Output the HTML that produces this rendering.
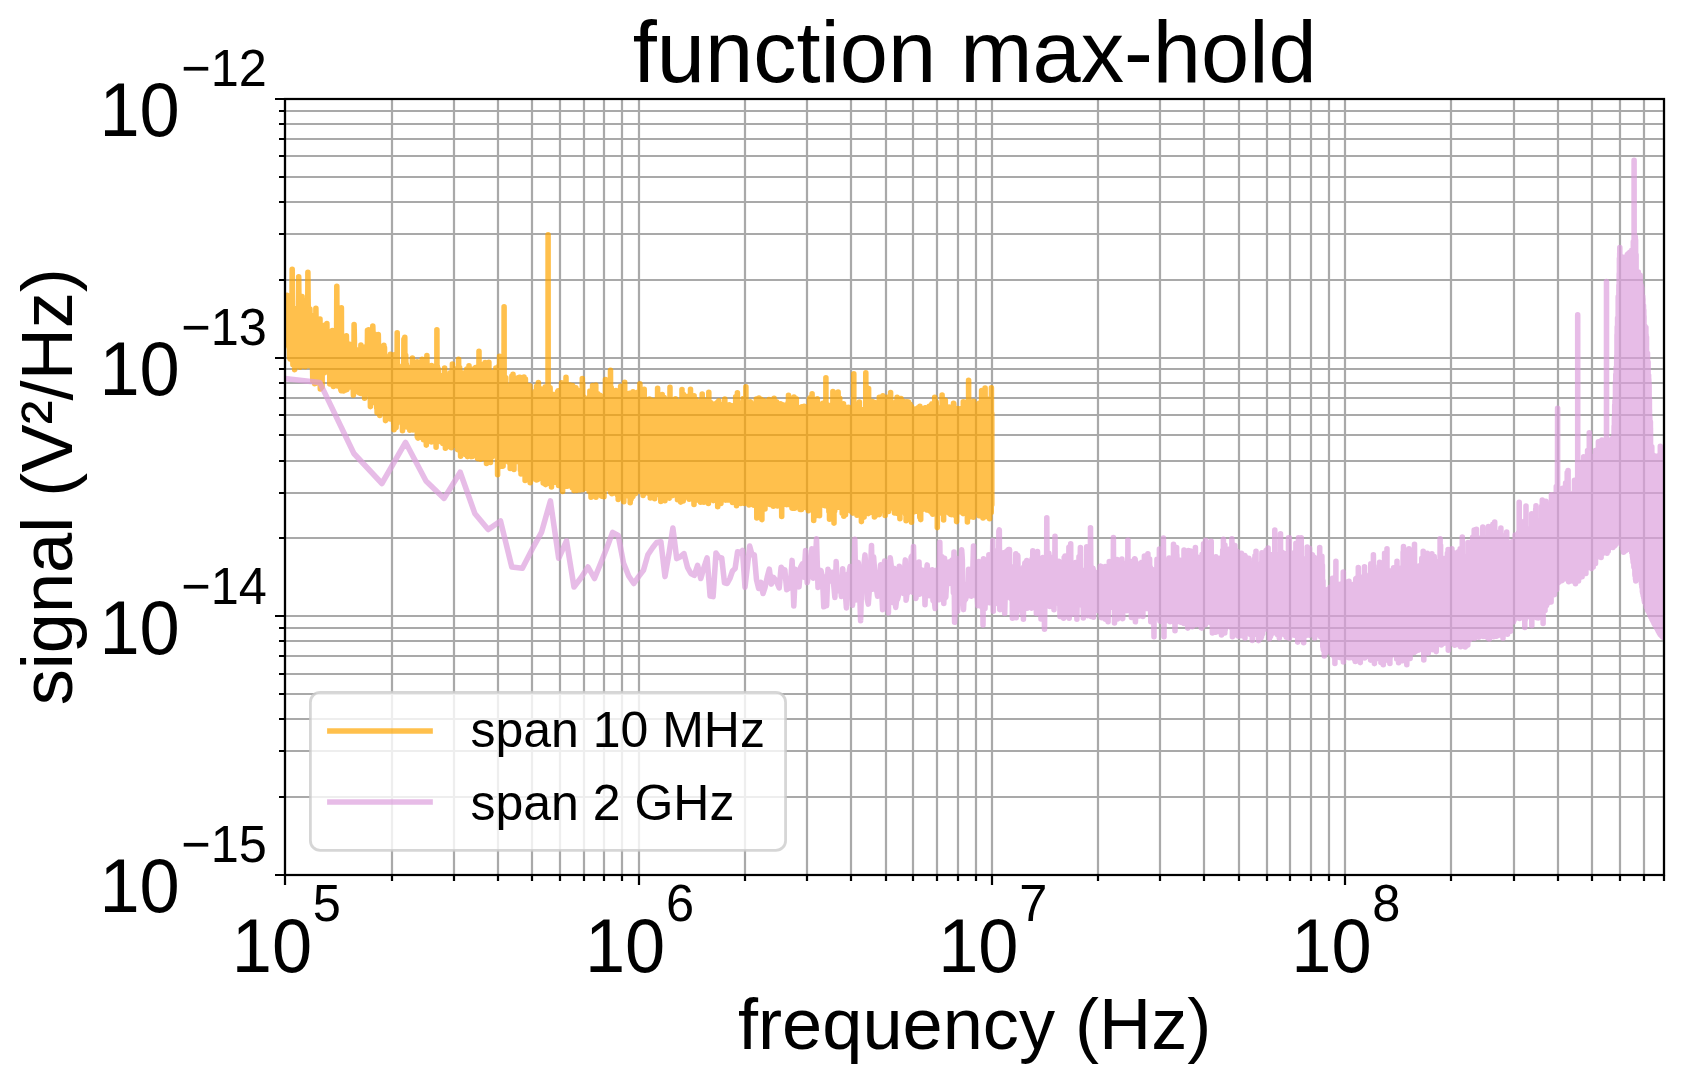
<!DOCTYPE html>
<html lang="en"><head><meta charset="utf-8"><title>function max-hold</title>
<style>html,body{margin:0;padding:0;background:#fff}body{width:1684px;height:1084px;overflow:hidden}svg{display:block}text{font-family:"Liberation Sans",sans-serif;fill:#000}</style></head><body>
<svg width="1684" height="1084" viewBox="0 0 1684 1084">
<rect width="1684" height="1084" fill="#fff"/>
<defs><clipPath id="ax"><rect x="285" y="99" width="1379" height="776"/></clipPath></defs>
<path d="M285 99V875M639 99V875M992 99V875M1345 99V875M392 99V875M454 99V875M498 99V875M532 99V875M560 99V875M584 99V875M604 99V875M622 99V875M745 99V875M807 99V875M851 99V875M886 99V875M913 99V875M937 99V875M958 99V875M976 99V875M1098 99V875M1160 99V875M1204 99V875M1239 99V875M1267 99V875M1290 99V875M1311 99V875M1329 99V875M1451 99V875M1514 99V875M1558 99V875M1592 99V875M1620 99V875M1644 99V875M1664 99V875M285 875H1664M285 616H1664M285 358H1664M285 99H1664M285 797H1664M285 751H1664M285 719H1664M285 694H1664M285 674H1664M285 656H1664M285 641H1664M285 628H1664M285 538H1664M285 493H1664M285 461H1664M285 435H1664M285 415H1664M285 398H1664M285 383H1664M285 369H1664M285 280H1664M285 234H1664M285 202H1664M285 177H1664M285 156H1664M285 139H1664M285 124H1664M285 111H1664" stroke="#a9a9a9" stroke-width="2.22" fill="none"/>
<g clip-path="url(#ax)" fill="none" stroke-width="5.56" stroke-linejoin="round" stroke-linecap="square">
<path stroke="#ffa500" stroke-opacity="0.7" d="M280.8 322.6L281.2 308.0L281.6 315.7L281.9 340.1L282.3 336.4L282.7 309.5L283.1 356.8L283.5 312.8L283.9 314.4L284.3 329.3L284.7 336.3L285.1 337.4L285.4 338.6L285.8 330.7L286.2 328.3L286.6 326.3L287.0 295.4L287.3 314.9L287.7 323.6L288.1 297.4L288.5 343.4L288.9 347.3L289.2 324.5L289.6 357.7L290.0 359.0L290.3 329.6L290.7 332.2L291.1 305.3L291.5 324.4L291.8 330.3L292.2 269.3L292.6 344.2L292.9 364.7L293.3 348.8L293.7 321.8L294.0 348.8L294.4 339.1L294.7 369.6L295.1 312.6L295.5 353.5L295.8 345.5L296.2 308.5L296.5 332.6L296.9 311.2L297.2 325.6L297.6 319.9L298.0 361.1L298.3 331.6L298.7 276.7L299.0 309.1L299.4 342.5L299.7 328.8L300.1 367.3L300.4 341.6L300.8 345.7L301.1 358.7L301.4 315.0L301.8 343.2L302.1 296.6L302.5 331.1L302.8 330.5L303.2 328.8L303.5 326.7L303.8 360.9L304.2 341.3L304.5 353.9L304.9 344.1L305.2 366.7L305.5 300.7L305.9 357.0L306.2 328.9L306.5 351.5L306.9 313.4L307.2 330.2L307.5 365.5L307.9 272.2L308.2 305.6L308.5 311.6L308.9 337.0L309.2 365.6L309.5 361.8L309.9 309.1L310.2 339.0L310.5 363.6L310.8 315.1L311.2 334.2L311.5 338.9L311.8 350.9L312.1 349.0L312.4 360.1L312.8 380.6L313.1 317.4L313.4 346.5L313.7 341.9L314.0 356.0L314.4 329.7L314.7 383.8L315.0 353.6L315.3 383.5L315.6 372.5L315.9 308.3L316.3 337.4L316.6 351.5L316.9 346.0L317.2 322.0L317.5 357.2L317.8 343.0L318.1 337.9L318.4 357.3L318.7 348.1L319.1 333.8L319.4 321.4L319.7 372.2L320.0 319.1L320.3 388.9L320.6 336.7L320.9 332.2L321.2 374.1L321.5 356.2L321.8 333.0L322.1 387.1L322.4 345.6L322.7 336.0L323.0 352.4L323.3 341.4L323.6 368.6L323.9 370.8L324.2 361.3L324.5 372.6L324.8 362.7L325.1 325.0L325.4 351.6L325.7 363.7L326.0 367.3L326.3 326.4L326.6 359.1L326.9 323.6L327.2 356.2L327.4 356.2L327.7 334.7L328.0 346.0L328.3 354.1L328.6 361.8L328.9 337.6L329.2 362.9L329.5 334.4L329.8 383.9L330.0 362.8L330.3 358.7L330.6 332.4L330.9 371.2L331.2 344.5L331.5 351.8L331.8 350.0L332.0 354.1L332.3 330.6L332.6 367.8L332.9 364.9L333.2 374.8L333.4 386.4L333.7 374.3L334.0 337.1L334.3 342.9L334.6 380.9L334.8 355.9L335.1 361.7L335.4 356.5L335.7 353.6L336.0 369.7L336.2 332.9L336.5 362.6L336.8 286.3L337.1 355.0L337.3 376.9L337.6 386.0L337.9 365.4L338.1 349.2L338.4 345.7L338.7 351.2L339.0 381.7L339.2 338.8L339.5 346.9L339.8 341.9L340.0 360.8L340.3 338.9L340.6 388.1L340.8 389.7L341.1 390.6L341.4 307.7L341.6 373.6L341.9 377.6L342.2 359.4L342.4 389.1L342.7 358.4L343.0 379.2L343.2 354.6L343.5 390.9L343.8 371.3L344.0 337.5L344.3 361.2L344.5 347.6L344.8 355.9L345.1 358.1L345.3 378.1L345.6 359.9L345.8 390.0L346.1 348.7L346.4 335.9L346.6 345.3L346.9 389.4L347.1 371.1L347.4 372.2L347.6 384.2L347.9 358.4L348.1 349.6L348.4 372.8L348.7 345.3L348.9 349.9L349.2 383.9L349.4 352.1L349.7 344.2L349.9 379.8L350.2 361.6L350.4 358.7L350.7 360.1L350.9 387.0L351.2 357.9L351.4 359.3L351.7 348.8L351.9 350.3L352.2 373.7L352.4 355.5L352.7 346.1L352.9 344.3L353.2 383.6L353.4 395.1L353.7 359.2L353.9 380.4L354.1 324.6L354.4 339.3L354.6 372.3L354.9 378.3L355.1 368.8L355.4 359.5L355.6 388.8L355.8 372.7L356.1 386.8L356.3 359.5L356.6 349.7L356.8 373.3L357.1 373.6L357.3 365.7L357.5 382.0L357.8 379.9L358.0 376.0L358.3 370.0L358.5 392.1L358.7 356.0L359.0 364.4L359.2 377.9L359.4 393.0L359.7 355.5L359.9 388.8L360.1 388.8L360.4 389.1L360.6 393.4L360.9 345.0L361.1 380.4L361.3 378.7L361.6 350.8L361.8 363.4L362.0 386.3L362.3 372.8L362.5 347.1L362.7 376.0L363.0 359.2L363.2 393.6L363.4 358.5L363.6 355.4L363.9 351.7L364.1 361.4L364.3 377.1L364.6 398.3L364.8 369.6L365.0 357.2L365.2 388.1L365.5 383.1L365.7 369.1L365.9 358.1L366.2 346.5L366.4 393.7L366.6 389.5L366.8 354.2L367.1 363.9L367.3 359.8L367.5 330.3L367.7 341.4L368.0 350.9L368.2 356.3L368.4 377.8L368.6 329.8L368.9 391.0L369.1 357.9L369.3 358.1L369.5 360.4L369.7 375.7L370.0 379.5L370.2 377.3L370.4 406.6L370.6 351.2L370.8 370.8L371.1 379.5L371.3 370.6L371.5 360.9L371.7 380.2L371.9 352.6L372.2 344.1L372.4 380.2L372.6 397.2L372.8 326.1L373.0 332.5L373.2 396.8L373.5 361.9L373.7 353.3L373.9 344.1L374.1 399.5L374.3 402.6L374.5 334.1L374.7 400.5L375.0 395.6L375.2 370.6L375.4 378.4L375.6 360.8L375.8 395.4L376.0 346.1L376.2 393.6L376.5 360.0L376.7 407.9L376.9 378.4L377.1 412.7L377.3 388.2L377.5 388.6L377.7 364.9L377.9 380.6L378.1 410.8L378.3 334.5L378.6 351.8L378.8 348.8L379.0 394.1L379.2 385.5L379.4 396.1L379.6 404.8L379.8 415.5L380.0 380.0L380.2 405.6L380.4 401.4L380.6 356.5L380.8 382.0L381.0 401.5L381.2 371.6L381.5 395.5L381.7 380.4L381.9 394.9L382.1 381.5L382.3 375.1L382.5 380.8L382.7 389.2L382.9 365.1L383.1 358.1L383.3 404.2L383.5 408.0L383.7 410.1L383.9 345.4L384.1 351.2L384.3 401.0L384.5 347.8L384.7 403.3L384.9 385.1L385.1 385.8L385.3 356.1L385.5 420.6L385.7 397.1L385.9 380.7L386.1 417.9L386.3 402.7L386.5 389.2L386.7 361.4L386.9 372.1L387.1 366.3L387.3 372.5L387.5 376.1L387.7 365.2L387.9 378.1L388.1 375.1L388.3 400.6L388.5 410.7L388.7 374.4L388.9 411.2L389.1 359.6L389.3 384.5L389.4 400.3L389.6 357.9L389.8 413.1L390.0 390.1L390.2 419.0L390.4 354.4L390.6 386.6L390.8 371.7L391.0 403.8L391.2 371.8L391.4 379.2L391.6 382.7L391.8 356.2L392.0 395.1L392.1 396.2L392.3 379.8L392.5 368.8L392.7 401.0L392.9 381.2L393.1 409.6L393.3 388.2L393.5 374.7L393.7 423.5L393.9 377.7L394.0 429.8L394.2 354.8L394.4 393.3L394.6 396.9L394.8 378.2L395.0 390.1L395.2 377.6L395.4 421.5L395.6 387.8L395.7 388.1L395.9 358.2L396.1 427.6L396.3 394.5L396.5 383.7L396.7 388.6L396.9 423.4L397.0 386.0L397.2 332.8L397.4 411.9L397.6 364.6L397.8 411.8L398.0 394.7L398.1 376.4L398.3 379.1L398.5 388.6L398.7 371.1L398.9 394.1L399.1 384.5L399.2 370.0L399.4 380.9L399.6 383.2L399.8 397.9L400.0 388.4L400.2 398.6L400.3 376.8L400.5 399.6L400.7 394.2L400.9 375.9L401.1 392.0L401.2 402.4L401.4 369.2L401.6 399.8L401.8 367.4L402.0 373.1L402.1 395.7L402.3 378.8L402.5 430.7L402.7 399.4L402.9 365.9L403.0 387.3L403.2 388.7L403.4 381.9L403.6 381.1L403.7 387.1L403.9 339.4L404.1 414.7L404.3 405.9L404.5 405.9L404.6 397.1L404.8 337.4L405.0 402.2L405.2 396.1L405.3 401.1L405.5 387.7L405.7 355.2L405.9 363.6L406.0 401.1L406.2 408.3L406.4 364.4L406.6 393.9L406.7 381.7L406.9 426.9L407.1 366.6L407.3 405.8L407.4 394.3L407.6 414.7L407.8 399.2L407.9 370.8L408.1 371.0L408.3 396.1L408.5 376.9L408.6 397.2L408.8 402.7L409.0 391.8L409.1 415.0L409.3 406.5L409.5 382.0L409.7 377.4L409.8 430.2L410.0 380.6L410.2 373.3L410.3 398.9L410.5 429.7L410.7 384.2L410.9 411.8L411.0 386.9L411.2 403.6L411.4 387.4L411.5 411.2L411.7 397.7L411.9 394.8L412.0 388.2L412.2 416.1L412.4 358.1L412.5 409.7L412.7 408.8L412.9 411.9L413.0 429.9L413.2 401.8L413.4 379.6L413.5 384.2L413.7 417.4L413.9 422.6L414.0 408.4L414.2 380.5L414.4 398.4L414.5 365.2L414.7 388.2L414.9 390.5L415.0 381.0L415.2 382.7L415.4 407.7L415.5 413.1L415.7 402.1L415.8 399.1L416.0 423.1L416.2 402.2L416.3 390.2L416.5 423.8L416.7 423.6L416.8 420.6L417.0 412.1L417.2 361.7L417.3 436.7L417.5 420.0L417.6 421.7L417.8 401.0L418.0 438.1L418.1 402.1L418.3 422.2L418.4 413.6L418.6 381.1L418.8 420.6L418.9 393.0L419.1 405.7L419.3 405.1L419.4 379.4L419.6 422.8L419.7 368.8L419.9 372.8L420.0 390.6L420.2 434.7L420.4 391.0L420.5 394.8L420.7 383.9L420.8 418.8L421.0 365.1L421.2 373.8L421.3 427.4L421.5 412.1L421.6 437.4L421.8 378.9L422.0 370.6L422.1 359.3L422.3 394.5L422.4 391.3L422.6 390.6L422.7 397.2L422.9 365.6L423.0 395.0L423.2 411.4L423.4 400.8L423.5 439.7L423.7 388.1L423.8 390.0L424.0 406.5L424.1 377.5L424.3 386.2L424.5 411.7L424.6 432.7L424.8 427.1L424.9 422.7L425.1 413.9L425.2 405.2L425.4 369.4L425.5 415.6L425.7 373.5L425.8 391.3L426.0 377.7L426.1 408.2L426.3 445.1L426.5 383.9L426.6 418.0L426.8 426.9L426.9 355.6L427.1 391.2L427.2 421.0L427.4 416.8L427.5 368.2L427.7 416.8L427.8 390.4L428.0 428.4L428.1 381.7L428.3 429.6L428.4 402.0L428.6 439.7L428.7 400.0L428.9 378.9L429.0 433.4L429.2 416.9L429.3 386.5L429.5 396.6L429.6 414.7L429.8 395.4L429.9 406.1L430.1 377.7L430.2 416.1L430.4 387.4L430.5 395.2L430.7 388.8L430.8 411.1L431.0 389.8L431.1 391.5L431.3 410.6L431.4 441.9L431.6 365.6L431.7 390.7L431.9 423.2L432.0 389.7L432.2 417.6L432.3 405.9L432.5 378.4L432.6 407.3L432.7 417.2L432.9 416.2L433.0 435.8L433.2 422.4L433.3 418.4L433.5 426.6L433.6 437.9L433.8 406.5L433.9 423.1L434.1 389.7L434.2 371.8L434.4 418.7L434.5 400.1L434.6 404.2L434.8 436.7L434.9 431.3L435.1 376.7L435.2 406.4L435.4 384.3L435.5 438.1L435.7 399.1L435.8 378.8L435.9 378.8L436.1 447.2L436.2 403.9L436.4 413.4L436.5 389.0L436.7 437.6L436.8 420.1L436.9 329.8L437.1 407.5L437.2 408.6L437.4 366.6L437.5 417.0L437.7 442.1L437.8 412.6L437.9 429.9L438.1 437.0L438.2 402.0L438.4 369.3L438.5 401.4L438.6 397.3L438.8 417.2L438.9 402.1L439.1 390.9L439.2 401.1L439.4 386.4L439.5 403.6L439.6 426.6L439.8 401.7L439.9 407.4L440.1 429.6L440.2 399.7L440.3 385.6L440.5 432.4L440.6 404.4L440.8 392.9L440.9 413.2L441.0 421.4L441.2 415.2L441.3 404.9L441.4 396.1L441.6 404.0L441.7 435.3L441.9 386.3L442.0 375.5L442.1 435.9L442.3 423.2L442.4 429.8L442.6 383.8L442.7 377.7L442.8 443.5L443.0 418.4L443.1 428.4L443.2 410.2L443.4 376.5L443.5 440.4L443.6 430.4L443.8 409.3L443.9 407.2L444.1 393.8L444.2 412.5L444.3 433.3L444.5 417.7L444.6 368.1L444.7 393.8L444.9 435.6L445.0 388.7L445.1 420.6L445.3 391.3L445.4 448.2L445.6 383.3L445.7 431.9L445.8 412.1L446.0 399.8L446.1 409.1L446.2 431.9L446.4 434.2L446.5 422.7L446.6 443.7L446.8 427.7L446.9 435.1L447.0 412.1L447.2 418.6L447.3 404.9L447.4 423.3L447.6 446.4L447.7 420.4L447.8 394.9L448.0 425.0L448.1 416.1L448.2 395.1L448.4 416.1L448.5 383.4L448.6 379.8L448.8 422.0L448.9 396.7L449.0 425.6L449.2 435.1L449.3 414.6L449.4 404.9L449.6 377.8L449.7 434.8L449.8 398.5L449.9 412.7L450.1 436.1L450.2 372.8L450.3 399.6L450.5 436.5L450.6 382.1L450.7 438.7L450.9 439.9L451.0 421.4L451.1 377.6L451.3 447.7L451.4 380.3L451.5 404.7L451.6 443.5L451.8 407.3L451.9 413.9L452.0 407.6L452.2 397.1L452.3 400.7L452.4 364.1L452.5 434.6L452.7 390.6L452.8 416.9L452.9 393.3L453.1 383.4L453.2 368.1L453.3 425.8L453.4 414.4L453.6 376.6L453.7 376.1L453.8 419.3L454.0 376.9L454.1 417.4L454.2 419.3L454.3 395.7L454.5 413.4L454.6 414.8L454.7 418.7L454.9 415.8L455.0 436.6L455.1 445.3L455.2 395.9L455.4 407.7L455.5 401.1L455.6 391.5L455.7 428.9L455.9 428.6L456.0 425.5L456.1 423.9L456.2 395.3L456.4 419.6L456.5 422.8L456.6 403.4L456.7 433.0L456.9 440.1L457.0 399.6L457.1 395.7L457.2 424.6L457.4 403.4L457.5 449.6L457.6 417.9L457.7 407.0L457.9 427.4L458.0 421.5L458.1 405.1L458.2 406.3L458.4 436.2L458.5 399.0L458.6 359.3L458.7 371.9L458.9 432.0L459.0 427.6L459.1 432.3L459.2 367.2L459.4 425.6L459.5 405.4L459.6 367.5L459.7 374.7L459.9 449.3L460.0 410.8L460.1 405.7L460.2 399.3L460.3 422.6L460.5 423.1L460.6 456.2L460.7 450.5L460.8 409.0L461.0 445.0L461.1 432.5L461.2 422.9L461.3 445.9L461.4 451.3L461.6 377.8L461.7 416.4L461.8 432.4L461.9 398.9L462.1 454.2L462.2 428.8L462.3 372.7L462.4 382.0L462.5 403.6L462.7 443.1L462.8 424.1L462.9 452.2L463.0 431.4L463.1 452.6L463.3 439.9L463.4 403.8L463.5 442.4L463.6 437.3L463.7 381.2L463.9 423.1L464.0 423.3L464.1 444.4L464.2 391.7L464.3 401.0L464.5 409.4L464.6 404.8L464.7 442.7L464.8 428.2L464.9 407.1L465.1 373.6L465.2 389.6L465.3 403.4L465.4 411.4L465.5 454.6L465.6 382.3L465.8 447.7L465.9 440.3L466.0 399.9L466.1 390.1L466.2 392.6L466.4 415.8L466.5 436.0L466.6 452.4L466.7 386.1L466.8 369.0L466.9 429.8L467.1 384.7L467.2 419.2L467.3 425.3L467.4 412.4L467.5 456.6L467.6 416.6L467.8 434.2L467.9 398.7L468.0 412.7L468.1 384.3L468.2 381.5L468.3 425.1L468.5 427.5L468.6 375.1L468.7 412.6L468.8 444.3L468.9 451.6L469.0 365.8L469.2 407.6L469.3 450.5L469.4 412.2L469.5 412.7L469.6 417.3L469.7 373.0L469.9 373.4L470.0 441.8L470.1 439.2L470.2 419.3L470.3 387.7L470.4 404.7L470.5 397.6L470.7 408.0L470.8 433.8L470.9 389.4L471.0 456.6L471.1 399.7L471.2 435.4L471.3 415.1L471.5 369.0L471.6 410.6L471.7 450.8L471.8 418.1L471.9 402.4L472.0 450.9L472.1 430.1L472.3 456.4L472.4 410.6L472.5 421.4L472.6 413.1L472.7 427.2L472.8 402.7L472.9 437.8L473.0 380.0L473.2 371.6L473.3 413.9L473.4 415.8L473.5 385.2L473.6 427.8L473.7 391.0L473.8 428.0L473.9 398.5L474.1 424.9L474.2 406.5L474.3 377.0L474.4 451.9L474.5 390.6L474.7 421.9L474.8 423.9L475.0 449.9L475.1 430.2L475.2 405.2L475.3 445.8L475.4 402.1L475.5 371.2L475.6 367.6L475.7 382.2L475.8 390.8L476.0 438.0L476.1 369.9L476.2 435.6L476.3 384.3L476.4 383.4L476.5 405.5L476.7 436.0L476.8 412.6L476.9 428.4L477.1 443.3L477.2 443.1L477.3 391.4L477.4 377.6L477.5 441.9L477.6 458.6L477.7 430.4L477.8 442.7L477.9 437.4L478.0 408.3L478.2 419.5L478.3 419.0L478.4 435.8L478.5 402.7L478.6 428.8L478.7 421.2L478.8 416.7L478.9 380.5L479.0 351.2L479.2 427.5L479.3 381.8L479.5 421.6L479.6 413.9L479.7 383.6L479.8 402.3L479.9 447.4L480.0 443.0L480.1 365.2L480.2 457.2L480.3 428.3L480.4 371.7L480.5 459.2L480.7 435.6L480.9 448.8L481.0 416.4L481.1 408.0L481.2 427.2L481.3 446.1L481.4 390.6L481.5 391.3L481.6 410.2L481.7 443.3L481.8 411.6L481.9 405.5L482.0 419.7L482.1 385.1L482.2 422.4L482.4 413.9L482.5 445.8L482.6 410.2L482.7 395.4L482.8 398.4L482.9 431.8L483.0 364.5L483.1 399.3L483.2 420.1L483.3 420.8L483.4 394.1L483.5 439.9L483.7 399.4L483.8 413.7L483.9 384.1L484.0 417.1L484.1 417.4L484.3 430.1L484.4 378.1L484.5 428.0L484.6 401.1L484.7 421.4L484.8 375.5L484.9 373.4L485.0 458.5L485.1 362.6L485.2 407.6L485.3 451.9L485.4 415.3L485.5 455.6L485.6 411.6L485.7 439.4L485.8 424.5L485.9 429.0L486.0 407.9L486.2 375.3L486.3 427.4L486.4 410.2L486.5 463.4L486.7 371.3L486.9 446.4L487.0 384.6L487.1 404.4L487.2 430.0L487.3 394.4L487.4 430.4L487.5 381.9L487.6 451.1L487.7 446.6L487.8 397.5L488.0 443.7L488.1 414.5L488.2 430.0L488.3 411.9L488.5 386.0L488.6 455.0L488.7 408.9L488.8 366.6L488.9 362.3L489.0 395.5L489.1 449.3L489.2 384.3L489.3 409.7L489.4 382.7L489.5 393.6L489.6 384.7L489.7 455.6L489.8 400.1L489.9 439.1L490.0 432.6L490.2 409.2L490.3 406.6L490.4 376.3L490.5 462.4L490.7 425.9L490.8 390.6L490.9 412.5L491.0 415.2L491.1 397.0L491.2 405.0L491.3 431.3L491.4 451.5L491.5 419.0L491.6 384.3L491.7 409.3L491.8 456.9L491.9 420.8L492.0 424.8L492.2 410.3L492.3 373.9L492.4 428.3L492.5 423.3L492.7 384.1L492.8 402.0L492.9 418.9L493.0 392.0L493.1 418.0L493.2 372.3L493.3 432.6L493.4 447.5L493.5 390.5L493.6 431.7L493.7 388.7L493.8 409.4L493.9 416.6L494.0 452.5L494.1 395.5L494.2 455.8L494.3 372.5L494.5 431.6L494.6 447.9L494.7 385.1L494.8 419.1L494.9 448.3L495.0 417.8L495.1 436.0L495.2 424.4L495.3 407.8L495.4 381.3L495.5 394.5L495.6 444.8L495.7 419.6L495.8 418.6L495.9 368.1L496.0 453.2L496.1 417.3L496.2 381.8L496.3 425.4L496.4 435.3L496.4 414.3L496.5 431.2L496.6 379.9L496.7 453.8L496.8 440.7L496.9 454.0L497.0 403.4L497.1 433.3L497.2 384.6L497.3 385.4L497.4 378.7L497.5 436.1L497.6 474.7L497.7 426.8L497.8 374.5L498.0 458.1L498.1 404.5L498.2 382.2L498.3 373.9L498.4 403.6L498.5 389.2L498.6 391.5L498.7 429.3L498.8 452.3L498.9 403.0L498.9 448.5L499.0 427.6L499.1 365.5L499.2 415.1L499.3 417.9L499.4 377.7L499.5 434.9L499.6 356.4L499.7 383.8L499.8 429.3L500.0 449.9L500.1 383.3L500.2 444.0L500.3 466.4L500.4 387.1L500.5 412.9L500.6 407.7L500.7 403.4L500.7 461.6L500.8 454.2L500.9 420.1L501.0 460.6L501.2 403.4L501.3 409.0L501.4 412.0L501.5 461.3L501.7 386.9L501.8 450.9L501.9 418.1L502.0 460.9L502.1 380.3L502.2 446.2L502.2 427.0L502.3 417.3L502.4 405.2L502.5 380.8L502.7 431.6L502.8 457.4L503.0 375.1L503.1 466.1L503.2 400.6L503.3 446.1L503.5 419.5L503.5 413.0L503.6 371.7L503.7 407.9L503.8 428.9L503.9 406.0L504.0 423.7L504.1 306.9L504.2 430.9L504.3 421.9L504.5 440.0L504.6 449.4L504.7 425.8L504.7 436.2L504.8 394.7L504.9 393.6L505.0 432.8L505.2 387.8L505.3 431.8L505.4 418.0L505.5 425.9L505.6 411.3L505.7 378.6L505.8 450.8L505.8 377.8L505.9 410.4L506.0 399.6L506.1 412.6L506.2 391.8L506.3 434.5L506.4 407.6L506.5 438.9L506.6 421.7L506.7 409.6L506.8 444.9L506.8 460.9L506.9 400.5L507.0 398.7L507.2 435.2L507.3 411.5L507.4 457.7L507.5 411.2L507.6 417.4L507.7 414.5L507.7 426.5L507.8 442.9L507.9 407.0L508.0 425.4L508.1 405.7L508.2 432.5L508.3 457.4L508.5 414.5L508.6 386.1L508.7 462.2L508.8 403.3L508.9 440.1L509.0 409.4L509.2 435.9L509.3 424.2L509.4 409.8L509.5 413.8L509.6 411.0L509.7 431.7L509.8 411.2L509.9 434.5L510.0 416.1L510.1 426.6L510.2 419.4L510.2 468.5L510.3 423.9L510.4 444.4L510.5 431.9L510.6 460.4L510.7 412.9L510.8 391.3L511.0 456.1L511.0 415.6L511.1 454.0L511.2 391.6L511.3 454.5L511.5 424.6L511.6 455.1L511.7 437.1L511.7 440.2L511.8 409.4L511.9 376.0L512.0 434.1L512.1 402.6L512.2 453.1L512.3 418.9L512.4 439.6L512.5 399.5L512.7 453.9L512.8 439.4L513.0 374.2L513.1 417.0L513.2 376.8L513.3 408.0L513.5 445.6L513.6 434.2L513.7 387.3L513.8 439.2L513.9 432.6L514.0 469.5L514.1 411.4L514.2 429.3L514.3 402.6L514.4 444.7L514.4 414.1L514.5 413.2L514.7 449.3L514.8 432.4L514.9 408.2L515.0 449.4L515.0 459.8L515.1 428.3L515.2 444.9L515.3 402.7L515.5 384.7L515.6 398.6L515.7 449.9L515.8 400.5L515.9 409.8L516.0 408.5L516.1 412.0L516.2 399.8L516.2 440.4L516.3 413.9L516.5 437.7L516.6 438.5L516.7 453.4L516.8 426.9L516.8 435.6L516.9 431.9L517.0 397.8L517.2 413.7L517.3 378.1L517.3 447.5L517.4 426.0L517.5 460.5L517.7 384.6L517.8 461.6L517.9 396.7L518.0 426.1L518.1 404.0L518.2 431.0L518.3 437.3L518.4 426.5L518.4 450.2L518.5 440.6L518.6 440.8L518.7 377.6L518.8 438.8L518.9 447.0L518.9 386.8L519.0 456.1L519.1 382.5L519.2 398.4L519.3 416.8L519.4 450.4L519.5 459.6L519.6 459.9L519.7 438.1L519.8 434.0L519.9 389.7L519.9 424.9L520.0 377.4L520.2 455.8L520.3 423.8L520.4 469.9L520.5 386.6L520.7 451.7L520.8 460.6L520.9 417.0L520.9 430.6L521.0 474.0L521.1 412.6L521.2 445.3L521.3 406.9L521.3 428.8L521.4 425.5L521.5 431.1L521.7 378.2L521.8 405.2L521.8 465.9L521.9 428.6L522.0 447.7L522.1 461.1L522.2 451.7L522.3 446.4L522.3 384.6L522.5 399.6L522.6 414.3L522.7 441.7L522.7 436.3L522.8 432.8L522.9 443.4L523.0 434.3L523.1 408.5L523.2 465.5L523.2 444.7L523.3 430.3L523.4 416.2L523.5 418.4L523.6 412.8L523.6 461.4L523.7 453.8L523.8 442.6L523.9 444.6L524.0 410.5L524.0 377.1L524.2 472.5L524.3 443.6L524.4 391.2L524.5 422.4L524.6 440.1L524.7 439.7L524.8 419.8L524.9 399.2L524.9 440.8L525.0 453.3L525.1 480.5L525.2 458.8L525.3 400.7L525.4 379.1L525.5 467.4L525.6 439.2L525.7 406.8L525.7 418.1L525.8 468.0L526.0 419.9L526.1 416.3L526.2 454.1L526.3 384.8L526.4 432.3L526.5 414.4L526.5 427.5L526.6 466.2L526.7 449.4L526.8 469.0L526.9 453.2L527.0 436.3L527.1 443.0L527.2 405.1L527.3 475.5L527.5 406.2L527.6 427.9L527.7 447.2L527.8 427.4L527.9 451.4L528.0 400.9L528.0 404.6L528.2 475.4L528.3 397.8L528.4 445.2L528.4 419.4L528.5 401.1L528.7 400.7L528.7 431.6L528.8 402.9L529.0 447.9L529.1 432.3L529.1 442.8L529.2 411.2L529.3 404.2L529.4 460.2L529.5 457.8L529.5 439.5L529.7 387.6L529.8 390.1L529.8 385.8L530.0 418.6L530.1 447.9L530.2 440.5L530.2 482.8L530.3 404.5L530.5 468.0L530.5 444.8L530.7 415.4L530.8 480.4L530.9 397.8L531.0 402.4L531.2 452.5L531.3 400.3L531.5 430.9L531.5 458.9L531.7 440.6L531.8 444.1L531.9 471.2L531.9 438.7L532.0 435.7L532.1 447.4L532.2 444.2L532.3 441.0L532.4 423.6L532.5 432.4L532.5 455.5L532.6 409.4L532.7 431.3L532.8 435.3L532.9 414.1L533.0 403.7L533.2 420.3L533.2 416.6L533.3 459.9L533.4 418.2L533.5 450.2L533.5 450.0L533.6 463.8L533.7 440.0L533.8 478.0L534.0 412.0L534.1 463.0L534.2 405.3L534.3 475.9L534.4 449.6L534.5 435.6L534.6 458.8L534.7 430.2L534.8 444.2L535.0 419.7L535.1 451.4L535.2 416.3L535.3 417.2L535.4 471.3L535.4 391.4L535.5 427.7L535.6 449.6L535.7 432.1L535.8 432.1L535.9 451.5L536.0 450.3L536.0 443.2L536.1 412.2L536.2 438.0L536.3 476.2L536.3 437.0L536.5 479.9L536.6 386.3L536.6 448.5L536.7 431.0L536.8 443.9L536.9 474.1L537.0 393.8L537.1 458.2L537.1 439.7L537.2 442.9L537.3 460.2L537.4 412.6L537.5 415.0L537.7 479.6L537.7 454.0L537.8 433.0L537.9 419.6L538.0 442.3L538.0 437.8L538.1 406.5L538.2 479.0L538.3 450.8L538.4 382.6L538.5 454.5L538.6 475.6L538.7 423.7L538.8 462.1L538.8 406.9L539.0 419.9L539.1 461.4L539.1 402.5L539.2 457.4L539.3 418.0L539.4 407.2L539.4 452.2L539.5 468.9L539.6 428.5L539.7 436.2L539.8 413.5L539.9 437.4L539.9 435.0L540.0 435.8L540.2 461.9L540.3 449.6L540.5 453.1L540.5 413.6L540.6 466.7L540.7 433.2L540.8 448.6L540.9 454.1L541.0 444.2L541.0 435.1L541.2 389.1L541.3 406.4L541.5 441.4L541.5 454.4L541.6 392.8L541.7 473.3L541.8 457.9L541.8 423.9L542.0 451.4L542.0 395.4L542.1 442.1L542.2 428.7L542.3 470.1L542.3 402.7L542.5 443.3L542.6 403.3L542.6 394.3L542.7 401.2L542.8 409.6L542.9 479.4L543.0 439.3L543.1 474.6L543.1 391.9L543.2 483.1L543.3 448.5L543.4 482.0L543.5 436.1L543.6 472.8L543.6 402.2L543.7 422.7L543.8 445.5L543.8 408.5L544.0 448.7L544.1 408.0L544.1 397.5L544.2 427.8L544.3 446.9L544.4 395.4L544.5 447.3L544.5 471.6L544.6 406.0L544.7 424.7L544.8 456.2L545.0 399.5L545.0 447.9L545.2 478.4L545.3 447.9L545.3 386.9L545.4 457.8L545.5 439.8L545.5 390.8L545.6 484.6L545.7 411.4L545.8 470.6L545.9 398.3L546.0 410.0L546.0 465.6L546.2 423.2L546.3 450.9L546.4 445.4L546.4 455.9L546.5 452.0L546.6 462.5L546.7 402.6L546.7 404.7L546.8 447.2L546.9 423.5L546.9 438.0L547.0 453.0L547.1 392.7L547.2 448.7L547.3 431.8L547.4 396.1L547.4 451.9L547.5 413.3L547.6 469.1L547.7 413.7L547.8 410.4L547.9 422.6L548.0 390.6L548.0 453.5L548.1 234.7L548.2 459.2L548.3 473.2L548.5 417.0L548.5 483.3L548.6 397.0L548.7 452.7L548.8 411.3L548.9 404.7L548.9 421.1L549.0 449.9L549.2 411.2L549.2 448.3L549.3 414.4L549.4 440.4L549.5 404.7L549.6 446.4L549.6 420.4L549.7 428.3L549.8 450.3L549.9 430.8L550.0 435.7L550.0 470.2L550.1 387.8L550.2 480.9L550.3 397.2L550.5 468.8L550.5 413.0L550.6 443.2L550.7 412.3L550.8 435.7L550.9 479.2L550.9 412.9L551.0 424.6L551.1 402.9L551.1 454.9L551.2 416.9L551.3 407.5L551.5 450.4L551.5 487.0L551.7 450.6L551.7 470.8L551.8 419.0L551.9 443.8L551.9 433.7L552.0 454.0L552.1 420.3L552.2 440.8L552.3 431.7L552.3 444.2L552.5 404.9L552.5 455.3L552.7 425.2L552.8 473.9L552.8 394.3L553.0 457.1L553.0 419.6L553.2 429.3L553.2 401.9L553.3 473.6L553.5 401.8L553.6 428.6L553.7 446.8L553.8 433.6L553.8 434.8L553.9 403.8L554.0 412.5L554.0 421.8L554.1 400.7L554.2 477.3L554.2 418.7L554.3 441.5L554.4 420.7L554.4 453.5L554.5 441.2L554.6 412.8L554.6 482.2L554.7 453.9L554.8 439.7L554.8 409.9L554.9 455.5L555.0 413.0L555.0 457.5L555.2 427.8L555.3 406.8L555.4 457.0L555.5 421.2L555.5 429.2L555.6 447.2L555.7 405.0L555.8 440.5L555.9 402.0L555.9 469.6L556.0 465.7L556.1 419.4L556.2 432.9L556.3 439.3L556.3 467.8L556.4 420.5L556.5 421.6L556.5 467.9L556.7 402.7L556.8 408.0L556.9 448.7L557.0 443.1L557.1 464.8L557.1 439.4L557.2 466.3L557.3 447.8L557.4 478.3L557.4 441.3L557.5 425.0L557.6 428.2L557.6 391.8L557.7 406.3L557.8 429.5L557.8 405.0L557.9 443.3L558.0 415.8L558.0 454.9L558.2 390.7L558.2 432.1L558.3 438.8L558.4 452.9L558.5 412.3L558.5 485.4L558.7 457.0L558.8 397.1L558.9 484.7L559.0 433.9L559.1 424.6L559.1 418.6L559.2 447.9L559.3 460.6L559.3 410.0L559.4 478.5L559.5 459.5L559.6 397.7L559.7 422.8L559.8 434.8L559.8 437.9L559.9 425.3L560.0 430.2L560.0 451.4L560.1 474.3L560.2 417.7L560.3 429.7L560.4 481.9L560.5 404.7L560.5 448.1L560.6 400.4L560.7 436.1L560.8 413.8L561.0 467.4L561.0 431.9L561.2 477.2L561.2 470.0L561.3 441.1L561.4 419.6L561.5 471.1L561.6 486.6L561.6 382.7L561.7 438.9L561.8 462.1L561.9 462.2L562.0 417.0L562.1 483.1L562.2 388.3L562.3 435.4L562.4 465.0L562.5 452.7L562.6 410.2L562.6 491.4L562.7 417.5L562.8 427.5L562.8 486.2L562.9 422.5L563.0 427.1L563.1 409.2L563.2 462.3L563.3 445.2L563.4 429.1L563.4 475.8L563.5 465.5L563.6 419.7L563.7 428.0L563.8 422.7L563.9 463.7L563.9 425.3L564.0 472.2L564.1 443.7L564.2 472.4L564.3 473.3L564.4 422.1L564.4 449.5L564.5 448.1L564.6 462.8L564.7 434.0L564.8 399.2L564.8 483.4L564.9 388.1L565.0 451.3L565.1 413.3L565.2 428.9L565.3 455.6L565.4 407.6L565.4 473.4L565.5 441.5L565.6 486.3L565.6 411.1L565.7 482.8L565.8 421.9L565.9 471.5L566.0 377.4L566.1 426.1L566.1 452.3L566.2 391.6L566.3 430.1L566.4 479.7L566.5 472.1L566.5 410.5L566.7 434.4L566.8 434.6L566.9 422.8L567.0 452.8L567.0 440.5L567.2 428.3L567.2 462.3L567.3 486.3L567.5 409.8L567.5 424.2L567.6 421.7L567.7 474.3L567.8 442.9L567.8 409.2L567.9 430.5L568.0 449.7L568.1 469.4L568.1 430.9L568.2 441.5L568.3 451.8L568.3 458.3L568.4 425.8L568.5 434.7L568.6 458.2L568.6 421.4L568.7 442.0L568.8 400.3L569.0 452.4L569.0 411.8L569.1 448.9L569.2 388.8L569.2 405.6L569.3 428.6L569.3 412.8L569.4 437.2L569.5 423.1L569.5 472.3L569.6 388.7L569.7 470.5L569.8 459.9L569.9 420.5L569.9 469.8L570.0 394.7L570.1 452.0L570.1 385.0L570.2 441.6L570.3 450.8L570.4 477.0L570.5 430.9L570.5 419.3L570.7 450.7L570.7 398.6L570.8 455.8L570.8 398.3L571.0 469.4L571.0 409.6L571.1 425.5L571.2 411.9L571.3 437.9L571.4 450.6L571.5 405.0L571.6 468.9L571.6 419.5L571.7 466.4L571.8 465.0L571.9 435.3L572.0 460.3L572.0 475.6L572.1 419.3L572.2 487.8L572.3 442.1L572.3 433.1L572.4 483.5L572.4 456.2L572.5 404.1L572.6 385.6L572.7 468.1L572.7 420.5L572.8 444.5L572.9 468.0L573.0 401.3L573.0 407.8L573.1 481.5L573.2 405.1L573.3 389.2L573.4 462.3L573.4 437.6L573.5 426.2L573.7 459.9L573.7 456.2L573.8 483.8L573.9 396.0L574.0 490.6L574.0 423.9L574.1 417.8L574.1 448.2L574.2 433.8L574.3 462.9L574.4 423.4L574.5 441.6L574.6 393.0L574.7 435.6L574.7 427.3L574.8 458.0L574.8 397.7L575.0 405.9L575.0 457.0L575.1 390.2L575.1 475.4L575.2 438.8L575.3 474.8L575.4 420.7L575.4 481.4L575.5 450.0L575.5 466.2L575.6 411.0L575.7 478.8L575.7 453.5L575.8 410.4L575.8 427.1L575.9 387.9L576.0 488.2L576.2 422.6L576.2 425.2L576.3 480.5L576.4 419.9L576.5 432.9L576.5 459.1L576.6 490.5L576.6 438.8L576.7 477.6L576.8 422.6L576.9 416.1L576.9 476.8L577.0 441.8L577.0 476.2L577.1 419.2L577.2 461.8L577.3 394.7L577.4 453.7L577.5 450.5L577.6 398.3L577.7 390.2L577.7 482.3L577.8 423.9L577.8 457.2L578.0 431.3L578.0 485.0L578.2 423.5L578.2 463.4L578.3 441.7L578.4 461.8L578.5 399.8L578.5 441.0L578.7 414.8L578.7 459.4L578.8 479.8L578.9 444.1L579.0 489.0L579.0 402.6L579.2 472.5L579.3 421.7L579.4 468.5L579.4 391.0L579.5 397.2L579.5 401.4L579.7 456.7L579.8 430.4L580.0 490.0L580.0 425.6L580.1 453.6L580.2 419.7L580.3 413.5L580.3 433.2L580.5 401.5L580.5 406.6L580.6 485.6L580.7 450.2L580.8 460.5L580.9 409.3L580.9 488.5L581.0 467.9L581.1 422.1L581.1 463.5L581.2 394.7L581.3 421.8L581.4 472.8L581.5 391.7L581.6 418.7L581.6 481.5L581.7 451.3L581.8 425.6L581.9 489.4L582.0 457.4L582.1 411.0L582.1 407.5L582.2 428.4L582.2 423.6L582.3 378.6L582.3 453.0L582.5 446.4L582.6 420.5L582.7 383.9L582.7 457.5L582.8 430.7L583.0 458.8L583.0 489.6L583.2 413.4L583.3 471.2L583.4 400.4L583.5 444.4L583.5 466.2L583.7 396.8L583.7 410.4L583.8 406.9L583.9 460.1L584.0 419.4L584.0 412.3L584.2 462.1L584.3 410.2L584.3 403.6L584.4 452.3L584.5 451.3L584.5 446.3L584.6 437.5L584.6 464.1L584.7 459.9L584.8 460.4L584.9 477.0L585.0 420.4L585.0 469.1L585.1 431.9L585.2 473.0L585.2 449.3L585.3 437.8L585.3 438.8L585.4 408.0L585.5 420.0L585.5 474.9L585.6 414.6L585.7 470.8L585.8 444.7L585.9 417.7L586.0 464.8L586.1 414.8L586.1 437.6L586.2 412.7L586.3 449.7L586.3 403.9L586.5 451.7L586.5 440.6L586.6 469.5L586.7 408.4L586.8 470.8L586.9 487.4L587.0 404.5L587.0 444.3L587.1 488.4L587.2 420.6L587.2 454.9L587.3 441.8L587.3 467.3L587.4 434.9L587.4 450.5L587.5 417.9L587.7 483.1L587.8 409.8L587.8 401.4L587.9 432.2L588.0 427.6L588.0 435.1L588.2 464.5L588.3 448.4L588.4 442.4L588.4 488.4L588.5 450.9L588.5 459.0L588.6 417.5L588.7 430.8L588.8 434.6L588.8 461.2L589.0 399.8L589.0 468.9L589.1 491.3L589.2 397.2L589.2 412.3L589.3 435.1L589.4 407.0L589.5 462.4L589.5 447.3L589.6 465.4L589.7 427.2L589.7 460.8L589.8 427.6L589.9 448.8L589.9 391.1L590.0 433.5L590.1 423.9L590.1 490.0L590.2 427.5L590.3 400.5L590.4 484.1L590.5 408.9L590.5 410.5L590.7 462.5L590.8 430.9L590.8 428.9L591.0 497.2L591.0 467.6L591.1 415.5L591.2 481.8L591.3 462.3L591.4 410.7L591.5 413.2L591.5 396.3L591.7 473.4L591.7 398.6L591.8 464.2L591.9 417.5L592.0 467.2L592.0 449.4L592.1 465.2L592.1 412.7L592.2 433.8L592.3 457.3L592.3 469.8L592.4 413.1L592.5 423.4L592.5 426.2L592.6 385.6L592.7 469.6L592.7 435.5L592.8 459.4L593.0 404.8L593.0 418.4L593.1 449.9L593.2 412.9L593.2 422.5L593.3 439.9L593.3 408.6L593.4 477.3L593.5 460.6L593.5 432.0L593.7 468.3L593.8 479.0L593.8 486.1L593.9 431.0L594.0 447.0L594.1 402.6L594.1 434.4L594.2 423.9L594.3 399.4L594.3 483.3L594.5 446.5L594.5 400.5L594.6 484.4L594.7 450.4L594.8 443.3L594.9 465.6L594.9 397.1L595.0 451.6L595.0 462.7L595.1 464.1L595.2 410.4L595.3 485.9L595.3 487.0L595.5 422.0L595.5 445.5L595.6 433.5L595.7 490.8L595.7 462.9L595.8 385.1L596.0 465.4L596.0 497.2L596.2 448.0L596.3 440.5L596.4 488.9L596.5 398.4L596.5 489.7L596.6 426.9L596.7 456.5L596.8 453.8L596.9 407.5L597.0 480.6L597.0 488.1L597.1 411.2L597.2 437.1L597.3 415.3L597.4 473.0L597.5 461.5L597.5 491.3L597.6 398.0L597.7 410.9L597.8 393.8L597.9 469.0L598.0 442.5L598.0 438.2L598.1 397.8L598.2 456.0L598.3 438.1L598.4 483.1L598.5 477.3L598.5 476.2L598.7 429.3L598.7 482.3L598.8 477.4L599.0 428.3L599.0 432.5L599.1 426.7L599.2 481.5L599.2 466.9L599.3 426.7L599.3 468.9L599.5 449.6L599.5 416.9L599.7 461.3L599.7 420.1L599.8 433.0L599.8 449.0L600.0 395.3L600.0 432.5L600.1 409.7L600.1 440.9L600.2 416.0L600.3 480.2L600.4 485.4L600.5 421.9L600.5 428.8L600.6 403.4L600.6 454.1L600.7 407.6L600.8 451.2L600.8 416.9L601.0 461.1L601.0 466.9L601.1 472.3L601.2 396.6L601.3 479.1L601.4 496.1L601.4 404.1L601.5 482.9L601.5 431.4L601.6 468.5L601.7 430.7L601.8 491.5L601.8 413.5L602.0 433.2L602.0 435.1L602.1 458.1L602.2 407.8L602.3 441.8L602.3 416.2L602.5 445.4L602.5 431.3L602.6 428.0L602.7 470.2L602.7 457.8L602.8 412.6L602.8 452.4L602.9 403.1L603.0 438.9L603.0 478.6L603.2 413.7L603.3 445.9L603.3 485.6L603.5 419.0L603.5 479.0L603.6 491.0L603.6 435.6L603.7 449.0L603.8 418.3L603.9 398.0L604.0 496.7L604.0 473.6L604.1 400.1L604.2 481.8L604.2 443.6L604.3 452.3L604.3 451.5L604.5 464.4L604.5 478.5L604.7 400.5L604.8 456.5L604.8 411.5L605.0 420.1L605.0 452.3L605.1 434.9L605.2 477.8L605.2 442.3L605.3 479.7L605.5 379.6L605.5 462.4L605.6 474.0L605.7 424.1L605.8 429.1L605.8 440.1L606.0 431.6L606.0 404.7L606.1 395.2L606.2 478.4L606.3 448.2L606.3 422.6L606.5 486.0L606.5 468.1L606.6 483.7L606.7 413.7L606.8 458.1L606.9 420.4L607.0 486.9L607.0 466.6L607.1 468.5L607.2 435.6L607.3 445.1L607.4 434.8L607.4 488.6L607.5 461.5L607.5 458.9L607.6 411.8L607.6 486.7L607.7 469.1L607.8 430.2L607.9 485.8L607.9 413.5L608.0 430.1L608.0 466.7L608.1 406.7L608.2 483.0L608.2 447.9L608.3 444.3L608.3 409.8L608.5 486.7L608.5 449.9L608.6 453.9L608.6 388.8L608.7 451.7L608.8 454.7L608.9 479.7L608.9 418.6L609.0 449.5L609.0 429.1L609.2 486.8L609.3 481.1L609.4 417.7L609.5 444.6L609.5 395.2L609.7 438.6L609.8 437.2L610.0 484.6L610.0 454.4L610.2 418.9L610.2 488.4L610.3 404.0L610.4 451.2L610.5 417.7L610.5 370.4L610.6 492.2L610.7 442.0L610.8 488.1L610.8 394.2L611.0 426.9L611.0 442.2L611.2 391.9L611.2 477.2L611.3 387.9L611.3 468.5L611.5 409.8L611.5 442.9L611.6 484.5L611.7 418.9L611.8 487.7L611.8 410.1L611.9 493.8L612.0 476.9L612.0 442.5L612.1 480.9L612.1 410.8L612.2 432.2L612.3 433.3L612.4 406.7L612.4 488.8L612.5 463.0L612.5 457.6L612.6 438.4L612.7 478.0L612.7 439.5L612.8 428.0L612.9 493.1L613.0 442.3L613.0 435.1L613.1 399.0L613.2 468.4L613.2 418.9L613.3 428.4L613.3 405.0L613.4 464.8L613.5 451.9L613.5 431.3L613.6 400.1L613.7 483.9L613.8 437.5L613.8 464.3L613.9 396.3L614.0 434.4L614.0 427.9L614.2 411.8L614.2 477.1L614.3 400.0L614.3 452.9L614.5 446.9L614.5 450.4L614.6 429.6L614.7 481.1L614.8 448.7L614.9 422.2L614.9 478.3L615.0 452.4L615.0 422.6L615.1 416.4L615.2 488.6L615.2 453.3L615.3 424.2L615.3 442.7L615.4 392.4L615.5 431.6L615.5 441.3L615.5 415.3L615.6 493.3L615.7 437.6L615.8 400.8L615.9 390.5L616.0 465.8L616.0 440.8L616.1 478.1L616.2 428.8L616.2 430.4L616.3 396.5L616.3 475.4L616.5 446.3L616.5 435.0L616.6 478.5L616.7 416.2L616.7 445.4L616.8 449.4L616.9 450.4L617.0 395.4L617.0 455.8L617.1 465.2L617.2 417.2L617.3 445.9L617.4 407.4L617.5 492.0L617.5 470.4L617.6 403.4L617.6 495.3L617.7 479.7L617.8 410.1L617.8 453.5L618.0 427.3L618.0 447.6L618.2 499.5L618.2 437.7L618.2 462.3L618.3 461.6L618.3 411.5L618.4 479.2L618.5 435.0L618.5 441.9L618.6 486.2L618.7 393.1L618.8 420.5L618.9 406.4L618.9 489.9L619.0 406.5L619.0 444.1L619.2 427.5L619.2 488.2L619.3 489.6L619.4 492.7L619.5 434.0L619.5 449.4L619.6 481.8L619.7 411.0L619.7 436.5L619.8 435.7L619.9 464.2L620.0 411.9L620.0 468.5L620.2 407.5L620.3 468.2L620.4 410.6L620.5 457.5L620.5 411.1L620.6 386.3L620.7 466.1L620.8 467.1L620.9 417.3L620.9 468.2L621.0 464.2L621.0 475.5L621.2 435.1L621.2 486.7L621.2 469.7L621.3 477.7L621.4 402.7L621.5 475.4L621.5 432.2L621.6 396.1L621.7 453.9L621.8 452.0L621.8 459.6L622.0 413.3L622.0 433.3L622.2 466.0L622.2 406.8L622.3 420.3L622.3 409.1L622.4 449.6L622.5 424.2L622.5 472.5L622.6 488.8L622.6 397.5L622.7 472.7L622.8 423.8L622.8 417.6L622.9 489.0L623.0 435.8L623.0 410.5L623.2 493.5L623.3 476.2L623.5 398.3L623.5 447.9L623.6 424.6L623.7 432.9L623.8 501.7L623.8 412.4L624.0 438.2L624.0 425.3L624.0 460.4L624.1 401.1L624.2 446.5L624.3 484.3L624.3 493.5L624.3 434.2L624.5 457.9L624.5 471.3L624.7 382.4L624.8 413.4L624.8 453.6L625.0 418.9L625.0 416.8L625.1 407.9L625.2 496.0L625.2 446.0L625.3 459.8L625.5 405.9L625.5 456.4L625.6 469.2L625.7 428.5L625.8 495.9L625.8 423.6L626.0 441.9L626.0 460.3L626.1 418.1L626.2 436.9L626.3 476.4L626.4 401.4L626.5 448.9L626.5 395.5L626.6 480.3L626.7 470.9L626.8 411.1L626.9 481.1L627.0 480.4L627.0 446.2L627.1 427.9L627.2 472.8L627.3 415.8L627.3 480.4L627.5 424.0L627.5 476.1L627.6 401.6L627.7 458.5L627.8 471.9L627.8 418.5L627.9 478.4L628.0 456.3L628.0 435.8L628.0 455.3L628.1 398.5L628.2 425.9L628.3 400.8L628.3 490.2L628.5 465.8L628.5 427.2L628.6 457.8L628.7 408.2L628.7 412.9L628.8 450.0L628.9 480.2L629.0 408.6L629.0 426.9L629.2 455.6L629.3 415.4L629.3 455.1L629.4 409.3L629.5 417.4L629.5 393.9L629.6 393.2L629.6 454.6L629.7 398.2L629.8 435.7L629.8 491.7L630.0 411.4L630.0 454.8L630.2 502.8L630.2 443.7L630.2 445.2L630.3 414.2L630.3 471.4L630.5 430.1L630.5 475.2L630.7 398.1L630.7 499.4L630.7 434.9L630.8 432.9L630.8 412.5L630.9 477.5L631.0 463.3L631.0 485.4L631.2 420.7L631.3 498.7L631.4 404.7L631.5 464.5L631.5 408.3L631.6 451.6L631.7 431.4L631.8 436.5L631.9 463.4L632.0 408.9L632.0 416.5L632.1 488.7L632.2 403.2L632.3 462.7L632.3 492.8L632.5 420.9L632.5 408.4L632.6 476.2L632.7 457.0L632.8 447.2L632.9 496.4L633.0 391.7L633.0 441.7L633.1 456.8L633.1 418.4L633.2 439.1L633.3 464.5L633.4 476.2L633.5 418.3L633.5 461.3L633.5 460.6L633.7 425.2L633.7 477.5L633.7 443.4L633.8 443.1L633.8 479.5L634.0 395.3L634.0 481.7L634.2 492.9L634.2 414.7L634.2 465.6L634.3 452.6L634.4 399.1L634.4 452.7L634.5 428.1L634.5 416.8L634.6 399.2L634.6 480.1L634.7 465.7L634.8 468.2L634.8 403.9L634.9 477.3L635.0 458.7L635.0 468.6L635.1 395.1L635.1 481.4L635.2 402.3L635.3 427.8L635.5 491.8L635.5 432.9L635.6 493.6L635.7 404.7L635.7 458.9L635.8 492.0L635.9 443.8L636.0 464.7L636.0 424.0L636.2 482.8L636.3 459.3L636.4 464.1L636.4 418.1L636.5 452.2L636.5 448.7L636.7 403.3L636.7 473.1L636.8 423.8L636.9 483.8L637.0 405.3L637.0 413.7L637.1 451.0L637.1 398.3L637.2 402.1L637.3 432.7L637.4 485.8L637.5 406.2L637.5 392.4L637.6 477.9L637.7 454.5L637.8 470.5L637.9 423.6L637.9 486.2L638.0 461.2L638.0 443.5L638.1 415.6L638.2 461.0L638.3 426.5L638.4 473.3L638.5 400.5L638.5 437.9L638.6 395.3L638.7 471.9L638.7 442.4L638.8 433.9L638.9 463.4L638.9 398.0L639.0 442.9L639.0 462.6L639.1 476.5L639.1 417.7L639.2 455.2L639.3 435.1L639.3 398.0L639.5 447.8L639.5 472.4L639.6 401.6L639.7 479.1L639.7 436.9L639.8 420.2L639.8 484.2L639.9 383.9L640.0 456.9L640.0 483.3L640.1 425.1L640.2 477.1L640.3 464.5L640.4 412.2L640.5 441.4L640.5 491.6L640.5 402.3L640.7 458.4L640.8 451.3L640.8 437.8L640.9 462.7L641.0 462.1L641.0 439.7L641.1 453.4L641.2 422.1L641.2 436.2L641.3 458.6L641.3 406.4L641.3 480.2L641.5 418.8L641.5 435.8L641.6 400.0L641.6 478.9L641.7 427.1L641.8 483.3L641.8 394.8L642.0 458.4L642.0 462.7L642.1 420.0L642.2 486.1L642.3 404.2L642.4 459.1L642.5 435.5L642.5 482.2L642.5 485.2L642.6 451.4L642.7 460.8L642.8 450.4L643.0 489.7L643.0 390.1L643.0 452.3L643.1 409.1L643.1 495.4L643.2 453.7L643.3 418.8L643.4 482.6L643.5 450.7L643.5 428.9L643.5 483.3L643.6 408.7L643.7 463.5L643.8 432.1L643.9 471.6L644.0 417.3L644.0 441.9L644.0 453.0L644.2 389.4L644.2 493.7L644.3 439.2L644.3 465.3L644.5 432.1L644.5 404.9L644.5 473.8L644.7 447.2L644.8 433.4L644.8 406.5L644.9 458.6L645.0 432.5L645.0 473.2L645.1 404.5L645.2 435.6L645.3 398.8L645.4 490.5L645.5 453.1L645.5 483.5L645.7 416.0L645.8 428.8L645.9 469.3L646.0 457.6L646.0 472.8L646.1 417.0L646.2 481.6L646.2 460.1L646.3 465.3L646.4 475.6L646.5 433.3L646.5 452.8L646.5 435.4L646.6 461.3L646.7 459.1L646.8 421.7L646.9 468.7L647.0 419.5L647.0 443.2L647.0 457.8L647.1 421.8L647.1 466.5L647.2 432.8L647.3 455.7L647.3 476.4L647.5 403.5L647.5 476.2L647.6 406.8L647.7 492.0L647.8 444.3L647.8 436.6L648.0 484.8L648.0 472.7L648.1 474.4L648.2 422.1L648.3 448.2L648.4 419.1L648.4 490.7L648.5 450.9L648.5 491.4L648.7 419.0L648.7 481.9L648.8 436.7L648.8 433.6L648.9 465.3L649.0 465.2L649.0 493.6L649.2 424.5L649.2 446.0L649.3 450.5L649.3 424.1L649.4 461.5L649.5 447.0L649.5 399.0L649.7 488.0L649.7 426.2L649.8 407.5L649.9 494.5L650.0 443.9L650.0 436.6L650.1 493.7L650.1 417.7L650.2 459.4L650.3 455.1L650.3 497.9L650.3 453.3L650.5 460.0L650.5 434.1L650.6 399.9L650.7 493.9L650.8 416.2L650.8 480.5L650.9 415.1L651.0 448.3L651.0 461.7L651.2 407.6L651.2 483.5L651.2 456.4L651.3 458.9L651.3 484.2L651.4 400.1L651.5 414.5L651.5 464.6L651.5 411.4L651.7 481.1L651.8 415.0L651.8 483.3L652.0 407.1L652.0 432.2L652.1 481.2L652.2 412.6L652.2 472.4L652.3 463.8L652.4 475.8L652.5 415.2L652.5 405.6L652.7 476.0L652.7 471.2L652.8 458.1L652.8 423.7L652.9 467.8L653.0 460.5L653.0 409.8L653.2 476.0L653.3 476.5L653.5 418.6L653.5 458.3L653.5 480.4L653.7 421.6L653.7 440.6L653.8 430.4L653.8 401.6L654.0 478.2L654.0 460.8L654.2 490.0L654.2 417.0L654.2 441.7L654.3 452.6L654.3 477.3L654.4 411.8L654.5 440.8L654.5 444.9L654.7 422.0L654.7 498.8L654.8 465.9L654.9 414.5L654.9 480.1L655.0 448.7L655.0 463.4L655.1 435.2L655.2 493.6L655.2 445.3L655.3 413.5L655.4 400.2L655.4 467.9L655.5 452.3L655.5 448.0L655.6 489.5L655.7 416.6L655.7 470.3L655.8 463.2L655.9 441.4L656.0 489.5L656.0 442.5L656.0 431.9L656.2 494.1L656.2 463.9L656.3 417.4L656.3 494.5L656.5 466.8L656.5 466.3L656.6 413.8L656.6 492.5L656.7 447.8L656.8 463.4L656.8 425.6L656.9 479.3L657.0 463.1L657.0 406.3L657.2 490.0L657.3 445.4L657.3 426.6L657.3 489.3L657.5 439.8L657.5 434.2L657.6 388.3L657.7 477.0L657.8 486.2L657.9 435.2L658.0 451.3L658.0 465.9L658.1 411.8L658.1 494.4L658.2 419.8L658.3 450.2L658.4 442.4L658.5 490.2L658.5 443.1L658.5 462.8L658.7 415.9L658.7 461.0L658.8 443.9L658.9 480.8L659.0 469.3L659.0 436.5L659.1 490.0L659.2 435.3L659.2 444.8L659.3 474.2L659.3 418.4L659.5 486.5L659.5 493.9L659.5 421.1L659.7 450.0L659.8 445.4L659.8 426.3L659.8 492.7L660.0 477.8L660.0 445.8L660.1 432.2L660.1 469.4L660.2 458.7L660.3 407.5L660.3 494.9L660.3 407.0L660.5 464.2L660.5 419.5L660.6 409.2L660.6 494.6L660.7 481.3L660.8 422.7L660.8 501.5L660.9 413.6L661.0 490.2L661.0 449.1L661.2 498.8L661.2 450.8L661.3 415.6L661.3 488.1L661.4 403.5L661.5 450.9L661.5 453.5L661.6 417.0L661.7 487.9L661.7 421.0L661.8 449.8L661.8 416.6L661.9 465.0L662.0 449.0L662.0 463.4L662.1 475.5L662.2 394.6L662.2 465.3L662.3 479.8L662.4 415.5L662.5 462.8L662.5 455.7L662.6 415.8L662.7 493.4L662.7 435.0L662.8 469.4L662.9 422.0L663.0 475.8L663.0 451.4L663.0 473.7L663.1 477.8L663.2 419.6L663.2 460.8L663.3 450.1L663.4 478.9L663.5 418.5L663.5 464.8L663.6 412.8L663.7 484.2L663.7 448.2L663.8 426.4L663.8 421.3L663.9 481.0L664.0 480.0L664.0 432.0L664.2 397.5L664.2 485.5L664.3 462.2L664.4 418.1L664.5 484.5L664.5 454.1L664.5 443.7L664.7 427.9L664.7 500.1L664.8 399.9L664.8 399.6L664.9 500.7L665.0 462.2L665.0 474.1L665.0 488.5L665.1 412.3L665.2 423.9L665.3 461.9L665.4 422.5L665.4 486.1L665.5 459.7L665.5 416.0L665.5 477.1L665.7 421.1L665.8 464.2L665.9 427.7L666.0 490.6L666.0 473.2L666.0 427.0L666.1 402.8L666.2 490.9L666.2 464.6L666.3 428.9L666.3 494.7L666.5 442.3L666.5 479.4L666.5 488.1L666.6 445.9L666.7 455.8L666.8 465.9L666.8 408.1L667.0 493.5L667.0 485.6L667.1 492.8L667.2 416.8L667.2 465.9L667.3 435.6L667.3 406.6L667.5 484.7L667.5 438.8L667.6 472.7L667.7 409.9L667.8 443.4L667.8 439.3L668.0 485.6L668.0 417.7L668.1 405.6L668.2 479.0L668.2 462.0L668.3 474.1L668.4 419.8L668.4 490.4L668.5 473.7L668.5 406.5L668.5 490.4L668.7 441.6L668.8 473.7L668.9 421.1L669.0 493.0L669.0 421.2L669.0 403.9L669.2 498.1L669.3 487.7L669.3 492.3L669.4 401.3L669.5 455.4L669.5 416.9L669.7 485.8L669.8 411.2L669.9 488.0L670.0 387.4L670.0 476.4L670.1 417.9L670.2 435.7L670.3 419.7L670.3 417.1L670.5 469.9L670.5 422.0L670.5 434.2L670.6 475.2L670.7 410.3L670.8 457.0L670.8 407.7L670.9 496.0L671.0 422.6L671.0 447.2L671.1 460.2L671.2 421.5L671.3 410.5L671.3 488.0L671.4 403.9L671.5 459.1L671.5 420.8L671.7 407.5L671.7 458.4L671.8 439.6L671.8 456.5L672.0 413.1L672.0 428.3L672.1 495.8L672.2 418.4L672.2 457.5L672.3 432.1L672.3 468.1L672.3 415.4L672.5 447.2L672.5 460.9L672.6 404.7L672.6 463.1L672.7 421.1L672.8 426.6L672.8 485.5L672.9 401.3L673.0 484.6L673.0 442.4L673.1 420.2L673.2 494.5L673.3 469.5L673.5 421.7L673.5 427.8L673.5 417.7L673.5 465.9L673.7 463.9L673.8 481.0L673.8 432.4L673.9 494.9L674.0 472.2L674.0 490.8L674.2 418.6L674.3 456.7L674.3 480.5L674.5 432.8L674.5 438.4L674.5 420.0L674.6 493.4L674.7 490.1L674.8 452.5L674.8 476.3L674.9 408.0L675.0 459.1L675.0 456.7L675.0 479.2L675.2 400.0L675.2 466.9L675.3 454.6L675.5 484.1L675.5 398.7L675.5 469.4L675.6 413.5L675.7 488.3L675.7 457.8L675.8 442.3L675.8 406.2L675.8 471.2L676.0 448.1L676.0 448.4L676.1 489.6L676.1 403.8L676.2 469.0L676.3 439.5L676.3 400.9L676.4 494.5L676.5 491.3L676.5 462.7L676.5 400.8L676.7 493.1L676.7 479.7L676.8 424.7L676.9 408.5L676.9 473.7L677.0 445.3L677.0 463.6L677.1 410.4L677.2 479.3L677.2 464.5L677.3 487.8L677.4 429.4L677.5 499.8L677.5 454.3L677.5 410.3L677.7 469.9L677.8 432.1L677.9 409.1L678.0 478.0L678.0 419.6L678.2 469.6L678.2 439.4L678.3 433.6L678.4 403.3L678.4 471.0L678.5 456.4L678.5 466.2L678.5 403.2L678.6 496.0L678.7 440.3L678.8 455.5L678.9 404.8L679.0 473.7L679.0 414.6L679.0 401.7L679.2 454.9L679.2 429.5L679.3 420.4L679.4 487.7L679.5 460.6L679.5 414.6L679.5 486.6L679.7 403.6L679.8 466.3L679.9 410.1L680.0 453.9L680.0 440.7L680.1 497.4L680.2 434.1L680.2 445.6L680.3 450.5L680.4 409.2L680.5 477.9L680.5 430.1L680.5 466.5L680.7 407.7L680.7 502.1L680.7 466.9L680.8 461.6L680.8 495.4L681.0 434.3L681.0 454.4L681.1 477.5L681.1 415.9L681.2 471.4L681.3 418.7L681.4 487.9L681.5 463.0L681.5 438.7L681.6 409.6L681.7 481.0L681.7 438.0L681.8 416.8L681.8 496.0L681.9 407.1L682.0 430.4L682.0 389.5L682.2 489.6L682.2 453.7L682.3 429.3L682.4 402.7L682.5 477.4L682.5 476.6L682.6 414.0L682.7 473.7L682.8 447.2L682.8 408.5L682.9 477.5L683.0 465.3L683.0 458.2L683.1 413.4L683.2 501.0L683.2 426.1L683.3 437.8L683.4 430.8L683.4 488.1L683.5 441.3L683.5 398.5L683.5 487.7L683.6 394.5L683.7 434.6L683.8 442.3L683.8 428.9L683.9 470.9L684.0 447.4L684.0 433.4L684.1 493.9L684.2 404.5L684.2 482.3L684.3 459.1L684.4 414.9L684.4 464.4L684.5 462.7L684.5 446.5L684.5 483.8L684.7 433.5L684.7 480.2L684.8 432.4L684.9 485.9L685.0 403.5L685.0 453.3L685.0 418.1L685.1 416.4L685.2 483.3L685.2 448.2L685.3 439.6L685.4 417.9L685.5 496.2L685.5 441.5L685.6 398.0L685.6 487.4L685.7 420.9L685.8 489.0L685.8 420.8L686.0 462.5L686.0 465.3L686.1 469.9L686.2 405.0L686.2 420.8L686.3 480.4L686.3 419.7L686.5 451.6L686.5 486.5L686.5 415.5L686.6 487.4L686.7 441.7L686.8 424.6L686.8 412.8L686.9 496.9L687.0 430.5L687.0 446.3L687.2 465.4L687.2 396.5L687.3 475.9L687.3 492.0L687.3 425.0L687.5 461.1L687.5 485.8L687.7 494.9L687.7 419.0L687.7 457.1L687.8 484.9L687.9 492.2L688.0 438.2L688.0 477.8L688.0 495.5L688.2 419.0L688.2 429.1L688.3 428.5L688.3 427.2L688.5 488.9L688.5 423.9L688.5 493.5L688.7 492.7L688.8 462.7L688.9 492.4L689.0 412.7L689.0 405.9L689.2 499.2L689.3 411.8L689.5 495.9L689.5 457.8L689.6 406.7L689.7 469.2L689.7 436.7L689.8 448.8L689.8 472.9L690.0 417.3L690.0 442.2L690.1 413.2L690.1 492.0L690.2 425.5L690.3 434.4L690.5 495.2L690.5 389.2L690.5 477.0L690.6 403.1L690.7 497.9L690.8 493.4L690.9 417.4L691.0 471.3L691.0 403.6L691.2 473.7L691.2 406.7L691.3 402.5L691.3 489.0L691.4 401.6L691.5 469.0L691.5 407.2L691.6 487.9L691.7 419.5L691.8 415.6L691.8 491.6L691.9 412.5L692.0 442.4L692.0 437.9L692.1 484.6L692.2 414.1L692.2 483.6L692.3 470.7L692.3 422.0L692.4 482.0L692.5 426.7L692.5 426.7L692.6 489.5L692.7 411.5L692.7 434.6L692.8 472.4L692.9 476.1L693.0 420.0L693.0 432.1L693.0 451.5L693.1 406.9L693.2 430.6L693.3 432.5L693.4 469.1L693.4 413.7L693.5 458.0L693.5 480.6L693.5 404.6L693.7 462.0L693.8 450.6L693.8 409.9L694.0 504.4L694.0 485.3L694.0 455.6L694.1 395.8L694.1 480.4L694.2 460.3L694.3 430.9L694.3 499.9L694.5 434.4L694.5 425.2L694.5 407.3L694.7 470.9L694.8 448.3L694.9 498.7L694.9 405.7L695.0 445.6L695.0 436.6L695.1 480.4L695.2 425.7L695.2 480.0L695.3 443.0L695.3 427.0L695.4 497.1L695.5 469.5L695.5 450.1L695.7 489.1L695.7 399.2L695.8 410.8L696.0 479.5L696.0 441.9L696.0 447.1L696.1 410.3L696.2 485.8L696.2 463.0L696.3 432.5L696.3 492.4L696.4 428.9L696.5 474.9L696.5 437.2L696.6 467.4L696.7 421.4L696.7 446.4L696.8 420.5L696.8 403.0L696.8 492.3L697.0 408.1L697.0 477.5L697.1 500.0L697.2 421.2L697.2 464.9L697.3 406.3L697.4 478.4L697.5 447.3L697.5 472.7L697.7 433.5L697.7 496.9L697.7 446.1L697.8 460.7L697.9 417.9L698.0 421.5L698.0 436.7L698.1 487.2L698.2 426.4L698.2 481.2L698.3 441.0L698.3 434.9L698.5 496.7L698.5 479.2L698.5 495.2L698.6 433.8L698.7 491.9L698.8 475.5L698.8 410.0L699.0 440.9L699.0 467.0L699.1 406.5L699.2 482.1L699.2 477.6L699.3 479.8L699.4 403.1L699.4 480.1L699.5 430.8L699.5 466.2L699.7 478.3L699.7 408.0L699.7 466.7L699.8 457.7L699.8 482.3L700.0 434.1L700.0 468.0L700.0 470.1L700.1 497.4L700.2 421.3L700.2 472.4L700.3 429.7L700.3 406.9L700.4 486.5L700.5 441.3L700.5 478.6L700.6 502.3L700.7 401.4L700.8 454.5L700.8 473.7L700.9 416.8L701.0 458.4L701.0 465.1L701.0 426.5L701.2 497.9L701.2 482.7L701.3 422.9L701.4 416.8L701.5 483.0L701.5 466.5L701.5 415.3L701.5 411.6L701.6 496.7L701.7 457.8L701.8 456.2L701.8 496.4L702.0 404.9L702.0 455.5L702.0 479.5L702.2 394.0L702.2 451.3L702.3 455.0L702.3 408.6L702.4 497.9L702.5 452.5L702.5 422.8L702.7 488.7L702.8 405.1L702.9 472.2L703.0 420.2L703.0 451.7L703.1 466.4L703.1 406.0L703.2 453.7L703.3 490.5L703.4 409.1L703.5 493.7L703.5 435.1L703.6 479.5L703.6 415.1L703.7 439.5L703.8 412.9L703.9 502.3L704.0 422.4L704.0 458.3L704.1 405.2L704.1 495.9L704.2 475.7L704.3 415.0L704.3 494.0L704.5 466.5L704.5 481.8L704.6 419.3L704.7 499.8L704.7 421.2L704.8 478.1L704.8 495.7L704.9 423.5L705.0 465.4L705.0 419.2L705.1 416.2L705.2 486.7L705.3 432.8L705.5 499.3L705.5 476.1L705.5 461.5L705.6 477.3L705.7 425.0L705.8 446.0L705.9 432.6L706.0 489.6L706.0 471.5L706.0 405.1L706.1 481.5L706.2 455.2L706.3 465.3L706.4 408.1L706.5 497.5L706.5 471.4L706.5 449.2L706.5 491.2L706.7 424.6L706.7 465.1L706.8 436.7L706.8 400.2L706.9 496.6L707.0 483.9L707.0 438.6L707.1 470.4L707.2 411.2L707.2 449.5L707.3 444.4L707.3 493.7L707.4 419.7L707.5 476.3L707.5 486.2L707.7 431.6L707.7 454.4L707.8 465.6L707.8 409.7L707.9 489.9L708.0 424.1L708.0 438.2L708.0 482.9L708.2 413.9L708.3 412.5L708.4 503.5L708.5 460.3L708.5 429.5L708.5 492.1L708.7 422.9L708.7 460.2L708.8 482.9L708.8 392.3L708.9 489.8L709.0 449.9L709.0 436.8L709.1 498.7L709.2 459.5L709.3 463.7L709.3 498.2L709.3 409.6L709.5 438.5L709.5 438.3L709.5 405.1L709.7 492.5L709.7 478.7L709.8 432.6L709.9 430.9L709.9 478.1L710.0 439.7L710.0 433.7L710.1 467.9L710.1 425.0L710.2 451.6L710.3 444.9L710.3 481.1L710.4 437.9L710.5 441.7L710.5 458.1L710.6 402.6L710.7 473.6L710.7 417.1L710.8 478.8L710.9 411.5L711.0 470.7L711.0 453.7L711.0 434.7L711.1 484.3L711.2 447.5L711.3 435.0L711.3 413.4L711.4 471.0L711.5 426.2L711.5 448.0L711.7 414.3L711.7 466.8L711.8 453.6L711.8 406.9L712.0 497.5L712.0 433.9L712.2 472.9L712.2 443.6L712.3 447.8L712.4 484.0L712.5 419.0L712.5 472.8L712.5 479.6L712.6 432.6L712.7 466.6L712.8 480.7L712.8 404.1L712.9 490.7L713.0 466.8L713.0 419.8L713.0 494.7L713.2 415.2L713.2 485.5L713.3 466.5L713.3 500.6L713.4 410.1L713.5 451.8L713.5 470.9L713.5 497.7L713.7 416.5L713.7 459.7L713.8 462.8L713.9 415.2L713.9 485.0L714.0 455.2L714.0 498.2L714.0 409.3L714.2 462.3L714.3 438.8L714.5 493.6L714.5 421.6L714.5 445.4L714.6 492.1L714.7 412.9L714.8 404.8L714.9 474.9L715.0 473.5L715.0 461.6L715.1 403.8L715.2 488.2L715.2 482.6L715.3 445.2L715.3 488.6L715.4 410.7L715.5 446.3L715.5 465.3L715.5 499.0L715.7 424.0L715.7 471.3L715.8 409.3L716.0 491.1L716.0 461.4L716.0 416.2L716.2 496.8L716.2 411.3L716.3 463.0L716.3 406.8L716.4 479.7L716.5 439.0L716.5 471.1L716.6 482.7L716.6 437.9L716.7 466.9L716.8 463.5L716.9 419.6L716.9 494.5L717.0 423.6L717.0 488.9L717.1 412.3L717.2 452.7L717.3 457.6L717.3 402.5L717.4 480.3L717.5 452.6L717.5 443.3L717.7 424.3L717.7 506.7L717.7 433.1L717.8 443.5L717.8 496.9L717.9 412.4L718.0 478.2L718.0 420.6L718.0 479.8L718.2 442.8L718.3 482.3L718.3 417.3L718.5 476.4L718.5 438.6L718.6 485.7L718.6 408.2L718.7 420.2L718.8 462.8L718.8 400.9L718.9 475.2L719.0 468.4L719.0 426.6L719.1 472.1L719.1 411.4L719.2 437.6L719.3 446.9L719.3 498.5L719.4 417.8L719.5 487.5L719.5 442.9L719.5 424.8L719.6 496.4L719.7 478.0L719.8 440.2L719.8 405.4L720.0 496.8L720.0 483.6L720.1 439.7L720.1 498.1L720.2 474.3L720.3 466.9L720.4 411.8L720.4 494.6L720.5 441.2L720.5 411.7L720.6 495.4L720.7 404.5L720.7 462.3L720.8 456.8L720.8 405.4L720.9 503.4L721.0 452.0L721.0 430.9L721.2 418.2L721.2 484.9L721.2 424.0L721.3 436.4L721.3 499.2L721.5 490.6L721.5 441.8L721.5 404.7L721.6 489.6L721.7 469.4L721.8 465.4L721.8 407.6L722.0 488.8L722.0 457.7L722.0 455.7L722.1 476.7L722.2 416.7L722.3 425.3L722.3 407.5L722.4 496.3L722.5 440.2L722.5 437.4L722.6 490.1L722.7 429.2L722.8 409.0L722.9 474.9L723.0 427.4L723.0 496.2L723.0 408.9L723.2 489.4L723.3 434.3L723.3 420.9L723.4 495.1L723.5 447.4L723.5 488.4L723.6 499.7L723.6 408.8L723.7 468.9L723.8 487.3L724.0 409.2L724.0 470.3L724.0 439.7L724.2 414.4L724.2 465.3L724.2 440.9L724.3 417.3L724.5 496.1L724.5 422.8L724.6 413.1L724.7 489.5L724.7 429.8L724.8 480.5L724.8 399.1L724.8 494.2L725.0 414.0L725.0 492.0L725.2 409.9L725.2 475.6L725.3 466.0L725.3 406.1L725.4 500.1L725.5 460.7L725.5 458.4L725.5 411.2L725.7 469.1L725.7 454.6L725.8 417.5L725.9 477.6L726.0 417.1L726.0 476.5L726.1 497.2L726.2 416.1L726.2 421.1L726.3 428.2L726.3 488.0L726.4 409.0L726.5 433.2L726.5 459.0L726.6 493.5L726.6 429.1L726.7 478.9L726.8 415.7L726.8 413.6L727.0 494.6L727.0 413.6L727.2 499.9L727.2 471.3L727.3 458.2L727.3 422.7L727.5 485.1L727.5 447.6L727.5 444.8L727.5 485.9L727.6 425.2L727.7 444.5L727.8 439.4L727.9 422.4L728.0 482.2L728.0 441.7L728.0 472.0L728.2 494.1L728.2 415.5L728.3 478.3L728.4 428.7L728.5 462.5L728.5 409.5L728.5 472.8L728.7 427.9L728.8 440.1L728.8 408.4L729.0 480.2L729.0 433.4L729.0 476.2L729.0 500.0L729.1 409.0L729.2 476.4L729.3 440.7L729.3 404.9L729.4 499.5L729.5 485.7L729.5 481.0L729.6 495.2L729.7 411.8L729.7 482.2L729.8 490.0L730.0 426.5L730.0 454.3L730.1 408.8L730.2 497.2L730.3 477.5L730.4 499.2L730.5 422.7L730.5 405.7L730.6 494.9L730.7 456.0L730.8 475.4L730.8 409.2L730.9 492.1L731.0 411.6L731.0 466.6L731.2 499.5L731.2 424.9L731.2 494.5L731.3 460.8L731.3 405.5L731.3 495.5L731.5 446.4L731.5 427.4L731.6 487.4L731.6 420.5L731.7 452.9L731.8 429.5L731.9 477.7L732.0 414.0L732.0 435.1L732.0 414.1L732.2 413.5L732.2 494.3L732.2 450.6L732.3 478.3L732.4 423.2L732.4 496.2L732.5 425.5L732.5 476.4L732.5 502.5L732.7 427.0L732.7 493.2L732.8 489.1L733.0 408.4L733.0 479.3L733.2 498.6L733.2 412.3L733.3 441.5L733.4 408.7L733.5 484.5L733.5 430.9L733.6 497.6L733.7 452.6L733.8 492.5L733.9 408.4L734.0 482.0L734.0 498.0L734.2 414.4L734.2 499.7L734.3 430.1L734.4 486.2L734.5 417.0L734.5 435.8L734.5 470.0L734.7 412.4L734.7 488.9L734.8 451.7L734.8 497.8L734.8 406.8L735.0 437.3L735.0 462.2L735.1 487.5L735.2 429.8L735.2 481.4L735.3 446.4L735.4 418.3L735.5 481.4L735.5 434.6L735.5 449.5L735.6 497.3L735.7 396.7L735.8 439.3L735.8 468.9L736.0 412.0L736.0 450.5L736.0 458.9L736.1 487.7L736.2 404.7L736.3 486.9L736.3 410.3L736.5 505.8L736.5 488.1L736.5 487.0L736.6 413.0L736.7 492.5L736.7 472.3L736.8 497.8L736.9 408.5L737.0 490.4L737.0 428.4L737.1 497.5L737.2 417.0L737.2 417.5L737.3 474.5L737.4 392.7L737.5 475.2L737.5 472.4L737.5 477.3L737.6 413.7L737.7 490.0L737.8 464.9L737.8 416.9L738.0 494.8L738.0 445.1L738.2 410.9L738.2 491.0L738.2 418.4L738.3 483.3L738.4 415.8L738.4 498.1L738.5 495.2L738.5 408.2L738.7 483.7L738.7 471.7L738.8 470.6L738.8 493.5L738.9 417.5L739.0 417.9L739.0 440.7L739.0 423.4L739.1 500.7L739.2 470.3L739.3 493.0L739.3 411.2L739.4 499.0L739.5 490.5L739.5 438.3L739.6 487.1L739.7 432.9L739.7 476.4L739.8 407.9L739.9 491.0L740.0 456.7L740.0 451.3L740.1 414.7L740.2 495.8L740.2 460.2L740.3 462.0L740.3 423.0L740.3 489.5L740.5 451.7L740.5 492.3L740.6 406.9L740.7 503.2L740.8 495.7L740.8 503.5L741.0 406.0L741.0 468.0L741.0 468.8L741.1 429.8L741.2 475.0L741.2 440.8L741.3 480.6L741.4 409.1L741.4 494.8L741.5 456.1L741.5 497.3L741.6 419.7L741.7 421.3L741.8 409.2L741.9 478.3L742.0 438.0L742.0 500.8L742.2 407.4L742.2 452.9L742.3 500.3L742.3 408.3L742.5 463.5L742.5 462.3L742.6 492.4L742.7 402.0L742.7 421.8L742.8 438.6L742.9 489.2L743.0 409.3L743.0 444.8L743.0 426.6L743.0 417.5L743.1 493.6L743.2 436.5L743.3 472.0L743.3 398.6L743.5 493.4L743.5 464.7L743.7 407.0L743.7 486.7L743.7 441.2L743.8 414.1L743.8 476.2L744.0 454.2L744.0 501.6L744.2 418.4L744.2 476.3L744.3 441.1L744.3 418.0L744.3 503.4L744.5 486.2L744.5 462.8L744.6 500.7L744.7 432.9L744.7 494.4L744.8 465.0L744.8 412.9L744.8 486.2L745.0 484.4L745.0 445.5L745.0 486.8L745.1 408.7L745.2 468.3L745.3 419.2L745.3 413.5L745.4 491.1L745.5 470.0L745.5 472.2L745.6 498.9L745.6 420.2L745.7 442.6L745.8 441.2L745.9 496.7L745.9 386.7L746.0 424.6L746.0 448.7L746.0 412.2L746.1 498.1L746.2 423.0L746.3 428.4L746.3 408.4L746.5 494.5L746.5 424.7L746.5 498.0L746.7 415.9L746.7 494.6L746.8 426.9L746.9 501.0L747.0 480.8L747.0 440.9L747.1 410.4L747.2 498.2L747.2 412.4L747.3 491.0L747.3 426.6L747.4 502.0L747.5 445.3L747.5 442.0L747.6 497.7L747.7 415.0L747.7 448.5L747.8 469.4L747.8 501.3L747.9 412.2L748.0 490.1L748.0 462.9L748.2 501.0L748.2 410.9L748.2 445.8L748.3 469.2L748.3 419.5L748.5 494.0L748.5 430.4L748.5 458.7L748.5 408.7L748.6 499.0L748.7 412.5L748.8 434.9L748.8 417.6L749.0 505.0L749.0 480.6L749.0 450.3L749.1 497.2L749.2 408.8L749.2 423.4L749.3 407.7L749.3 500.6L749.5 453.8L749.5 454.4L749.6 411.9L749.7 480.5L749.7 468.2L749.8 432.5L749.8 413.8L750.0 494.1L750.0 418.5L750.0 408.4L750.2 504.4L750.2 414.3L750.3 458.2L750.3 401.8L750.4 502.5L750.5 431.9L750.5 449.2L750.5 432.2L750.6 472.8L750.7 433.3L750.8 428.4L751.0 500.4L751.0 413.8L751.0 422.8L751.0 455.8L751.1 490.3L751.2 412.4L751.2 431.8L751.3 480.8L751.3 432.7L751.4 489.0L751.5 480.5L751.5 420.8L751.7 487.8L751.7 471.2L751.8 498.6L751.9 408.6L752.0 447.9L752.0 413.3L752.1 409.8L752.1 502.2L752.2 439.3L752.3 421.6L752.5 479.9L752.5 450.4L752.6 430.9L752.7 493.7L752.8 409.5L752.8 485.7L753.0 462.1L753.0 440.4L753.2 409.8L753.2 492.5L753.2 444.9L753.3 467.3L753.3 409.6L753.4 501.2L753.5 442.9L753.5 454.4L753.5 503.7L753.7 422.1L753.8 448.9L753.8 412.0L753.8 505.2L754.0 485.1L754.0 447.5L754.0 500.0L754.2 403.7L754.3 441.3L754.3 412.4L754.4 492.3L754.5 487.0L754.5 431.8L754.6 477.2L754.7 410.9L754.7 416.9L754.8 471.0L754.9 500.9L754.9 414.4L755.0 454.3L755.0 481.6L755.0 413.6L755.2 496.4L755.3 457.6L755.3 416.9L755.4 496.1L755.5 448.2L755.5 407.9L755.6 406.3L755.7 502.1L755.7 454.9L755.8 429.8L755.8 487.5L756.0 410.6L756.0 420.0L756.0 503.2L756.2 429.2L756.2 473.3L756.3 447.6L756.3 399.0L756.4 465.9L756.5 438.9L756.5 482.6L756.7 496.1L756.7 414.8L756.7 461.9L756.8 444.4L756.8 518.0L756.9 409.1L757.0 455.8L757.0 424.1L757.0 501.5L757.2 407.9L757.2 471.7L757.3 421.3L757.3 496.9L757.5 460.3L757.5 421.1L757.6 411.9L757.7 503.1L757.7 464.6L757.8 410.2L757.8 482.9L757.9 407.6L758.0 453.2L758.0 443.8L758.0 428.2L758.1 502.3L758.2 455.6L758.3 421.9L758.3 409.4L758.4 505.1L758.5 446.0L758.5 490.2L758.6 497.5L758.7 434.3L758.7 465.2L758.8 465.0L758.8 502.2L759.0 398.0L759.0 419.1L759.0 424.4L759.1 500.6L759.2 417.8L759.2 490.9L759.3 500.7L759.4 415.9L759.5 480.0L759.5 475.2L759.5 501.8L759.5 417.8L759.7 429.9L759.8 412.4L759.8 502.2L759.9 408.1L760.0 449.1L760.0 460.6L760.0 494.0L760.1 412.3L760.2 488.4L760.3 406.3L760.4 501.8L760.5 464.6L760.5 462.1L760.6 421.6L760.7 488.3L760.8 460.3L760.8 502.4L760.9 399.4L761.0 477.6L761.0 465.0L761.0 411.7L761.1 499.9L761.2 436.5L761.3 451.9L761.4 423.8L761.4 475.1L761.5 464.4L761.5 427.7L761.5 489.8L761.7 420.0L761.7 482.2L761.8 423.2L761.9 412.3L761.9 519.6L762.0 453.0L762.0 451.0L762.1 505.0L762.2 407.4L762.2 464.3L762.3 466.1L762.4 424.5L762.4 502.9L762.5 485.7L762.5 446.9L762.6 481.1L762.7 411.5L762.7 458.0L762.8 413.2L762.9 498.7L763.0 410.4L763.0 471.0L763.0 485.7L763.1 496.2L763.2 426.1L763.2 470.2L763.3 431.1L763.3 500.0L763.4 418.2L763.5 423.3L763.5 460.0L763.6 400.5L763.7 502.5L763.7 450.3L763.8 463.7L763.8 425.1L763.9 502.9L764.0 481.3L764.0 408.4L764.0 501.9L764.2 444.7L764.3 422.7L764.3 501.2L764.5 464.1L764.5 473.2L764.6 486.2L764.6 415.6L764.7 434.5L764.8 472.4L764.8 402.4L765.0 509.0L765.0 440.5L765.1 420.2L765.2 492.4L765.2 440.7L765.3 445.6L765.4 498.7L765.4 436.3L765.5 475.7L765.5 479.1L765.6 418.4L765.7 500.7L765.7 451.6L765.8 494.6L765.9 500.1L766.0 416.2L766.0 466.2L766.0 446.8L766.0 497.3L766.2 417.1L766.3 441.8L766.3 421.3L766.4 482.0L766.5 429.6L766.5 495.4L766.5 498.5L766.6 410.4L766.7 425.2L766.8 449.4L766.9 498.9L767.0 413.5L767.0 441.1L767.0 433.5L767.0 490.0L767.2 416.3L767.3 453.2L767.3 502.2L767.5 441.6L767.5 417.1L767.7 500.1L767.7 414.5L767.7 445.2L767.8 432.8L767.8 500.5L767.9 424.1L768.0 497.0L768.0 443.7L768.1 493.1L768.2 406.5L768.2 474.4L768.3 482.5L768.4 417.6L768.5 494.6L768.5 475.6L768.5 497.3L768.7 416.6L768.7 436.9L768.8 447.2L768.9 492.2L769.0 399.5L769.0 449.3L769.1 503.4L769.2 428.1L769.2 441.4L769.3 460.1L769.3 503.2L769.4 400.4L769.5 456.7L769.5 474.2L769.7 417.7L769.7 496.3L769.7 430.5L769.8 416.1L769.9 504.5L769.9 406.0L770.0 454.5L770.0 465.2L770.1 492.3L770.2 411.2L770.3 451.8L770.3 488.1L770.4 411.7L770.5 472.9L770.5 497.7L770.7 408.5L770.7 455.5L770.8 470.7L770.9 486.5L770.9 413.6L771.0 462.5L771.0 423.9L771.1 496.5L771.2 475.1L771.3 457.2L771.3 414.3L771.3 503.7L771.5 450.6L771.5 493.0L771.6 410.9L771.7 452.2L771.8 452.4L771.8 425.3L772.0 489.8L772.0 457.6L772.0 481.9L772.1 404.2L772.2 496.6L772.2 439.1L772.3 432.7L772.3 503.7L772.4 415.2L772.5 486.2L772.5 465.8L772.6 496.5L772.7 420.8L772.7 437.7L772.8 470.7L773.0 410.7L773.0 488.0L773.0 454.5L773.2 484.8L773.2 416.9L773.2 449.8L773.3 506.2L773.3 416.4L773.4 506.3L773.5 453.8L773.5 447.5L773.6 428.7L773.6 496.6L773.7 472.0L773.8 445.3L773.8 500.0L774.0 415.4L774.0 457.1L774.0 440.3L774.1 398.4L774.2 495.6L774.2 466.8L774.3 479.7L774.4 421.3L774.4 488.8L774.5 433.0L774.5 464.4L774.5 418.3L774.7 492.1L774.7 452.9L774.8 464.4L774.8 503.4L775.0 416.5L775.0 468.7L775.1 481.3L775.2 408.9L775.2 443.3L775.3 441.7L775.3 418.2L775.4 505.4L775.5 450.0L775.5 456.3L775.6 414.0L775.6 498.1L775.7 446.0L775.8 434.8L775.8 501.9L775.9 418.4L776.0 498.7L776.0 458.1L776.1 415.3L776.2 494.1L776.2 476.2L776.3 499.8L776.3 442.7L776.5 456.2L776.5 460.9L776.5 401.8L776.6 500.7L776.7 460.2L776.8 465.5L776.9 420.3L777.0 497.9L777.0 490.3L777.0 429.8L777.0 412.3L777.2 502.0L777.3 438.8L777.4 506.0L777.5 429.6L777.5 445.7L777.5 497.7L777.7 411.5L777.7 503.9L777.7 491.9L777.8 436.2L777.9 502.2L778.0 417.0L778.0 430.8L778.0 464.2L778.1 503.5L778.2 409.7L778.2 470.6L778.3 467.5L778.3 492.9L778.3 430.8L778.5 453.7L778.5 440.1L778.5 411.2L778.6 503.1L778.7 449.9L778.8 437.6L778.9 421.1L778.9 503.9L779.0 478.4L779.0 495.4L779.2 425.0L779.2 502.1L779.2 466.2L779.3 471.5L779.5 504.5L779.5 414.6L779.5 439.3L779.5 438.3L779.6 423.4L779.7 500.9L779.7 465.0L779.8 405.2L780.0 486.7L780.0 441.2L780.1 503.8L780.2 416.1L780.2 440.7L780.3 475.6L780.3 486.9L780.5 403.9L780.5 478.9L780.5 457.2L780.6 412.9L780.7 490.1L780.7 489.7L780.8 455.5L780.9 434.2L781.0 504.5L781.0 459.3L781.0 492.3L781.1 498.1L781.2 409.5L781.2 427.2L781.3 463.2L781.3 412.4L781.4 490.0L781.5 453.7L781.5 428.5L781.7 516.5L781.7 417.3L781.8 427.1L781.9 424.5L782.0 501.2L782.0 490.4L782.2 410.7L782.3 476.7L782.3 490.1L782.4 411.0L782.5 453.4L782.5 459.7L782.6 414.6L782.7 497.7L782.7 459.4L782.8 453.7L782.8 502.3L782.8 404.8L783.0 463.8L783.0 414.9L783.0 503.5L783.2 463.1L783.3 462.0L783.3 470.3L783.4 406.5L783.5 416.6L783.5 486.1L783.6 429.5L783.7 503.3L783.7 463.1L783.8 425.7L783.9 417.8L784.0 489.9L784.0 489.5L784.0 492.6L784.1 502.6L784.1 416.5L784.2 430.2L784.3 428.3L784.4 499.4L784.5 446.7L784.5 475.4L784.6 409.5L784.6 500.0L784.7 451.4L784.8 466.6L784.9 408.6L785.0 504.3L785.0 426.5L785.0 459.7L785.0 412.6L785.2 484.3L785.2 441.3L785.3 436.4L785.3 423.3L785.3 496.3L785.5 460.2L785.5 466.1L785.6 490.2L785.6 419.2L785.7 445.6L785.8 415.5L786.0 504.3L786.0 410.0L786.0 461.5L786.0 473.1L786.0 499.8L786.2 431.5L786.2 441.6L786.3 436.8L786.4 408.2L786.4 504.6L786.5 491.6L786.5 462.0L786.5 498.9L786.7 422.4L786.8 502.3L786.9 504.5L787.0 404.6L787.0 410.9L787.1 494.6L787.2 472.1L787.3 480.8L787.4 503.9L787.4 416.2L787.5 449.6L787.5 447.5L787.5 499.5L787.6 428.7L787.7 453.8L787.8 470.8L787.8 435.1L787.9 493.8L788.0 441.0L788.0 465.8L788.2 402.3L788.2 504.4L788.2 483.8L788.3 446.5L788.3 497.7L788.4 430.0L788.5 494.4L788.5 486.3L788.5 502.8L788.5 395.2L788.7 447.0L788.8 448.9L788.9 408.6L789.0 496.0L789.0 416.5L789.1 504.1L789.1 405.1L789.2 483.6L789.3 469.6L789.4 409.7L789.5 476.9L789.5 491.8L789.6 500.0L789.6 413.9L789.7 460.4L789.8 472.7L789.8 417.9L789.9 497.1L790.0 441.4L790.0 475.7L790.2 417.0L790.2 500.2L790.2 440.9L790.3 478.9L790.4 415.3L790.4 499.8L790.5 451.4L790.5 468.0L790.6 501.4L790.7 410.2L790.7 499.8L790.8 501.5L790.8 421.0L791.0 469.4L791.0 465.4L791.1 504.9L791.2 409.1L791.2 449.0L791.3 408.2L791.4 403.2L791.4 494.8L791.5 488.1L791.5 501.2L791.6 410.9L791.7 452.2L791.8 455.5L791.9 494.5L792.0 410.7L792.0 465.2L792.0 508.1L792.1 403.1L792.2 495.7L792.3 452.1L792.3 420.8L792.3 508.3L792.5 434.3L792.5 464.7L792.7 496.9L792.7 407.5L792.7 445.8L792.8 486.2L793.0 491.1L793.0 415.9L793.0 459.7L793.1 408.5L793.2 503.9L793.2 453.9L793.3 425.2L793.3 494.9L793.5 411.9L793.5 457.3L793.5 424.5L793.7 503.1L793.7 475.7L793.8 485.7L793.9 413.7L794.0 438.6L794.0 447.9L794.0 397.0L794.1 495.8L794.2 492.3L794.3 449.2L794.4 402.7L794.4 500.6L794.5 422.3L794.5 471.6L794.6 420.6L794.7 508.2L794.7 480.9L794.8 473.2L794.8 415.3L795.0 503.7L795.0 438.0L795.0 437.0L795.1 498.0L795.2 408.7L795.2 410.8L795.3 445.8L795.4 501.0L795.5 401.4L795.5 444.5L795.5 451.3L795.5 504.7L795.6 410.7L795.7 471.9L795.8 429.6L796.0 501.3L796.0 494.8L796.0 491.8L796.2 410.5L796.2 460.0L796.3 432.7L796.3 493.6L796.3 398.8L796.5 475.7L796.5 462.7L796.6 415.9L796.7 489.1L796.7 484.6L796.8 487.4L796.8 415.9L796.9 501.1L797.0 495.4L797.0 469.0L797.0 415.0L797.2 494.2L797.2 481.8L797.3 476.7L797.4 495.8L797.4 425.2L797.5 488.9L797.5 492.2L797.6 498.8L797.7 407.6L797.7 487.6L797.8 481.3L797.8 412.5L797.9 490.6L798.0 468.8L798.0 461.7L798.0 500.2L798.1 408.7L798.2 464.3L798.3 482.4L798.5 419.6L798.5 458.3L798.5 482.6L798.6 497.3L798.7 410.0L798.7 482.0L798.8 505.1L798.9 414.5L799.0 447.3L799.0 465.7L799.0 424.7L799.2 505.5L799.2 444.7L799.3 455.8L799.4 498.1L799.5 417.3L799.5 488.1L799.5 458.1L799.5 502.9L799.6 428.8L799.7 477.9L799.8 457.3L799.9 413.9L800.0 487.8L800.0 475.5L800.0 481.0L800.1 414.9L800.1 509.4L800.2 437.8L800.3 486.4L800.3 507.9L800.4 410.0L800.5 444.0L800.5 484.1L800.6 505.1L800.7 421.0L800.7 429.9L800.8 456.1L801.0 492.0L801.0 416.4L801.0 461.9L801.1 494.5L801.1 414.1L801.2 480.8L801.3 476.4L801.3 498.3L801.4 411.1L801.5 489.7L801.5 448.1L801.5 509.4L801.7 410.5L801.8 451.4L801.8 503.5L801.8 406.8L802.0 466.1L802.0 480.9L802.1 506.8L802.1 414.0L802.2 452.3L802.3 482.6L802.3 504.6L802.5 423.2L802.5 472.8L802.6 506.6L802.7 429.6L802.7 491.4L802.8 471.7L802.9 414.1L802.9 496.9L803.0 446.2L803.0 454.0L803.2 490.6L803.2 420.4L803.2 442.3L803.3 472.8L803.3 418.2L803.4 498.9L803.5 466.4L803.5 484.4L803.6 411.8L803.6 500.4L803.7 432.4L803.8 442.1L803.9 502.2L804.0 420.4L804.0 437.4L804.0 480.0L804.1 496.9L804.2 406.4L804.2 429.8L804.3 448.3L804.3 495.0L804.5 430.4L804.5 492.3L804.5 414.0L804.7 497.9L804.7 414.4L804.8 466.3L804.8 505.8L804.8 416.1L805.0 427.1L805.0 491.4L805.0 412.7L805.2 505.7L805.2 493.2L805.3 465.3L805.4 507.5L805.4 411.9L805.5 429.6L805.5 429.8L805.7 415.1L805.7 499.6L805.8 478.7L805.8 411.4L805.9 488.4L806.0 462.0L806.0 455.0L806.1 414.6L806.1 500.6L806.2 451.3L806.3 494.4L806.3 425.4L806.5 454.0L806.5 465.6L806.6 409.5L806.7 504.4L806.7 467.4L806.8 430.0L806.8 504.5L807.0 446.4L807.0 465.2L807.0 430.6L807.2 502.6L807.2 462.6L807.3 457.4L807.3 501.9L807.5 420.2L807.5 479.3L807.5 491.6L807.6 505.1L807.7 423.4L807.7 440.9L807.8 480.9L807.8 416.5L808.0 494.6L808.0 473.7L808.0 491.1L808.1 504.8L808.2 413.3L808.2 458.4L808.3 438.4L808.3 422.2L808.4 510.7L808.5 438.3L808.5 477.7L808.5 497.7L808.6 415.1L808.7 464.3L808.8 486.9L808.9 500.1L809.0 420.7L809.0 482.2L809.0 505.1L809.2 419.0L809.2 436.7L809.3 446.6L809.3 504.8L809.5 398.7L809.5 474.4L809.5 464.2L809.6 497.0L809.7 412.5L809.7 443.7L809.8 469.7L809.9 415.6L809.9 502.4L810.0 434.2L810.0 459.8L810.2 504.5L810.2 397.9L810.2 467.5L810.3 422.6L810.3 493.6L810.4 409.7L810.5 454.3L810.5 474.4L810.5 507.8L810.7 436.3L810.7 451.7L810.8 429.0L810.8 401.3L810.9 501.5L811.0 421.5L811.0 479.5L811.1 408.8L811.1 498.7L811.2 492.7L811.3 466.7L811.4 504.5L811.4 425.2L811.5 472.9L811.5 424.5L811.5 504.5L811.7 420.8L811.7 440.2L811.8 467.4L811.8 495.8L812.0 406.9L812.0 433.9L812.0 486.9L812.1 393.7L812.1 503.3L812.2 442.4L812.3 442.1L812.3 414.3L812.3 505.7L812.5 465.2L812.5 451.0L812.6 415.0L812.7 503.6L812.7 467.8L812.8 441.9L812.8 406.4L813.0 503.3L813.0 449.4L813.0 421.7L813.2 487.6L813.2 466.7L813.3 406.9L813.3 496.1L813.5 476.5L813.5 505.4L813.6 409.0L813.7 520.4L813.7 432.1L813.8 432.5L813.9 418.5L813.9 502.9L814.0 460.2L814.0 415.4L814.2 503.9L814.2 448.4L814.3 472.6L814.4 504.6L814.4 409.1L814.5 470.5L814.5 455.1L814.5 440.4L814.6 503.9L814.7 466.2L814.8 458.5L814.9 417.8L814.9 490.2L815.0 449.9L815.0 426.3L815.2 415.2L815.2 505.7L815.2 416.2L815.3 470.0L815.3 411.2L815.4 502.8L815.5 466.8L815.5 497.1L815.5 504.9L815.6 417.0L815.7 473.5L815.8 439.5L815.8 416.6L815.9 507.7L816.0 468.0L816.0 505.1L816.0 415.7L816.1 515.8L816.2 423.6L816.3 488.7L816.3 410.7L816.4 496.2L816.5 468.8L816.5 468.8L816.6 510.7L816.7 399.3L816.7 436.8L816.8 474.8L816.8 428.9L816.9 504.4L817.0 479.9L817.0 431.4L817.2 491.0L817.2 425.6L817.2 437.5L817.3 506.3L817.3 398.9L817.5 452.0L817.5 455.4L817.5 504.2L817.5 410.0L817.7 468.6L817.8 495.2L817.9 500.9L817.9 412.0L818.0 414.7L818.0 441.9L818.0 416.5L818.1 493.1L818.2 423.8L818.3 419.6L818.4 502.5L818.4 409.7L818.5 450.9L818.5 462.4L818.6 504.4L818.7 412.1L818.7 427.4L818.8 475.1L818.8 430.1L818.8 504.3L819.0 502.1L819.0 420.0L819.0 412.8L819.2 505.0L819.2 460.6L819.3 504.2L819.4 412.6L819.5 415.4L819.5 456.7L819.5 515.7L819.7 412.1L819.7 495.7L819.8 429.9L819.8 411.2L819.9 494.0L820.0 492.8L820.0 446.4L820.1 499.5L820.2 417.3L820.2 447.4L820.3 472.9L820.3 409.9L820.3 505.1L820.5 451.2L820.5 418.2L820.5 405.6L820.7 504.3L820.7 437.2L820.8 462.4L821.0 492.0L821.0 417.2L821.0 469.3L821.0 421.6L821.2 485.7L821.2 438.7L821.3 503.8L821.5 428.2L821.5 505.0L821.5 468.5L821.5 460.2L821.5 504.3L821.7 411.7L821.7 442.6L821.8 467.8L821.9 416.4L821.9 479.5L822.0 465.3L822.0 485.2L822.2 417.6L822.2 491.5L822.2 459.4L822.3 437.5L822.3 499.3L822.3 430.5L822.5 465.8L822.5 441.0L822.6 500.3L822.7 403.2L822.7 444.6L822.8 451.0L822.8 411.6L822.9 500.9L823.0 429.5L823.0 436.6L823.0 411.8L823.1 500.2L823.2 469.3L823.3 482.9L823.5 491.5L823.5 416.5L823.5 482.2L823.7 422.4L823.8 496.4L823.8 498.8L823.9 409.8L824.0 457.1L824.0 480.6L824.2 431.2L824.2 505.5L824.2 500.4L824.3 465.3L824.3 414.4L824.4 501.2L824.5 430.2L824.5 504.8L824.6 415.8L824.7 423.8L824.8 484.0L825.0 502.2L825.0 437.3L825.0 485.5L825.0 407.0L825.1 505.8L825.2 425.3L825.3 441.6L825.3 404.2L825.4 492.9L825.5 458.2L825.5 464.3L825.6 503.0L825.7 405.7L825.7 487.4L825.8 486.1L825.9 377.7L826.0 500.5L826.0 424.9L826.0 464.7L826.1 402.7L826.2 505.1L826.2 472.0L826.3 475.4L826.3 503.2L826.3 422.2L826.5 442.1L826.5 452.8L826.6 505.0L826.7 428.5L826.7 501.1L826.8 488.8L826.8 502.5L826.9 421.0L827.0 430.4L827.0 487.7L827.1 502.2L827.2 408.4L827.3 466.6L827.4 423.2L827.4 506.3L827.5 434.3L827.5 461.5L827.6 506.3L827.6 414.1L827.7 479.8L827.8 426.6L827.9 502.5L828.0 437.5L828.0 457.9L828.1 422.8L828.2 491.7L828.2 438.9L828.3 437.8L828.3 415.9L828.3 504.2L828.5 463.0L828.5 453.2L828.5 412.7L828.7 504.9L828.7 436.3L828.8 442.5L828.8 412.3L828.9 511.4L829.0 471.3L829.0 470.5L829.1 487.7L829.1 423.9L829.2 435.0L829.3 445.2L829.4 505.3L829.5 413.4L829.5 444.4L829.5 519.3L829.6 424.3L829.7 435.6L829.8 443.7L829.8 503.4L829.8 409.9L830.0 450.9L830.0 455.2L830.1 482.8L830.2 405.4L830.2 470.4L830.3 493.0L830.3 506.9L830.4 425.6L830.5 489.7L830.5 476.4L830.5 408.8L830.6 503.2L830.7 482.2L830.8 467.2L830.8 423.9L830.8 492.1L831.0 442.0L831.0 450.7L831.1 508.3L831.2 407.6L831.2 468.2L831.3 455.2L831.3 506.7L831.4 411.5L831.5 501.1L831.5 455.0L831.5 412.2L831.6 491.2L831.7 462.7L831.8 466.0L831.8 504.6L831.8 418.7L832.0 424.2L832.0 504.7L832.1 413.8L832.2 465.3L832.3 492.5L832.4 405.6L832.5 494.8L832.5 483.0L832.5 471.5L832.5 416.1L832.6 498.2L832.7 481.7L832.8 457.6L832.8 505.7L832.9 391.5L833.0 476.0L833.0 453.6L833.1 503.7L833.1 411.8L833.2 459.5L833.3 454.3L833.3 506.3L833.5 413.4L833.5 440.8L833.5 431.0L833.5 415.9L833.7 496.6L833.7 446.1L833.8 424.5L833.9 409.4L834.0 523.1L834.0 478.0L834.0 461.0L834.1 409.0L834.2 506.9L834.2 427.3L834.3 444.8L834.3 418.8L834.5 505.9L834.5 490.8L834.5 482.5L834.7 511.0L834.7 423.0L834.7 460.9L834.8 423.9L834.8 509.2L835.0 453.2L835.0 452.4L835.1 497.8L835.2 418.1L835.3 413.0L835.3 505.4L835.3 402.9L835.5 494.0L835.5 448.6L835.6 497.6L835.7 413.0L835.7 454.0L835.8 459.3L835.8 408.0L835.9 508.0L836.0 498.7L836.0 482.8L836.1 413.2L836.2 507.0L836.2 503.8L836.3 455.0L836.3 414.4L836.5 505.0L836.5 424.0L836.5 426.8L836.5 497.3L836.7 408.8L836.7 467.9L836.8 458.5L836.8 505.5L836.9 416.1L837.0 444.7L837.0 434.8L837.1 505.4L837.2 413.0L837.2 472.2L837.3 442.1L837.3 507.0L837.4 413.6L837.5 414.1L837.5 430.6L837.7 491.5L837.7 419.5L837.7 436.2L837.8 434.5L837.8 501.9L837.9 411.2L838.0 491.1L838.0 413.0L838.1 392.0L838.2 494.1L838.2 448.1L838.3 446.1L838.3 506.9L838.4 411.5L838.5 457.3L838.5 444.1L838.6 420.3L838.7 507.1L838.8 499.4L838.9 411.4L839.0 485.4L839.0 419.0L839.0 406.7L839.1 506.0L839.2 410.0L839.3 478.0L839.4 427.4L839.5 505.5L839.5 459.0L839.5 457.6L839.7 398.3L839.7 506.1L839.7 409.8L839.8 484.6L839.8 504.0L839.8 407.2L840.0 444.4L840.0 410.8L840.2 489.9L840.2 412.6L840.3 433.9L840.3 489.1L840.5 407.7L840.5 457.5L840.6 421.1L840.7 500.6L840.7 487.9L840.8 485.5L840.8 410.4L840.9 501.6L841.0 487.1L841.0 439.3L841.1 411.6L841.2 490.9L841.2 446.3L841.3 443.6L841.3 412.5L841.3 503.4L841.5 441.7L841.5 504.2L841.7 412.2L841.7 506.0L841.7 437.6L841.8 460.5L841.8 413.4L841.8 504.4L842.0 460.6L842.0 497.8L842.2 420.8L842.2 513.2L842.2 475.2L842.3 476.6L842.4 420.1L842.5 501.0L842.5 464.6L842.5 453.1L842.6 505.3L842.7 410.7L842.7 471.1L842.8 435.8L842.8 412.4L842.9 507.2L843.0 506.3L843.0 477.0L843.1 502.7L843.2 416.6L843.2 493.7L843.3 442.7L843.4 491.3L843.5 403.9L843.5 445.9L843.5 426.4L843.7 419.1L843.7 487.1L843.7 474.6L843.8 472.0L843.8 516.2L843.9 413.3L844.0 418.7L844.0 482.4L844.1 502.6L844.2 438.5L844.2 493.7L844.3 468.9L844.3 507.3L844.4 409.8L844.5 449.9L844.5 436.9L844.6 411.4L844.7 499.9L844.7 466.8L844.8 497.7L844.8 421.2L845.0 504.5L845.0 419.9L845.1 414.5L845.1 510.7L845.2 466.7L845.3 468.7L845.3 506.9L845.5 417.0L845.5 467.0L845.5 452.6L845.5 514.7L845.7 413.1L845.7 465.5L845.8 441.7L845.8 499.0L845.8 407.4L846.0 428.0L846.0 417.6L846.0 505.1L846.2 417.0L846.2 433.0L846.3 443.2L846.3 506.0L846.5 417.3L846.5 422.1L846.5 460.7L846.6 415.5L846.7 495.5L846.7 458.5L846.8 501.5L846.9 424.1L846.9 504.1L847.0 455.8L847.0 442.7L847.1 509.5L847.2 430.5L847.3 464.3L847.4 507.7L847.5 419.9L847.5 443.7L847.5 475.1L847.6 509.6L847.6 418.3L847.7 421.5L847.8 497.2L847.8 416.2L847.9 500.6L848.0 487.8L848.0 467.6L848.0 417.3L848.2 506.5L848.2 433.4L848.3 487.0L848.4 505.3L848.5 407.4L848.5 421.1L848.5 435.1L848.6 415.3L848.7 509.8L848.7 471.2L848.8 424.3L848.8 504.6L848.9 410.4L849.0 457.0L849.0 411.3L849.1 504.9L849.2 447.6L849.3 458.2L849.3 422.7L849.3 502.7L849.5 468.0L849.5 486.2L849.5 421.6L849.5 505.8L849.7 473.6L849.8 445.0L849.9 425.5L850.0 506.7L850.0 476.2L850.0 484.2L850.1 414.2L850.2 509.4L850.2 414.8L850.3 480.4L850.4 505.7L850.5 411.9L850.5 435.7L850.5 479.4L850.7 412.3L850.7 511.1L850.7 497.2L850.8 485.4L850.9 409.0L850.9 498.8L851.0 435.9L851.0 438.9L851.2 415.7L851.2 502.3L851.2 473.4L851.3 469.5L851.3 506.4L851.4 416.7L851.5 453.2L851.5 425.2L851.6 509.0L851.7 410.2L851.8 461.5L851.8 414.9L851.9 507.4L852.0 470.9L852.0 470.9L852.1 497.9L852.2 410.7L852.2 484.9L852.3 476.1L852.4 417.8L852.5 506.0L852.5 445.2L852.5 454.0L852.5 414.4L852.7 512.3L852.8 455.7L852.9 424.5L852.9 513.1L853.0 451.6L853.0 477.5L853.2 506.8L853.2 428.0L853.2 437.6L853.3 465.1L853.4 429.2L853.4 507.6L853.5 450.5L853.5 412.5L853.6 405.4L853.7 506.4L853.7 442.1L853.8 441.0L853.8 373.8L853.8 506.9L854.0 501.5L854.0 437.4L854.1 405.1L854.2 497.9L854.2 475.9L854.3 478.4L854.4 507.4L854.5 409.1L854.5 444.4L854.5 503.2L854.5 414.1L854.7 507.5L854.7 487.2L854.8 486.1L854.9 510.3L854.9 405.5L855.0 505.6L855.0 415.3L855.1 414.0L855.2 501.3L855.2 436.3L855.3 426.5L855.3 410.8L855.4 499.6L855.5 466.6L855.5 433.7L855.5 504.8L855.5 408.6L855.7 437.5L855.8 420.2L855.9 417.0L856.0 490.4L856.0 442.6L856.0 413.4L856.2 499.4L856.2 458.3L856.3 489.6L856.3 507.9L856.4 417.6L856.5 429.1L856.5 426.3L856.6 423.8L856.7 495.4L856.7 453.6L856.8 412.4L856.9 408.9L857.0 515.2L857.0 411.0L857.0 443.6L857.2 414.9L857.2 505.9L857.2 491.9L857.3 464.7L857.4 417.6L857.4 505.6L857.5 445.8L857.5 489.5L857.5 418.5L857.6 502.6L857.7 443.1L857.8 426.9L857.8 506.3L857.9 417.4L858.0 434.0L858.0 468.9L858.0 413.2L858.1 505.1L858.2 458.8L858.3 436.2L858.4 500.3L858.5 409.2L858.5 467.3L858.5 437.0L858.7 404.4L858.7 502.4L858.7 501.7L858.8 410.9L858.9 407.7L858.9 503.6L859.0 488.0L859.0 467.2L859.2 502.0L859.2 416.0L859.2 438.2L859.3 477.3L859.4 508.1L859.4 402.1L859.5 459.1L859.5 432.5L859.5 500.9L859.6 415.3L859.7 446.1L859.8 465.3L859.9 415.4L860.0 513.3L860.0 458.3L860.0 419.6L860.1 496.6L860.2 478.6L860.3 466.6L860.3 410.6L860.4 496.8L860.5 438.8L860.5 442.8L860.6 418.6L860.7 504.5L860.7 444.1L860.8 413.5L860.8 503.9L861.0 472.3L861.0 438.5L861.2 505.8L861.2 410.3L861.2 467.7L861.3 448.1L861.3 429.1L861.4 521.6L861.5 464.9L861.5 435.0L861.7 412.4L861.7 506.6L861.8 434.7L861.9 409.5L861.9 502.8L862.0 449.7L862.0 464.1L862.2 419.7L862.2 496.8L862.2 464.6L862.3 473.5L862.3 419.8L862.4 499.6L862.5 440.7L862.5 441.4L862.6 508.0L862.6 417.9L862.7 470.7L862.8 478.5L862.8 428.7L862.9 507.2L863.0 491.1L863.0 443.8L863.1 419.2L863.1 504.8L863.2 486.8L863.3 433.5L863.3 498.5L863.4 414.3L863.5 473.8L863.5 476.2L863.5 424.7L863.7 505.2L863.7 471.3L863.8 492.3L863.9 498.1L864.0 417.3L864.0 433.1L864.0 437.2L864.1 517.1L864.2 410.3L864.2 414.4L864.3 429.4L864.3 415.6L864.4 513.3L864.5 447.7L864.5 474.7L864.6 503.5L864.6 421.9L864.7 476.6L864.8 477.3L864.8 493.3L864.9 411.5L865.0 432.0L865.0 500.8L865.1 416.1L865.1 505.8L865.2 447.9L865.3 440.6L865.3 411.7L865.4 510.6L865.5 458.9L865.5 450.7L865.6 410.8L865.7 509.4L865.7 432.7L865.8 462.3L865.8 372.8L866.0 504.7L866.0 438.8L866.0 472.6L866.1 505.7L866.1 412.4L866.2 485.3L866.3 466.5L866.3 507.4L866.3 411.7L866.5 505.1L866.5 429.2L866.7 411.3L866.7 507.0L866.7 464.8L866.8 491.8L866.9 505.5L867.0 407.2L867.0 475.6L867.1 420.9L867.2 505.9L867.3 450.6L867.4 400.0L867.5 508.6L867.5 485.0L867.5 461.6L867.5 419.0L867.7 505.2L867.7 493.7L867.8 440.5L867.8 487.6L867.8 400.7L868.0 430.7L868.0 476.7L868.1 410.3L868.2 513.6L868.2 450.8L868.3 477.9L868.3 508.5L868.4 412.3L868.5 502.7L868.5 485.4L868.6 506.0L868.6 388.5L868.7 467.5L868.8 469.7L868.8 411.6L868.9 506.3L869.0 417.9L869.0 484.1L869.0 503.6L869.1 410.7L869.2 427.9L869.3 471.0L869.4 498.3L869.5 404.7L869.5 415.0L869.7 500.9L869.7 467.9L869.8 416.0L869.9 413.1L869.9 507.4L870.0 468.2L870.0 480.8L870.2 408.5L870.2 512.5L870.3 478.2L870.3 505.6L870.4 409.6L870.5 439.5L870.5 485.3L870.5 499.4L870.7 427.0L870.7 452.3L870.8 454.7L870.9 402.1L870.9 505.8L871.0 457.3L871.0 471.4L871.0 497.6L871.2 411.4L871.2 489.6L871.3 486.0L871.3 500.3L871.4 413.3L871.5 481.1L871.5 464.4L871.5 500.9L871.7 416.0L871.7 460.3L871.8 485.9L872.0 498.4L872.0 411.1L872.0 438.5L872.0 431.7L872.0 496.7L872.0 402.7L872.2 428.9L872.3 460.1L872.3 507.2L872.3 401.5L872.5 441.4L872.5 470.4L872.6 418.8L872.7 507.3L872.7 444.3L872.8 466.5L872.8 510.3L872.9 417.5L873.0 468.8L873.0 465.2L873.1 506.6L873.2 416.2L873.2 490.1L873.3 443.8L873.3 408.3L873.4 502.0L873.5 473.4L873.5 416.9L873.6 413.5L873.6 505.7L873.7 455.7L873.8 463.2L873.8 416.0L873.9 503.1L874.0 438.2L874.0 433.7L874.0 510.3L874.1 412.0L874.2 476.7L874.3 469.3L874.3 406.6L874.4 517.0L874.5 491.5L874.5 429.2L874.6 413.5L874.6 514.9L874.7 480.3L874.8 468.7L874.8 493.3L874.9 402.5L875.0 446.4L875.0 451.5L875.1 493.7L875.2 417.9L875.2 447.6L875.3 505.0L875.4 424.2L875.5 428.9L875.5 504.9L875.5 413.5L875.7 506.2L875.7 448.6L875.8 452.2L875.8 510.9L875.8 421.3L876.0 421.5L876.0 462.1L876.1 419.7L876.1 499.8L876.2 457.8L876.3 429.1L876.4 407.3L876.5 508.1L876.5 430.6L876.5 428.4L876.6 413.2L876.6 515.1L876.7 422.8L876.8 446.1L876.9 491.2L877.0 413.9L877.0 432.0L877.0 442.4L877.1 422.4L877.2 507.0L877.2 429.2L877.3 426.4L877.3 507.4L877.5 412.9L877.5 499.5L877.5 471.8L877.6 502.0L877.6 414.7L877.7 423.0L877.8 449.4L877.8 507.4L878.0 423.6L878.0 507.7L878.2 416.1L878.3 449.4L878.3 418.7L878.5 506.0L878.5 435.9L878.5 473.7L878.6 508.2L878.7 423.6L878.7 504.0L878.8 435.4L878.9 498.7L879.0 413.6L879.0 452.6L879.0 402.3L879.0 505.5L879.2 479.4L879.3 477.9L879.3 514.6L879.3 397.3L879.5 437.4L879.5 476.2L879.6 508.0L879.7 416.3L879.7 488.5L879.8 455.3L879.9 507.0L879.9 408.3L880.0 488.7L880.0 421.2L880.1 412.3L880.2 503.4L880.3 434.1L880.3 505.3L880.4 423.5L880.5 502.6L880.5 459.5L880.6 505.8L880.7 411.6L880.7 478.1L880.8 448.4L880.9 495.5L881.0 412.7L881.0 459.8L881.0 439.9L881.1 410.7L881.2 506.9L881.2 475.4L881.3 487.0L881.4 493.1L881.5 411.2L881.5 446.6L881.7 407.2L881.7 506.8L881.7 453.5L881.8 476.2L881.8 507.1L881.8 418.8L882.0 430.5L882.0 485.2L882.0 502.6L882.1 424.4L882.2 459.2L882.3 460.5L882.4 410.8L882.5 507.1L882.5 416.5L882.5 447.3L882.6 498.5L882.7 416.5L882.7 465.7L882.8 463.3L882.9 506.0L882.9 395.7L883.0 472.9L883.0 477.4L883.0 400.6L883.2 504.6L883.2 417.7L883.3 504.9L883.4 508.6L883.4 404.7L883.5 481.7L883.5 416.6L883.6 510.3L883.6 413.8L883.7 465.0L883.8 455.8L883.8 498.4L883.8 422.5L884.0 489.5L884.0 496.2L884.0 505.6L884.1 420.2L884.2 441.7L884.3 433.5L884.4 416.3L884.5 501.6L884.5 446.6L884.5 492.8L884.6 500.3L884.6 405.5L884.7 493.8L884.8 448.1L884.8 512.3L884.9 409.1L885.0 451.1L885.0 465.4L885.0 414.9L885.1 515.5L885.2 484.4L885.3 491.8L885.3 506.6L885.5 412.6L885.5 438.0L885.5 440.5L885.5 507.5L885.6 413.2L885.7 457.4L885.8 459.1L885.8 504.1L885.8 409.3L886.0 459.4L886.0 496.1L886.1 403.3L886.2 503.2L886.2 465.9L886.3 471.4L886.4 507.2L886.4 405.7L886.5 450.7L886.5 411.4L886.6 502.8L886.7 422.8L886.8 455.8L886.8 419.9L886.9 492.8L887.0 469.0L887.0 489.6L887.2 408.7L887.2 509.5L887.2 466.3L887.3 470.3L887.3 397.3L887.4 504.7L887.5 413.1L887.5 447.1L887.6 509.4L887.6 416.2L887.7 416.9L887.8 430.9L887.8 422.5L887.8 505.9L888.0 444.4L888.0 418.9L888.0 414.9L888.2 501.3L888.2 428.8L888.3 454.3L888.4 505.8L888.5 421.6L888.5 499.1L888.5 436.1L888.5 511.4L888.6 415.6L888.7 456.1L888.8 430.5L888.8 491.9L888.9 404.9L889.0 446.9L889.0 505.9L889.2 414.0L889.2 508.2L889.2 450.8L889.3 478.7L889.3 409.9L889.5 500.7L889.5 450.6L889.5 505.7L889.6 406.4L889.7 500.3L889.8 440.9L889.8 506.0L889.8 416.4L890.0 489.6L890.0 504.3L890.1 417.8L890.2 507.4L890.3 494.1L890.5 411.1L890.5 458.3L890.5 499.4L890.6 392.6L890.7 451.3L890.8 455.6L890.8 411.2L890.9 507.4L891.0 467.1L891.0 461.7L891.0 502.8L891.1 404.3L891.2 492.8L891.3 451.6L891.3 410.0L891.5 500.9L891.5 460.1L891.5 414.5L891.5 506.3L891.6 410.4L891.7 445.2L891.8 470.5L891.9 502.2L892.0 406.6L892.0 447.9L892.0 502.0L892.2 409.9L892.2 503.2L892.2 428.4L892.3 450.6L892.3 497.3L892.5 415.1L892.5 489.6L892.5 463.0L892.5 507.4L892.5 409.6L892.7 423.6L892.8 421.0L892.9 508.2L892.9 418.2L893.0 434.2L893.0 434.2L893.1 404.4L893.2 508.6L893.2 488.1L893.3 437.8L893.4 409.3L893.5 506.9L893.5 464.9L893.5 480.6L893.5 408.4L893.7 505.9L893.7 443.6L893.8 455.3L893.8 416.1L893.8 507.1L894.0 450.1L894.0 465.0L894.0 506.9L894.1 417.9L894.2 500.5L894.3 428.2L894.5 512.9L894.5 489.7L894.5 487.1L894.7 508.1L894.7 422.5L894.7 472.7L894.8 436.9L894.8 405.2L894.8 503.9L895.0 448.4L895.0 453.2L895.1 503.4L895.1 415.7L895.2 419.1L895.3 461.6L895.3 507.1L895.4 413.6L895.5 463.7L895.5 475.5L895.6 506.6L895.7 415.6L895.7 450.4L895.8 498.7L895.8 501.4L896.0 401.7L896.0 465.2L896.0 429.4L896.2 503.2L896.2 411.7L896.2 479.7L896.3 434.2L896.4 507.6L896.4 407.2L896.5 460.0L896.5 498.4L896.5 414.1L896.7 508.5L896.7 505.2L896.8 464.8L896.8 411.2L896.9 506.8L897.0 496.5L897.0 422.7L897.1 397.3L897.2 502.1L897.2 454.5L897.3 469.2L897.3 416.7L897.3 513.4L897.5 492.6L897.5 470.1L897.6 406.0L897.7 507.0L897.7 457.6L897.8 450.5L897.8 505.7L897.9 408.6L898.0 445.7L898.0 412.4L898.0 508.1L898.2 418.9L898.3 487.4L898.4 432.4L898.4 506.0L898.5 457.2L898.5 468.4L898.5 506.4L898.7 411.4L898.7 421.8L898.8 465.0L898.8 404.6L899.0 512.6L899.0 470.0L899.0 471.9L899.0 504.6L899.1 415.9L899.2 435.6L899.3 455.9L899.3 505.0L899.4 415.9L899.5 458.2L899.5 459.3L899.7 414.8L899.7 505.3L899.7 448.6L899.8 439.8L899.9 518.7L899.9 417.1L900.0 473.5L900.0 439.0L900.2 411.2L900.2 508.2L900.2 490.2L900.3 461.3L900.4 507.4L900.4 400.7L900.5 506.6L900.5 442.4L900.7 417.7L900.7 507.0L900.7 461.8L900.8 495.6L900.9 506.1L901.0 398.5L901.0 490.9L901.0 477.7L901.0 411.5L901.1 505.6L901.2 445.8L901.3 462.4L901.3 500.2L901.4 421.5L901.5 466.7L901.5 496.2L901.5 413.8L901.7 510.3L901.7 473.4L901.8 474.6L901.8 505.6L901.9 412.9L902.0 470.3L902.0 475.7L902.1 499.1L902.1 408.2L902.2 442.0L902.3 465.9L902.3 415.5L902.4 504.0L902.5 457.8L902.5 487.8L902.5 415.3L902.5 507.3L902.7 435.5L902.8 442.0L902.8 414.8L902.9 510.3L903.0 472.5L903.0 448.7L903.1 417.2L903.2 504.6L903.2 469.7L903.3 451.8L903.3 506.4L903.4 421.0L903.5 440.5L903.5 449.3L903.5 404.0L903.6 508.6L903.7 457.7L903.8 444.0L903.9 413.3L904.0 504.6L904.0 458.7L904.0 505.1L904.0 401.5L904.1 506.4L904.2 446.6L904.3 475.1L904.3 505.3L904.3 413.6L904.5 478.6L904.5 447.6L904.7 505.2L904.7 412.9L904.7 457.9L904.8 459.8L904.8 419.1L904.8 507.2L905.0 458.0L905.0 445.4L905.0 508.2L905.0 415.9L905.2 449.2L905.3 497.4L905.4 414.5L905.4 513.5L905.5 488.6L905.5 491.0L905.7 514.5L905.7 415.7L905.7 416.6L905.8 474.9L905.8 507.1L905.9 415.9L906.0 470.0L906.0 444.9L906.1 406.0L906.1 520.7L906.2 467.9L906.3 462.7L906.4 503.0L906.4 420.2L906.5 463.4L906.5 479.3L906.6 506.8L906.7 430.6L906.7 491.8L906.8 467.7L906.8 401.9L906.8 500.3L907.0 435.5L907.0 486.4L907.1 510.4L907.1 414.5L907.2 456.8L907.3 438.8L907.3 413.5L907.4 498.1L907.5 443.1L907.5 439.0L907.6 507.4L907.6 427.0L907.7 461.5L907.8 465.7L907.9 510.9L908.0 416.4L908.0 439.9L908.0 473.7L908.0 409.4L908.2 506.7L908.2 447.3L908.3 462.8L908.3 505.2L908.4 402.0L908.5 413.4L908.5 476.4L908.5 404.8L908.6 497.7L908.7 441.4L908.8 489.2L908.9 505.7L908.9 421.6L909.0 448.1L909.0 507.9L909.1 412.8L909.2 414.6L909.3 465.0L909.3 503.5L909.5 418.0L909.5 502.5L909.5 474.9L909.5 422.4L909.6 510.8L909.7 466.4L909.8 447.1L909.9 509.7L909.9 418.0L910.0 469.8L910.0 429.6L910.1 404.4L910.2 499.5L910.2 425.9L910.3 489.6L910.3 507.6L910.4 409.0L910.5 489.1L910.5 461.8L910.6 504.2L910.7 415.5L910.7 418.0L910.8 481.8L910.8 413.4L910.8 503.9L911.0 450.5L911.0 477.0L911.0 420.6L911.2 499.9L911.2 483.9L911.3 483.1L911.3 500.7L911.4 406.6L911.5 426.3L911.5 494.1L911.5 522.2L911.6 415.1L911.7 450.3L911.8 450.0L911.8 411.1L912.0 510.1L912.0 473.7L912.0 473.7L912.1 418.5L912.2 506.9L912.2 491.2L912.3 499.3L912.3 413.4L912.5 507.5L912.5 460.2L912.5 447.8L912.5 503.0L912.7 411.5L912.7 483.0L912.8 467.6L913.0 412.2L913.0 502.2L913.0 422.5L913.0 464.0L913.2 504.2L913.2 411.7L913.2 453.7L913.3 440.5L913.4 410.8L913.5 507.3L913.5 468.8L913.5 505.7L913.6 418.2L913.7 441.8L913.8 423.4L913.8 421.3L913.9 498.1L914.0 437.3L914.0 495.6L914.0 506.4L914.1 411.6L914.2 483.3L914.3 501.0L914.3 417.7L914.4 504.3L914.5 448.4L914.5 463.5L914.7 414.5L914.7 511.6L914.7 480.3L914.8 424.0L914.9 507.0L915.0 411.8L915.0 452.9L915.0 491.0L915.1 412.4L915.2 466.7L915.3 489.9L915.4 502.2L915.4 416.8L915.5 483.9L915.5 452.9L915.7 412.8L915.7 510.4L915.7 452.6L915.8 483.1L915.8 507.2L915.9 409.7L916.0 465.5L916.0 438.4L916.1 408.9L916.2 499.1L916.2 494.3L916.3 504.7L916.3 507.1L916.4 412.8L916.5 479.2L916.5 483.7L916.5 511.1L916.7 412.4L916.8 417.8L916.9 412.5L917.0 505.0L917.0 464.3L917.0 505.0L917.2 505.8L917.2 412.9L917.2 450.6L917.3 437.4L917.3 417.6L917.4 497.6L917.5 418.3L917.5 451.6L917.6 505.8L917.6 418.4L917.7 469.1L917.8 447.1L917.8 423.4L917.9 505.2L918.0 469.1L918.0 483.5L918.0 506.8L918.1 407.8L918.2 494.1L918.3 480.9L918.3 408.5L918.5 506.1L918.5 445.6L918.5 472.0L918.5 412.1L918.6 509.9L918.7 474.4L918.8 482.4L918.9 508.5L918.9 409.0L919.0 487.4L919.0 486.7L919.0 505.1L919.1 415.6L919.2 456.6L919.3 416.4L919.5 502.4L919.5 447.5L919.5 446.6L919.5 507.6L919.7 415.6L919.7 471.2L919.8 450.5L919.8 517.2L919.9 406.2L920.0 490.7L920.0 433.4L920.0 413.2L920.2 506.4L920.2 468.3L920.3 487.2L920.3 500.8L920.4 407.9L920.5 460.7L920.5 486.8L920.5 418.7L920.7 519.6L920.7 485.8L920.8 491.6L920.9 504.0L921.0 419.2L921.0 501.7L921.0 498.7L921.1 418.7L921.2 504.3L921.2 425.1L921.3 490.9L921.3 506.6L921.4 411.3L921.5 476.4L921.5 440.9L921.5 418.7L921.6 510.1L921.7 455.3L921.8 491.9L921.9 503.7L922.0 414.4L922.0 458.4L922.1 410.6L922.1 506.5L922.2 442.5L922.3 458.4L922.3 509.3L922.5 412.0L922.5 496.2L922.5 448.3L922.7 503.3L922.7 416.4L922.7 488.7L922.8 448.8L922.9 412.1L923.0 507.4L923.0 473.0L923.0 493.8L923.1 413.1L923.2 494.3L923.3 434.6L923.3 411.9L923.4 507.4L923.5 459.0L923.5 454.9L923.6 416.3L923.7 505.4L923.7 473.2L923.8 451.7L923.8 499.9L924.0 419.2L924.0 468.5L924.0 459.4L924.1 507.4L924.1 410.7L924.2 468.6L924.3 468.9L924.4 413.4L924.4 507.8L924.5 444.5L924.5 476.5L924.5 414.6L924.7 505.1L924.7 492.7L924.8 508.1L924.8 413.3L925.0 457.5L925.0 488.1L925.2 407.9L925.2 503.4L925.2 422.4L925.3 473.2L925.5 507.5L925.5 407.8L925.5 484.0L925.5 413.2L925.7 507.4L925.7 492.0L925.8 485.8L925.9 504.3L925.9 417.1L926.0 427.9L926.0 470.9L926.0 505.2L926.1 417.0L926.2 491.2L926.3 477.1L926.4 496.9L926.4 412.2L926.5 459.5L926.5 440.5L926.5 504.7L926.7 410.2L926.7 436.4L926.8 482.9L926.8 415.6L926.8 510.0L927.0 445.4L927.0 448.1L927.1 412.8L927.2 503.5L927.2 469.8L927.3 432.9L927.3 494.1L927.4 412.4L927.5 446.2L927.5 468.1L927.5 412.4L927.5 498.9L927.7 416.7L927.8 450.2L927.8 506.4L927.9 412.6L928.0 455.7L928.0 485.4L928.2 415.2L928.2 504.5L928.3 475.1L928.3 412.9L928.4 499.8L928.5 434.5L928.5 469.6L928.6 412.0L928.7 506.9L928.7 436.6L928.8 463.2L928.8 507.0L928.9 413.1L929.0 444.2L929.0 473.5L929.1 507.2L929.2 406.2L929.2 430.0L929.3 477.1L929.3 506.7L929.3 421.5L929.5 449.1L929.5 458.1L929.7 416.0L929.7 510.3L929.7 425.1L929.8 472.6L929.9 510.9L929.9 416.7L930.0 477.4L930.0 462.7L930.2 407.0L930.2 506.2L930.2 504.6L930.3 468.0L930.4 510.8L930.4 428.8L930.5 490.0L930.5 493.9L930.6 412.4L930.7 508.7L930.7 431.0L930.8 412.1L930.9 504.7L931.0 430.1L931.0 488.2L931.0 508.1L931.1 416.4L931.2 456.7L931.3 421.9L931.3 506.1L931.5 474.1L931.5 435.6L931.5 409.5L931.6 512.5L931.7 502.1L931.8 444.0L931.9 503.3L932.0 406.8L932.0 444.9L932.0 403.7L932.2 509.3L932.2 485.0L932.3 441.9L932.4 414.2L932.5 510.4L932.5 460.7L932.5 464.0L932.7 508.9L932.7 412.7L932.7 445.2L932.8 457.5L932.8 406.4L932.8 514.2L933.0 467.5L933.0 419.3L933.1 412.6L933.2 509.6L933.2 465.8L933.3 451.5L933.4 505.0L933.4 412.4L933.5 450.7L933.5 468.8L933.5 503.8L933.6 412.4L933.7 487.7L933.8 451.8L933.9 412.4L934.0 510.0L934.0 424.9L934.0 451.1L934.1 420.5L934.1 509.3L934.2 453.5L934.3 449.4L934.3 505.3L934.3 424.2L934.5 437.5L934.5 493.8L934.7 507.8L934.7 397.3L934.8 454.4L934.9 504.2L934.9 410.6L935.0 419.3L935.0 489.8L935.1 507.3L935.1 414.2L935.2 497.6L935.3 442.8L935.4 417.3L935.4 505.1L935.5 461.4L935.5 472.3L935.7 507.8L935.7 415.2L935.7 434.8L935.8 432.2L935.8 413.8L935.9 505.7L936.0 456.8L936.0 501.1L936.0 507.1L936.2 402.0L936.2 472.7L936.3 451.2L936.3 422.3L936.4 507.1L936.5 500.5L936.5 474.3L936.6 508.1L936.7 421.6L936.7 474.7L936.8 489.3L936.9 507.0L936.9 412.7L937.0 482.1L937.0 465.2L937.0 412.2L937.0 509.2L937.2 465.0L937.3 452.9L937.3 527.6L937.3 418.4L937.5 478.6L937.5 463.5L937.7 413.7L937.7 498.5L937.7 473.6L937.8 409.8L937.9 500.8L938.0 475.6L938.0 437.4L938.2 413.9L938.2 505.5L938.3 418.4L938.5 509.4L938.5 488.1L938.5 506.5L938.7 508.3L938.7 407.8L938.8 439.4L938.8 507.6L938.9 415.4L939.0 433.8L939.0 472.4L939.0 494.6L939.2 414.2L939.2 472.2L939.3 488.0L939.3 513.3L939.4 411.9L939.5 502.0L939.5 428.9L939.5 414.3L939.7 502.4L939.7 415.1L939.8 421.6L940.0 505.2L940.0 419.2L940.0 454.6L940.0 421.5L940.1 417.3L940.2 507.9L940.2 499.0L940.3 465.6L940.4 499.2L940.5 412.9L940.5 418.1L940.5 485.8L940.7 505.4L940.7 413.8L940.8 461.6L941.0 423.9L941.0 504.1L941.0 472.0L941.0 504.7L941.1 421.4L941.1 510.1L941.2 452.9L941.3 472.3L941.3 407.7L941.5 506.7L941.5 419.0L941.5 475.5L941.6 506.6L941.6 417.6L941.7 469.3L941.8 461.0L941.8 504.3L941.9 420.5L942.0 446.9L942.0 431.2L942.1 395.0L942.2 507.3L942.2 478.1L942.3 494.1L942.4 413.3L942.5 512.1L942.5 482.8L942.5 470.5L942.7 428.9L942.7 508.6L942.7 451.7L942.8 483.9L942.8 406.9L943.0 505.1L943.0 446.6L943.0 422.9L943.0 504.2L943.2 410.2L943.2 435.4L943.3 431.9L943.3 511.4L943.4 410.4L943.5 467.4L943.5 478.7L943.6 520.0L943.7 411.0L943.7 479.0L943.8 460.8L943.9 416.0L944.0 506.5L944.0 476.7L944.0 506.1L944.0 506.4L944.1 412.4L944.2 464.1L944.3 419.1L944.3 505.7L944.5 475.6L944.5 443.9L944.7 414.7L944.7 506.6L944.7 468.3L944.8 475.3L944.8 410.5L944.9 506.3L945.0 475.0L945.0 461.7L945.1 425.9L945.1 507.8L945.2 459.8L945.3 420.2L945.3 505.1L945.3 400.4L945.5 460.0L945.5 473.7L945.6 504.8L945.6 418.3L945.7 487.8L945.8 445.7L945.8 412.5L945.9 505.5L946.0 470.1L946.0 470.1L946.0 411.4L946.2 503.6L946.2 488.0L946.3 441.5L946.3 507.4L946.3 413.1L946.5 439.1L946.5 449.5L946.6 413.1L946.7 493.4L946.7 472.2L946.8 474.9L947.0 505.3L947.0 415.5L947.0 432.0L947.0 458.1L947.2 410.3L947.2 507.7L947.2 455.3L947.3 473.2L947.3 407.4L947.3 508.4L947.5 496.2L947.5 469.8L947.5 509.8L947.7 410.2L947.7 446.7L947.8 442.2L947.8 506.9L948.0 412.5L948.0 442.8L948.1 506.3L948.1 416.1L948.2 432.6L948.3 465.4L948.3 410.8L948.3 508.4L948.5 479.2L948.5 485.2L948.6 414.8L948.6 504.6L948.7 476.4L948.8 507.1L948.8 415.5L948.9 513.1L949.0 447.1L949.0 459.1L949.1 407.1L949.2 501.2L949.2 464.2L949.3 454.4L949.3 510.9L949.4 413.1L949.5 461.6L949.5 493.1L949.5 505.5L949.7 413.1L949.7 473.8L949.8 475.9L949.8 505.2L949.8 413.8L950.0 486.2L950.0 495.8L950.0 507.1L950.1 411.3L950.2 459.7L950.3 478.7L950.3 505.8L950.4 413.7L950.5 478.2L950.5 426.8L950.7 514.4L950.7 410.7L950.7 437.0L950.8 471.4L950.8 512.7L950.9 411.4L951.0 455.1L951.0 456.8L951.0 418.1L951.2 509.2L951.2 456.7L951.3 424.3L951.4 419.9L951.4 514.6L951.5 464.3L951.5 494.1L951.5 416.1L951.6 514.3L951.7 437.4L951.8 477.9L951.8 511.0L951.9 416.7L952.0 468.2L952.0 476.5L952.2 507.3L952.2 415.3L952.2 476.9L952.3 477.7L952.4 412.6L952.5 506.2L952.5 422.1L952.5 459.8L952.5 415.3L952.6 505.3L952.7 467.7L952.8 443.8L952.8 413.2L952.8 503.7L953.0 487.5L953.0 438.8L953.2 503.9L953.2 414.6L953.2 454.3L953.3 420.4L953.3 513.2L953.5 403.4L953.5 429.9L953.5 409.0L953.5 505.5L953.7 492.1L953.8 441.3L953.8 403.9L953.9 506.3L954.0 472.0L954.0 483.4L954.0 413.0L954.2 515.1L954.2 467.8L954.3 430.0L954.3 507.5L954.5 412.6L954.5 507.0L954.5 482.0L954.6 416.1L954.7 504.1L954.7 492.4L954.8 499.7L954.8 413.5L954.9 504.3L955.0 422.6L955.0 473.5L955.0 409.8L955.1 501.1L955.2 487.1L955.3 479.2L955.3 411.3L955.4 509.9L955.5 481.5L955.5 431.0L955.5 416.3L955.7 503.3L955.7 439.5L955.8 467.5L955.8 507.8L955.9 410.9L956.0 448.0L956.0 466.7L956.1 425.6L956.2 509.0L956.2 471.5L956.3 462.2L956.3 415.0L956.4 504.9L956.5 431.7L956.5 492.0L956.5 424.3L956.6 521.6L956.7 493.0L956.8 442.0L956.9 410.1L957.0 504.6L957.0 460.2L957.0 471.7L957.2 412.7L957.2 505.8L957.2 449.6L957.3 465.2L957.3 412.7L957.5 506.2L957.5 461.5L957.5 492.8L957.6 512.4L957.7 413.1L957.7 466.2L957.8 510.0L958.0 408.8L958.0 454.3L958.0 498.4L958.1 507.0L958.1 408.6L958.2 479.1L958.3 433.7L958.4 415.0L958.4 500.2L958.5 447.7L958.5 453.0L958.5 409.4L958.5 499.9L958.7 486.9L958.8 443.2L958.9 510.0L958.9 416.4L959.0 431.3L959.0 455.9L959.1 414.4L959.1 507.9L959.2 458.0L959.3 424.6L959.3 413.1L959.4 509.3L959.5 458.0L959.5 487.4L959.5 509.6L959.7 421.5L959.7 448.1L959.8 475.5L959.8 419.1L959.9 507.5L960.0 446.2L960.0 465.1L960.0 413.8L960.1 504.4L960.2 476.5L960.3 461.0L960.3 414.9L960.3 505.1L960.5 445.6L960.5 428.8L960.6 505.7L960.7 418.2L960.7 461.1L960.8 446.7L960.8 409.7L961.0 511.9L961.0 455.2L961.0 483.4L961.1 417.9L961.2 506.8L961.2 459.8L961.3 415.8L961.4 503.0L961.4 415.3L961.5 456.2L961.5 450.2L961.6 418.0L961.7 507.2L961.7 483.2L961.8 468.2L961.9 507.1L961.9 413.6L962.0 430.0L962.0 468.0L962.0 506.9L962.0 408.4L962.2 443.5L962.3 408.6L962.3 493.7L962.5 437.1L962.5 442.0L962.5 497.5L962.5 410.5L962.7 465.1L962.8 498.9L962.9 412.8L962.9 508.4L963.0 500.1L963.0 458.7L963.1 513.6L963.1 416.5L963.2 464.0L963.3 482.5L963.3 401.8L963.4 510.5L963.5 434.3L963.5 484.3L963.6 502.2L963.7 408.0L963.7 490.6L963.8 468.8L963.8 505.2L963.9 413.7L964.0 452.7L964.0 465.8L964.2 507.4L964.2 402.0L964.2 501.8L964.3 502.2L964.4 504.2L964.4 412.3L964.5 434.4L964.5 471.4L964.6 416.3L964.7 506.3L964.7 477.4L964.8 479.0L964.8 412.9L964.9 503.6L965.0 481.1L965.0 460.0L965.2 511.2L965.2 413.8L965.2 424.4L965.3 421.7L965.4 508.5L965.4 410.6L965.5 451.3L965.5 474.8L965.6 414.4L965.6 507.2L965.7 493.3L965.8 439.5L965.8 499.8L965.9 414.4L966.0 496.1L966.0 494.2L966.1 413.6L966.2 507.3L966.3 497.5L966.4 413.5L966.4 506.8L966.5 437.6L966.5 465.1L966.6 498.9L966.6 413.4L966.7 453.0L966.8 454.8L966.8 508.4L967.0 407.6L967.0 474.9L967.0 455.1L967.1 507.4L967.1 414.9L967.2 440.9L967.3 495.8L967.4 521.9L967.5 414.2L967.5 419.2L967.5 474.0L967.7 412.3L967.7 511.4L967.7 429.0L967.8 479.7L967.8 507.0L967.9 413.5L968.0 476.4L968.0 442.1L968.0 506.8L968.1 411.0L968.2 414.2L968.3 449.7L968.3 511.2L968.4 403.6L968.5 445.4L968.5 474.8L968.6 505.9L968.6 380.2L968.7 493.6L968.8 470.1L968.9 515.5L969.0 418.0L969.0 419.0L969.0 483.4L969.0 505.9L969.1 408.4L969.2 446.7L969.3 452.5L969.3 414.4L969.4 504.1L969.5 425.1L969.5 424.0L969.6 507.5L969.7 412.9L969.7 506.5L969.8 457.2L969.9 413.6L969.9 503.3L970.0 453.3L970.0 506.6L970.0 515.2L970.1 416.5L970.2 480.6L970.3 418.7L970.4 405.3L970.5 507.7L970.5 416.0L970.5 503.3L970.5 503.4L970.6 410.4L970.7 473.0L970.8 463.9L970.8 516.8L970.9 411.4L971.0 489.4L971.0 460.2L971.2 510.2L971.2 414.4L971.2 477.1L971.3 511.9L971.5 404.6L971.5 444.1L971.5 496.6L971.6 421.5L971.7 502.4L971.7 487.4L971.8 506.2L971.8 418.0L972.0 459.9L972.0 450.0L972.0 406.9L972.2 513.7L972.2 486.0L972.3 434.2L972.3 506.2L972.3 413.9L972.5 438.9L972.5 475.2L972.6 412.8L972.7 507.9L972.7 450.8L972.8 485.9L972.9 414.2L973.0 504.1L973.0 426.6L973.0 433.5L973.1 410.9L973.2 506.6L973.2 470.7L973.3 443.7L973.4 410.4L973.4 517.2L973.5 450.0L973.5 442.5L973.6 401.3L973.7 505.4L973.7 468.0L973.8 497.0L973.8 507.2L973.8 407.9L974.0 462.0L974.0 433.1L974.1 409.6L974.2 505.3L974.2 422.5L974.3 453.7L974.5 414.9L974.5 506.1L974.5 445.6L974.5 466.2L974.5 409.6L974.5 505.4L974.7 457.7L974.8 447.0L974.8 405.1L974.9 506.6L975.0 476.6L975.0 436.7L975.0 407.5L975.2 506.7L975.2 466.0L975.3 455.7L975.3 505.7L975.5 417.3L975.5 500.8L975.5 413.5L975.6 507.9L975.7 451.3L975.8 480.3L975.9 508.7L975.9 417.5L976.0 448.5L976.0 463.3L976.1 506.5L976.2 409.1L976.2 468.6L976.3 448.7L976.3 414.6L976.4 499.2L976.5 437.3L976.5 449.6L976.6 414.0L976.7 509.6L976.7 447.3L976.8 467.5L976.8 416.2L976.9 505.5L977.0 419.2L977.0 456.4L977.1 508.4L977.2 418.0L977.2 438.6L977.3 506.2L977.4 412.4L977.5 431.6L977.5 486.2L977.5 503.4L977.6 413.6L977.7 475.2L977.8 443.8L977.9 413.4L978.0 505.8L978.0 499.5L978.0 447.0L978.1 414.8L978.1 503.1L978.2 465.8L978.3 510.1L978.4 410.5L978.5 464.4L978.5 462.6L978.5 411.5L978.7 509.3L978.7 433.6L978.8 469.3L978.9 414.2L979.0 505.7L979.0 498.0L979.0 469.6L979.1 515.8L979.2 403.4L979.2 424.6L979.3 478.1L979.3 506.3L979.3 410.4L979.5 496.2L979.5 460.2L979.6 509.9L979.6 412.3L979.7 478.1L979.8 456.1L979.9 501.9L979.9 412.6L980.0 469.4L980.0 449.5L980.1 505.8L980.1 416.3L980.2 478.4L980.3 445.8L980.4 414.0L980.4 511.6L980.5 442.8L980.5 450.4L980.6 503.8L980.6 402.5L980.7 479.4L980.8 459.8L980.9 508.5L981.0 410.5L981.0 466.7L981.0 471.8L981.1 500.1L981.1 413.8L981.2 452.9L981.3 425.1L981.3 505.4L981.4 413.3L981.5 474.9L981.5 477.5L981.6 504.4L981.6 390.6L981.7 462.3L981.8 481.3L981.8 511.1L981.9 417.0L982.0 457.6L982.0 464.9L982.1 505.1L982.2 408.6L982.2 487.0L982.3 498.3L982.3 406.4L982.4 507.5L982.5 468.8L982.5 480.8L982.5 404.3L982.6 504.3L982.7 469.8L982.8 450.1L982.8 409.6L982.8 506.0L983.0 425.0L983.0 482.4L983.0 517.9L983.2 409.6L983.2 437.0L983.3 420.1L983.3 409.3L983.3 506.8L983.5 493.6L983.5 485.8L983.7 504.8L983.7 415.3L983.7 487.3L983.8 452.9L983.8 407.9L983.9 503.5L984.0 459.6L984.0 466.2L984.2 413.9L984.2 517.1L984.2 436.8L984.3 483.8L984.4 420.3L984.4 506.4L984.5 466.7L984.5 512.0L984.6 417.0L984.7 462.1L984.8 462.6L984.9 512.9L984.9 415.0L985.0 503.3L985.0 456.0L985.1 388.1L985.2 507.2L985.3 489.9L985.4 416.3L985.5 511.7L985.5 476.8L985.5 434.1L985.7 407.2L985.7 511.5L985.7 489.3L985.8 471.5L985.8 507.0L985.9 418.7L986.0 482.6L986.0 482.5L986.0 516.4L986.2 417.1L986.2 511.3L986.3 494.8L986.3 413.9L986.5 506.0L986.5 504.0L986.5 508.0L986.7 411.8L986.7 467.3L986.8 473.1L987.0 507.0L987.0 417.7L987.0 466.3L987.0 436.6L987.0 508.1L987.0 409.8L987.2 432.3L987.3 477.6L987.3 406.7L987.3 504.5L987.5 456.2L987.5 481.6L987.7 509.3L987.7 414.0L987.7 428.1L987.8 458.7L987.9 511.3L987.9 407.5L988.0 498.2L988.0 461.5L988.1 502.9L988.2 410.4L988.2 443.9L988.3 491.2L988.3 506.7L988.5 414.1L988.5 477.7L988.5 471.2L988.5 504.4L988.6 412.7L988.7 460.3L988.8 481.7L988.8 420.1L988.9 497.2L989.0 453.7L989.0 483.0L989.1 504.9L989.2 416.3L989.2 424.7L989.3 447.8L989.3 413.7L989.3 505.8L989.5 442.0L989.5 423.0L989.6 399.0L989.6 518.8L989.7 465.1L989.8 445.4L989.8 514.4L989.8 404.6L990.0 470.6L990.0 462.3L990.2 414.9L990.2 506.2L990.2 441.1L990.3 461.1L990.4 416.7L990.5 508.1L990.5 473.4L990.5 450.7L990.6 418.4L990.7 508.2L990.7 443.8L990.8 464.7L990.8 508.0L990.8 411.2L991.0 463.3L991.0 491.1L991.1 419.8L991.2 512.4L991.2 492.3L991.3 457.0L991.4 505.4L991.4 387.8L991.5 474.0L991.5 427.9L991.5 505.3L991.6 414.8L991.7 476.2L991.8 467.9L991.8 504.8L991.8 413.6L991.8 446.0"/>
<path stroke="#dda0dd" stroke-opacity="0.7" d="M275.5 377.6L319.7 382.4L353.9 453.5L381.9 483.5L405.5 442.3L426.0 481.0L444.1 498.4L460.2 472.2L474.8 513.4L488.2 529.6L500.5 520.9L511.8 567.0L522.4 568.3L532.3 549.0L541.6 532.1L550.4 500.9L558.7 558.3L566.5 540.8L574.0 587.0L581.2 577.5L588.0 567.0L594.5 578.5L600.8 563.0L606.8 548.0L612.6 532.4L618.2 535.5L623.5 563.0L628.7 576.0L633.8 583.5L638.6 576.6L643.4 570.4L647.9 554.8L652.4 548.0L656.7 542.4L660.9 541.7L665.0 576.6L669.0 553.6L672.9 528.0L676.7 558.6L680.4 556.7L684.0 553.6L687.5 567.3L690.9 573.5L694.3 575.4L697.6 565.4L700.8 578.5L704.0 567.3L707.1 557.9L710.1 596.0L713.1 596.6L716.0 553.0L718.9 557.3L721.7 557.9L724.5 582.9L727.2 583.5L729.9 578.5L732.5 571.0L735.1 568.5L737.6 551.7L740.1 553.0L742.5 550.5L745.0 587.2L747.3 567.3L749.7 546.1L752.0 554.8L754.3 554.8L756.5 579.8L758.7 588.5L760.9 582.3L763.0 593.5L765.1 587.2L767.2 577.3L769.3 569.2L771.3 584.1L773.3 577.3L775.3 579.8L777.3 583.5L779.2 587.9L781.1 567.3L783.0 569.8L784.8 569.8L786.7 589.7L788.5 588.5L790.3 587.2L792.1 560.4L793.8 606.0L795.5 569.3L797.3 579.9L799.0 586.9L800.6 567.2L802.3 563.9L803.9 577.2L805.6 550.5L807.2 582.5L808.7 574.2L810.3 573.2L811.9 548.8L813.4 578.1L814.9 571.9L816.5 538.8L818.0 587.5L819.4 584.8L820.9 570.4L822.4 577.2L823.8 606.8L825.2 576.8L826.6 605.7L828.0 569.3L829.4 575.0L830.8 580.8L832.2 572.3L833.5 582.8L834.9 597.4L836.2 561.5L837.5 590.8L838.8 589.8L840.1 581.0L841.4 596.4L842.7 568.7L843.9 590.1L845.2 590.5L846.4 607.9L847.6 574.2L848.9 573.9L850.1 566.5L851.3 569.8L852.5 605.2L853.7 586.2L854.8 539.4L856.0 600.0L857.2 592.5L858.3 562.6L859.5 587.5L860.6 620.7L861.7 582.3L862.8 588.7L863.9 565.9L865.0 554.9L866.1 573.7L867.2 598.9L868.3 604.1L869.4 588.9L870.4 571.1L871.5 545.5L872.5 589.1L873.6 556.9L874.6 570.8L875.6 576.4L876.6 590.0L877.6 596.3L878.7 576.0L879.7 576.6L880.6 564.8L881.6 588.7L882.6 609.6L883.6 568.9L884.6 561.0L885.5 599.5L886.5 590.3L887.4 597.5L888.4 612.9L889.3 565.2L890.2 557.7L891.2 565.6L892.1 588.8L893.0 602.6L893.9 568.2L894.8 595.9L895.7 607.4L896.6 600.0L897.5 599.3L898.4 595.6L899.3 566.2L900.1 589.8L901.0 571.4L901.9 581.8L902.7 582.0L903.6 593.5L904.4 572.2L905.3 559.9L906.1 600.2L907.0 593.0L907.8 592.8L908.6 569.5L909.4 573.8L910.3 581.8L911.1 557.4L911.9 556.0L912.7 592.1L913.5 546.6L914.3 588.8L915.1 564.2L915.9 598.5L916.6 592.0L917.4 564.2L918.2 593.0L919.0 562.1L919.7 594.1L920.5 579.8L921.3 569.8L922.0 582.9L922.8 570.3L923.5 583.6L924.3 570.9L925.0 604.6L925.8 579.1L926.5 571.7L927.2 564.9L928.0 585.5L928.7 576.2L929.4 595.7L930.1 577.6L930.8 575.2L931.6 575.8L932.3 569.8L933.0 600.6L933.7 600.9L934.4 601.1L935.1 608.5L935.8 571.6L936.4 570.4L937.1 593.4L937.8 571.4L938.5 599.8L939.2 576.2L939.8 542.2L940.5 598.6L941.2 582.6L941.8 556.6L942.5 559.0L943.2 575.0L943.8 603.5L944.5 558.2L945.1 598.2L945.8 597.0L946.4 586.1L947.1 570.6L947.7 576.3L948.3 583.8L949.0 562.1L949.6 582.2L950.2 573.3L950.9 578.5L951.5 569.8L952.1 560.1L952.7 563.8L953.4 592.7L954.0 552.1L954.6 622.3L955.2 611.7L955.8 558.5L956.4 558.4L957.0 565.9L957.6 611.3L958.2 561.4L958.8 577.2L959.4 581.7L960.0 572.7L960.6 577.4L961.2 561.2L961.7 549.9L962.3 559.1L962.9 600.4L963.5 609.6L964.1 597.3L964.6 600.8L965.2 588.9L965.8 598.9L966.3 586.8L966.9 584.5L967.5 596.0L968.0 595.1L968.6 569.4L969.2 581.6L969.7 586.9L970.3 569.2L970.8 590.3L971.4 596.3L971.9 571.8L972.4 590.8L973.0 562.8L973.5 546.0L974.1 570.7L974.6 572.7L975.1 581.2L975.7 595.4L976.2 581.0L976.7 596.9L977.3 597.7L977.8 605.7L978.3 596.8L978.8 561.5L979.4 601.6L979.9 591.3L980.4 585.0L980.9 597.5L981.4 576.8L981.9 607.1L982.5 566.4L983.0 625.1L983.5 558.8L984.0 593.9L984.5 565.1L985.0 608.5L985.5 588.0L986.0 564.1L986.5 598.4L987.0 584.2L987.5 570.3L988.0 582.6L988.4 596.8L988.9 554.9L989.4 602.6L989.9 583.2L990.4 561.9L990.9 577.1L991.4 583.7L991.8 586.8L992.3 572.0L992.8 540.5L993.3 611.3L993.7 553.7L994.2 590.5L994.7 576.4L995.2 550.7L995.6 603.6L996.1 599.7L996.6 574.1L997.0 592.4L997.5 596.9L997.9 603.0L998.4 602.9L998.9 531.1L999.3 529.8L999.8 609.6L1000.2 597.4L1000.7 573.9L1001.1 595.1L1001.6 589.8L1002.0 597.0L1002.5 604.3L1002.9 605.2L1003.4 552.7L1003.8 605.9L1004.3 604.5L1004.7 613.5L1005.1 597.8L1005.6 565.5L1006.0 553.4L1006.5 597.6L1006.9 551.0L1007.3 570.8L1007.8 553.7L1008.2 566.8L1008.6 549.6L1009.1 554.0L1009.5 549.5L1009.9 597.5L1010.3 585.8L1010.8 598.3L1011.2 596.6L1011.6 598.2L1012.0 568.4L1012.4 618.3L1012.9 613.1L1013.3 570.4L1013.7 605.4L1014.1 566.8L1014.5 595.5L1014.9 615.9L1015.3 605.9L1015.8 553.8L1016.2 617.8L1016.6 594.6L1017.0 595.8L1017.4 560.2L1017.8 555.5L1018.2 581.4L1018.6 601.5L1019.0 572.0L1019.4 587.1L1019.8 579.1L1020.2 588.9L1020.6 592.7L1021.0 582.6L1021.4 601.8L1021.8 611.6L1022.2 614.1L1022.6 592.0L1023.0 568.4L1023.4 619.3L1023.8 567.1L1024.1 593.1L1024.5 567.8L1024.9 562.8L1025.3 582.6L1025.7 584.3L1026.1 588.0L1026.5 592.8L1026.8 560.6L1027.2 608.3L1027.6 582.8L1028.0 578.4L1028.4 585.1L1028.7 567.4L1029.1 595.8L1029.5 578.5L1029.9 569.1L1030.2 585.5L1030.6 592.4L1031.0 594.4L1031.3 583.2L1031.7 608.1L1032.1 558.7L1032.5 587.4L1032.8 550.7L1033.2 553.6L1033.6 588.0L1033.9 599.5L1034.3 562.7L1034.6 555.3L1035.0 581.1L1035.4 578.3L1035.7 574.3L1036.1 585.9L1036.4 613.4L1036.8 562.9L1037.2 596.7L1037.5 551.5L1037.9 582.1L1038.2 589.9L1038.6 576.2L1038.9 582.4L1039.3 610.0L1039.6 570.5L1040.0 564.8L1040.3 603.3L1040.7 584.6L1041.0 618.9L1041.4 604.9L1041.7 564.4L1042.1 575.1L1042.4 582.3L1042.8 557.5L1043.1 591.1L1043.5 565.4L1043.8 605.4L1044.1 579.6L1044.5 629.2L1044.8 606.2L1045.2 582.9L1045.5 587.4L1045.8 563.0L1046.2 603.7L1046.5 601.3L1046.8 517.7L1047.2 602.0L1047.5 583.3L1047.8 554.6L1048.2 561.5L1048.5 575.4L1048.8 553.4L1049.2 562.7L1049.5 574.9L1049.8 606.5L1050.2 594.9L1050.5 593.3L1050.8 599.2L1051.1 581.0L1051.5 605.8L1051.8 594.9L1052.1 591.9L1052.4 570.2L1052.8 557.3L1053.1 606.6L1053.4 594.0L1053.7 558.8L1054.0 609.8L1054.4 565.2L1054.7 581.5L1055.0 536.4L1055.3 589.2L1055.6 584.1L1055.9 575.2L1056.3 597.4L1056.6 575.9L1056.9 594.2L1057.2 603.0L1057.5 594.5L1057.8 569.8L1058.1 599.5L1058.4 588.2L1058.8 561.2L1059.1 573.5L1059.4 577.6L1059.7 590.1L1060.0 616.4L1060.3 576.5L1060.6 602.2L1060.9 592.9L1061.2 578.3L1061.5 578.0L1061.8 574.6L1062.1 606.8L1062.4 570.0L1062.7 578.1L1063.0 588.8L1063.3 610.7L1063.6 618.1L1063.9 599.2L1064.2 557.6L1064.5 612.5L1064.8 577.4L1065.1 556.0L1065.4 587.4L1065.7 572.4L1066.0 596.5L1066.3 580.6L1066.6 616.0L1066.9 607.5L1067.2 606.0L1067.5 577.4L1067.8 611.4L1068.1 592.6L1068.4 601.1L1068.7 617.3L1068.9 547.2L1069.2 618.3L1069.5 546.8L1069.8 570.2L1070.1 594.7L1070.4 583.0L1070.7 543.9L1071.0 605.1L1071.2 587.4L1071.5 585.6L1071.8 576.5L1072.1 596.5L1072.4 613.9L1072.7 587.5L1073.0 579.5L1073.2 581.9L1073.5 606.7L1073.8 586.4L1074.1 588.2L1074.4 566.8L1074.6 608.0L1074.9 576.0L1075.2 574.6L1075.5 562.5L1075.8 584.9L1076.0 577.1L1076.3 609.3L1076.6 594.7L1076.9 619.3L1077.1 603.4L1077.4 590.3L1077.7 577.6L1078.0 563.5L1078.2 568.9L1078.5 582.9L1078.8 603.4L1079.0 556.9L1079.3 590.8L1079.6 596.2L1079.9 604.7L1080.1 563.0L1080.4 547.6L1080.7 601.5L1080.9 603.0L1081.2 585.1L1081.5 589.8L1081.7 599.5L1082.0 570.1L1082.3 583.0L1082.5 588.0L1082.8 606.3L1083.1 588.7L1083.3 617.9L1083.6 578.6L1083.9 602.0L1084.1 608.8L1084.4 579.4L1084.6 611.0L1084.9 587.3L1085.2 583.8L1085.4 581.9L1085.7 583.1L1085.9 597.6L1086.2 581.4L1086.5 603.5L1086.7 546.8L1087.0 555.8L1087.2 557.7L1087.5 609.0L1087.8 615.6L1088.0 579.0L1088.3 571.0L1088.5 591.1L1088.8 579.1L1089.0 579.2L1089.3 601.6L1089.5 592.1L1089.8 595.5L1090.0 576.0L1090.3 587.1L1090.5 527.7L1090.8 568.7L1091.1 616.5L1091.3 583.8L1091.6 592.3L1091.8 567.6L1092.1 588.4L1092.3 575.4L1092.5 589.5L1092.8 593.0L1093.0 568.3L1093.3 570.0L1093.5 617.3L1093.8 591.3L1094.0 595.0L1094.3 596.7L1094.5 599.7L1094.8 590.3L1095.0 601.8L1095.3 587.7L1095.5 580.2L1095.7 599.0L1096.0 585.2L1096.2 597.7L1096.5 579.6L1096.7 572.7L1097.0 604.7L1097.2 587.0L1097.4 591.5L1097.7 580.2L1097.9 591.1L1098.2 584.4L1098.4 610.7L1098.6 587.7L1098.9 571.9L1099.1 586.0L1099.4 584.1L1099.6 584.7L1099.8 604.1L1100.1 567.5L1100.3 566.3L1100.5 592.9L1100.8 566.4L1101.0 580.9L1101.2 617.6L1101.5 606.2L1101.7 601.1L1102.0 610.1L1102.2 616.6L1102.4 587.6L1102.7 615.2L1102.9 592.3L1103.1 570.7L1103.3 590.4L1103.6 583.3L1103.8 603.5L1104.0 588.1L1104.3 598.4L1104.5 602.9L1104.7 579.8L1105.0 619.1L1105.2 566.6L1105.4 586.4L1105.6 582.3L1105.9 579.4L1106.1 605.2L1106.3 618.9L1106.6 596.9L1106.8 615.6L1107.0 591.6L1107.2 568.1L1107.5 597.1L1107.7 617.2L1107.9 603.9L1108.1 621.6L1108.4 592.4L1108.6 595.2L1108.8 596.1L1109.0 593.4L1109.3 561.6L1109.5 569.6L1109.7 588.8L1109.9 577.9L1110.1 598.2L1110.4 587.3L1110.6 577.3L1110.8 589.1L1111.0 588.3L1111.3 571.7L1111.5 598.2L1111.7 607.1L1111.9 578.1L1112.1 575.7L1112.3 597.8L1112.6 582.5L1112.8 593.5L1113.0 566.3L1113.2 592.8L1113.4 537.6L1113.7 589.2L1113.9 606.9L1114.1 590.8L1114.3 574.1L1114.5 623.0L1114.7 583.6L1114.9 594.5L1115.2 587.7L1115.4 566.0L1115.6 595.3L1115.8 583.5L1116.0 597.0L1116.2 576.7L1116.4 579.3L1116.7 568.0L1116.9 577.6L1117.1 559.5L1117.3 570.4L1117.5 618.9L1117.7 583.9L1117.9 574.4L1118.1 570.7L1118.3 582.3L1118.6 571.5L1118.8 607.8L1119.0 607.6L1119.2 580.4L1119.4 570.4L1119.6 597.3L1119.8 597.9L1120.0 592.6L1120.2 599.7L1120.4 608.2L1120.6 580.3L1120.8 581.7L1121.1 604.4L1121.3 612.2L1121.5 594.5L1121.7 604.8L1121.9 559.0L1122.1 589.9L1122.3 593.5L1122.5 602.8L1122.7 618.6L1122.9 576.1L1123.1 599.8L1123.3 609.9L1123.5 567.5L1123.7 595.4L1123.9 585.9L1124.1 599.1L1124.3 599.1L1124.5 571.8L1124.7 563.6L1124.9 609.2L1125.1 582.9L1125.3 605.1L1125.5 571.6L1125.7 594.5L1125.9 603.8L1126.1 593.5L1126.3 601.3L1126.5 570.7L1126.7 610.6L1126.9 588.4L1127.1 590.2L1127.3 603.1L1127.5 599.8L1127.7 587.0L1127.9 540.1L1128.1 607.3L1128.3 560.6L1128.5 566.9L1128.7 583.0L1128.9 574.1L1129.1 573.7L1129.3 602.3L1129.5 601.6L1129.7 575.3L1129.9 588.0L1130.1 561.3L1130.3 605.6L1130.5 589.0L1130.7 569.5L1130.9 593.1L1131.0 586.8L1131.2 584.6L1131.4 617.4L1131.6 603.8L1131.8 584.0L1132.0 582.1L1132.2 595.1L1132.4 561.4L1132.6 593.6L1132.8 565.3L1133.0 594.3L1133.2 568.1L1133.3 579.7L1133.5 561.3L1133.7 599.3L1133.9 583.3L1134.1 599.7L1134.3 617.8L1134.5 565.1L1134.7 558.7L1134.9 586.3L1135.1 611.6L1135.2 559.6L1135.4 621.8L1135.6 617.9L1135.8 606.3L1136.0 601.0L1136.2 565.7L1136.4 562.8L1136.6 570.2L1136.7 573.0L1136.9 600.5L1137.1 586.7L1137.3 594.8L1137.5 613.3L1137.7 571.3L1137.9 593.7L1138.0 599.8L1138.2 606.5L1138.4 576.5L1138.6 586.1L1138.8 600.7L1139.0 590.9L1139.1 606.0L1139.3 575.4L1139.5 616.0L1139.7 607.1L1139.9 601.0L1140.1 595.6L1140.2 578.2L1140.4 597.8L1140.6 593.5L1140.8 613.2L1141.0 601.7L1141.1 590.2L1141.3 593.3L1141.5 608.7L1141.7 562.2L1141.9 601.5L1142.1 599.9L1142.2 564.3L1142.4 577.0L1142.6 584.3L1142.8 596.3L1142.9 616.4L1143.1 577.2L1143.3 568.9L1143.5 575.8L1143.7 570.5L1143.8 573.2L1144.0 568.5L1144.2 574.5L1144.4 556.0L1144.6 569.6L1144.7 608.4L1144.9 572.7L1145.1 595.8L1145.3 559.7L1145.4 597.6L1145.6 606.8L1145.8 559.1L1146.0 589.6L1146.1 581.1L1146.3 570.4L1146.5 578.0L1146.7 606.4L1146.8 560.2L1147.0 608.4L1147.2 597.2L1147.4 606.3L1147.5 568.1L1147.7 579.7L1147.9 553.8L1148.1 595.5L1148.2 588.1L1148.4 589.1L1148.6 605.4L1148.7 587.0L1148.9 597.2L1149.1 589.0L1149.3 597.6L1149.4 582.7L1149.6 559.1L1149.8 595.3L1149.9 581.1L1150.1 567.5L1150.3 567.1L1150.5 595.2L1150.6 610.5L1150.8 621.7L1151.0 587.4L1151.1 571.8L1151.3 589.6L1151.5 589.9L1151.6 577.1L1151.8 569.3L1152.0 608.4L1152.2 595.7L1152.3 588.7L1152.5 602.3L1152.7 604.0L1152.8 620.5L1153.0 578.2L1153.2 602.8L1153.3 581.5L1153.5 603.9L1153.7 611.6L1153.8 616.0L1154.0 636.8L1154.2 580.5L1154.3 587.9L1154.5 593.4L1154.7 583.6L1154.8 585.0L1155.0 581.5L1155.2 595.7L1155.3 572.6L1155.5 573.0L1155.7 571.4L1155.8 569.8L1156.0 589.8L1156.1 570.9L1156.3 580.1L1156.5 617.7L1156.6 598.4L1156.8 578.4L1157.0 559.2L1157.1 610.9L1157.3 602.7L1157.5 572.3L1157.6 591.5L1157.8 608.0L1157.9 568.7L1158.1 575.4L1158.3 591.4L1158.4 578.3L1158.6 594.7L1158.8 584.7L1158.9 596.0L1159.1 588.3L1159.2 581.4L1159.4 549.1L1159.6 586.8L1159.7 564.9L1159.9 620.9L1160.0 554.7L1160.2 594.8L1160.4 575.4L1160.5 584.0L1160.7 600.3L1160.8 616.2L1161.0 612.5L1161.2 591.0L1161.3 599.5L1161.5 598.2L1161.6 574.6L1161.8 569.1L1161.9 589.0L1162.1 576.7L1162.3 622.0L1162.4 597.6L1162.6 609.6L1162.7 601.7L1162.9 594.8L1163.1 594.3L1163.2 595.0L1163.4 538.1L1163.5 554.7L1163.7 579.6L1163.8 577.9L1164.0 636.8L1164.1 596.1L1164.3 619.8L1164.5 592.9L1164.6 604.5L1164.8 576.5L1164.9 597.7L1165.1 568.1L1165.2 593.5L1165.4 580.9L1165.5 599.4L1165.7 576.5L1165.9 594.4L1166.0 606.8L1166.2 577.3L1166.3 580.0L1166.5 589.5L1166.6 585.2L1166.8 611.6L1166.9 560.5L1167.1 602.9L1167.2 589.2L1167.4 595.4L1167.5 572.1L1167.7 620.5L1167.8 594.7L1168.0 570.5L1168.1 567.0L1168.3 615.9L1168.5 584.0L1168.6 605.1L1168.8 592.3L1168.9 569.8L1169.1 558.0L1169.2 594.6L1169.4 599.3L1169.5 589.2L1169.7 617.4L1169.8 593.6L1170.0 608.1L1170.1 621.7L1170.3 573.9L1170.4 601.4L1170.6 559.5L1170.7 574.4L1170.9 619.8L1171.0 593.4L1171.2 587.0L1171.3 607.5L1171.5 593.7L1171.6 575.1L1171.7 601.8L1171.9 566.4L1172.0 585.1L1172.2 591.6L1172.3 616.5L1172.5 591.7L1172.6 578.4L1172.8 577.1L1172.9 601.9L1173.1 594.9L1173.2 601.9L1173.4 602.4L1173.5 544.3L1173.7 563.3L1173.8 619.5L1174.0 598.4L1174.1 578.9L1174.3 565.7L1174.4 617.6L1174.5 593.9L1174.7 623.3L1174.8 568.4L1175.0 630.8L1175.1 606.0L1175.3 585.5L1175.4 612.0L1175.6 582.6L1175.7 601.1L1175.8 555.5L1176.0 596.2L1176.1 598.0L1176.3 586.1L1176.4 602.6L1176.6 547.6L1176.7 569.5L1176.9 554.9L1177.0 583.2L1177.1 582.6L1177.3 601.9L1177.4 620.9L1177.6 599.8L1177.7 594.8L1177.9 569.3L1178.0 595.6L1178.1 578.2L1178.3 564.1L1178.4 585.8L1178.6 567.2L1178.7 621.4L1178.9 601.2L1179.0 591.3L1179.1 579.0L1179.3 599.8L1179.4 560.0L1179.6 591.0L1179.7 567.7L1179.8 607.4L1180.0 584.6L1180.1 576.9L1180.3 571.1L1180.4 582.7L1180.5 589.8L1180.7 622.3L1180.8 612.3L1181.0 596.5L1181.1 580.6L1181.2 609.0L1181.4 575.3L1181.5 581.3L1181.7 588.3L1181.8 570.6L1181.9 622.0L1182.1 563.3L1182.2 589.6L1182.4 605.6L1182.5 596.3L1182.6 598.6L1182.8 585.3L1182.9 599.5L1183.0 591.8L1183.2 590.9L1183.3 600.4L1183.5 582.4L1183.6 602.4L1183.7 571.4L1183.9 623.4L1184.0 550.1L1184.1 598.1L1184.3 574.1L1184.4 575.0L1184.6 560.7L1184.7 560.5L1184.8 564.8L1185.0 601.4L1185.1 596.1L1185.2 600.4L1185.4 594.4L1185.5 565.5L1185.6 586.7L1185.8 606.6L1185.9 592.9L1186.0 595.5L1186.2 609.8L1186.3 596.8L1186.5 612.7L1186.6 600.6L1186.7 597.9L1186.9 623.2L1187.0 614.1L1187.1 586.2L1187.3 606.1L1187.4 583.0L1187.5 583.6L1187.7 605.3L1187.8 628.1L1187.9 588.2L1188.1 576.9L1188.2 585.4L1188.3 550.5L1188.5 604.2L1188.6 611.1L1188.7 575.2L1188.9 587.5L1189.0 575.8L1189.1 558.1L1189.3 601.5L1189.4 612.9L1189.5 589.9L1189.7 600.8L1189.8 565.6L1189.9 552.9L1190.0 558.4L1190.2 572.9L1190.3 583.6L1190.4 556.6L1190.6 551.0L1190.7 585.4L1190.8 593.8L1191.0 595.6L1191.1 589.5L1191.2 620.7L1191.4 584.7L1191.5 585.4L1191.6 582.3L1191.7 558.4L1191.9 598.3L1192.0 576.9L1192.1 591.6L1192.3 626.8L1192.4 596.8L1192.5 596.7L1192.7 615.4L1192.8 602.8L1192.9 597.2L1193.0 602.1L1193.2 608.4L1193.3 619.1L1193.4 573.5L1193.6 581.1L1193.7 578.4L1193.8 607.8L1193.9 604.7L1194.1 581.3L1194.2 613.5L1194.3 616.8L1194.5 614.3L1194.6 584.6L1194.7 584.5L1194.8 606.6L1195.0 552.4L1195.1 571.8L1195.2 572.1L1195.4 547.6L1195.5 567.6L1195.6 616.8L1195.7 587.2L1195.9 595.4L1196.0 600.3L1196.1 594.9L1196.2 624.8L1196.4 608.9L1196.5 592.5L1196.6 599.6L1196.7 589.7L1196.9 556.7L1197.0 593.9L1197.1 595.7L1197.2 592.3L1197.4 601.6L1197.5 592.6L1197.6 589.8L1197.8 592.9L1197.9 582.3L1198.0 599.5L1198.1 570.9L1198.3 620.2L1198.4 581.6L1198.5 567.5L1198.7 557.6L1198.9 587.8L1199.0 588.3L1199.1 587.1L1199.2 579.7L1199.4 605.5L1199.5 586.0L1199.6 560.0L1199.7 608.1L1199.9 568.7L1200.0 595.9L1200.1 582.4L1200.2 576.2L1200.4 595.5L1200.5 591.0L1200.6 619.2L1200.7 604.9L1200.8 596.4L1201.0 589.0L1201.1 600.2L1201.2 627.8L1201.3 572.8L1201.5 611.3L1201.6 619.2L1201.7 590.0L1201.8 628.1L1202.0 580.5L1202.1 554.3L1202.2 564.1L1202.3 572.0L1202.4 602.5L1202.6 558.4L1202.7 591.0L1202.8 603.3L1202.9 610.3L1203.0 578.4L1203.2 579.1L1203.3 607.7L1203.4 587.5L1203.5 624.2L1203.6 543.8L1203.8 605.2L1203.9 556.1L1204.0 612.1L1204.2 622.2L1204.4 564.9L1204.5 569.0L1204.6 593.4L1204.7 589.4L1204.8 600.5L1205.0 610.9L1205.1 576.6L1205.2 567.5L1205.3 589.9L1205.4 624.8L1205.6 592.4L1205.7 540.4L1205.8 587.4L1205.9 588.0L1206.0 600.3L1206.2 596.1L1206.3 583.3L1206.4 555.5L1206.5 567.7L1206.6 602.5L1206.7 577.3L1206.9 615.1L1207.0 615.3L1207.1 578.3L1207.2 619.2L1207.3 599.2L1207.5 610.7L1207.6 554.9L1207.7 553.3L1207.8 559.1L1207.9 609.6L1208.0 588.5L1208.2 578.0L1208.3 586.9L1208.4 593.1L1208.5 614.5L1208.7 565.5L1208.9 602.9L1209.0 586.6L1209.1 617.0L1209.2 582.8L1209.3 587.9L1209.4 614.3L1209.6 569.0L1209.7 580.2L1209.8 582.1L1209.9 600.0L1210.0 621.2L1210.1 612.5L1210.3 607.9L1210.4 571.0L1210.5 622.7L1210.6 612.0L1210.7 607.2L1210.8 578.5L1210.9 619.7L1211.1 583.6L1211.2 541.3L1211.3 621.2L1211.4 556.9L1211.5 610.2L1211.6 592.1L1211.7 601.8L1211.9 581.6L1212.0 574.3L1212.1 590.7L1212.2 592.0L1212.3 614.7L1212.4 633.0L1212.5 587.9L1212.7 607.8L1212.8 605.7L1212.9 579.8L1213.0 623.0L1213.1 573.2L1213.2 604.7L1213.3 560.3L1213.4 594.6L1213.6 582.2L1213.7 623.5L1213.8 613.9L1213.9 595.5L1214.0 583.0L1214.1 567.9L1214.2 588.8L1214.3 581.4L1214.5 583.6L1214.6 577.4L1214.7 576.1L1214.8 610.6L1214.9 588.1L1215.0 618.9L1215.2 567.1L1215.4 578.1L1215.5 585.5L1215.6 561.3L1215.7 632.3L1215.8 590.5L1215.9 556.7L1216.0 629.5L1216.2 567.8L1216.4 614.8L1216.5 560.9L1216.6 597.3L1216.7 630.4L1216.8 609.0L1216.9 609.1L1217.0 585.8L1217.1 570.4L1217.2 572.1L1217.4 572.1L1217.5 601.2L1217.6 631.4L1217.7 585.6L1217.8 580.2L1217.9 582.1L1218.0 570.8L1218.2 580.3L1218.3 564.7L1218.5 588.6L1218.6 608.8L1218.7 589.4L1218.8 568.9L1218.9 591.1L1219.0 585.0L1219.1 579.6L1219.2 624.1L1219.3 589.0L1219.4 621.2L1219.5 604.6L1219.7 574.7L1219.8 565.3L1219.9 612.0L1220.0 586.9L1220.1 622.4L1220.2 577.6L1220.3 605.8L1220.4 610.2L1220.5 606.0L1220.6 558.1L1220.7 609.1L1220.8 592.8L1220.9 602.7L1221.1 584.5L1221.2 567.9L1221.3 621.2L1221.4 580.6L1221.5 635.0L1221.6 562.3L1221.7 602.9L1221.8 579.0L1221.9 615.5L1222.0 612.5L1222.1 591.8L1222.2 605.3L1222.3 608.2L1222.4 590.8L1222.6 589.9L1222.7 550.3L1222.8 616.9L1222.9 559.3L1223.0 580.7L1223.1 603.7L1223.2 580.1L1223.3 589.4L1223.4 539.3L1223.5 598.3L1223.6 575.7L1223.7 599.6L1223.8 612.5L1223.9 581.0L1224.0 604.3L1224.1 571.6L1224.2 590.9L1224.4 557.6L1224.5 590.8L1224.6 620.6L1224.7 578.3L1224.8 633.0L1224.9 545.1L1225.0 576.1L1225.1 586.6L1225.2 630.1L1225.3 616.5L1225.4 554.9L1225.5 586.2L1225.6 601.0L1225.7 551.7L1225.8 565.3L1225.9 601.3L1226.0 585.8L1226.1 583.3L1226.2 605.0L1226.3 589.5L1226.4 586.8L1226.6 575.5L1226.7 627.1L1226.8 572.2L1227.0 615.4L1227.1 568.0L1227.2 600.5L1227.3 565.9L1227.5 613.6L1227.6 584.7L1227.7 560.5L1227.8 613.9L1227.9 598.8L1228.0 625.2L1228.1 606.2L1228.2 584.6L1228.3 576.5L1228.4 566.2L1228.5 590.6L1228.6 600.1L1228.7 577.8L1228.8 605.6L1228.9 608.3L1229.0 570.4L1229.1 611.7L1229.2 595.6L1229.3 549.1L1229.4 551.6L1229.5 617.8L1229.7 584.0L1229.8 575.3L1229.9 601.7L1230.0 618.4L1230.2 573.5L1230.3 591.2L1230.4 565.6L1230.5 571.1L1230.6 626.7L1230.7 601.7L1230.8 605.6L1230.9 620.3L1231.0 625.7L1231.2 597.0L1231.3 570.5L1231.5 592.1L1231.6 628.0L1231.7 586.9L1231.8 613.2L1231.9 538.8L1232.0 613.6L1232.1 582.3L1232.2 594.8L1232.3 607.1L1232.4 636.7L1232.5 621.3L1232.6 605.6L1232.7 595.1L1232.8 634.8L1233.0 577.2L1233.1 586.0L1233.2 605.0L1233.3 591.1L1233.4 574.7L1233.4 594.6L1233.5 605.3L1233.6 610.1L1233.7 591.1L1233.8 592.4L1233.9 556.9L1234.0 591.0L1234.1 579.8L1234.2 626.2L1234.3 557.8L1234.4 601.3L1234.5 631.6L1234.7 573.3L1234.8 605.4L1234.9 545.6L1235.0 557.9L1235.1 594.2L1235.2 573.6L1235.3 634.7L1235.4 603.8L1235.5 580.0L1235.6 627.2L1235.7 621.9L1235.8 615.2L1235.9 572.1L1236.0 617.7L1236.2 591.9L1236.3 591.7L1236.4 586.9L1236.5 596.7L1236.6 551.1L1236.7 592.1L1236.8 623.2L1236.9 572.3L1237.0 612.3L1237.1 617.8L1237.2 615.9L1237.3 594.2L1237.5 551.7L1237.6 590.5L1237.7 575.8L1237.8 587.4L1237.9 578.2L1237.9 583.3L1238.0 593.1L1238.1 636.0L1238.2 586.2L1238.3 623.1L1238.4 608.1L1238.5 610.5L1238.6 636.2L1238.7 565.9L1238.8 582.7L1238.9 605.3L1239.0 568.1L1239.1 607.3L1239.2 563.1L1239.3 569.1L1239.4 630.8L1239.5 573.8L1239.6 606.6L1239.7 584.5L1239.8 591.5L1239.9 567.3L1240.0 596.6L1240.1 597.0L1240.1 602.2L1240.2 569.6L1240.3 603.9L1240.4 584.4L1240.5 575.2L1240.7 612.2L1240.8 572.0L1240.9 621.8L1241.0 588.8L1241.2 576.0L1241.3 596.4L1241.4 553.2L1241.5 589.7L1241.6 574.2L1241.7 591.7L1241.8 620.7L1241.8 563.4L1241.9 635.8L1242.0 621.8L1242.2 590.2L1242.3 590.0L1242.4 562.0L1242.5 580.8L1242.6 571.6L1242.7 635.1L1242.8 591.0L1242.9 627.1L1243.0 585.9L1243.1 635.6L1243.2 589.7L1243.3 625.5L1243.4 590.2L1243.5 618.7L1243.6 571.6L1243.7 626.9L1243.8 604.5L1243.9 624.4L1244.0 622.3L1244.1 606.6L1244.2 622.8L1244.3 595.2L1244.5 584.4L1244.5 608.5L1244.6 585.7L1244.7 599.9L1244.8 555.6L1244.9 607.4L1245.0 638.0L1245.1 589.4L1245.2 608.1L1245.3 556.5L1245.5 608.8L1245.6 613.9L1245.7 628.9L1245.7 617.9L1245.8 559.7L1245.9 608.6L1246.0 610.2L1246.1 584.2L1246.2 608.0L1246.3 594.4L1246.4 612.3L1246.5 594.9L1246.6 585.0L1246.7 564.6L1246.7 588.0L1246.8 614.4L1246.9 592.2L1247.0 610.2L1247.2 574.3L1247.3 623.3L1247.5 576.4L1247.6 597.9L1247.7 589.2L1247.7 609.7L1247.8 561.7L1247.9 626.7L1248.0 607.0L1248.1 588.0L1248.2 608.0L1248.3 588.2L1248.4 612.9L1248.5 606.5L1248.6 614.1L1248.6 564.6L1248.7 630.2L1248.8 558.3L1248.9 594.8L1249.0 592.8L1249.2 621.8L1249.3 578.9L1249.5 623.1L1249.5 604.6L1249.6 568.0L1249.7 613.3L1249.8 576.8L1249.9 596.7L1250.0 570.4L1250.1 565.9L1250.2 568.3L1250.3 634.3L1250.3 566.8L1250.4 603.8L1250.5 625.8L1250.6 634.7L1250.7 625.1L1250.8 625.4L1250.9 578.4L1251.0 626.2L1251.1 587.5L1251.2 604.9L1251.3 581.8L1251.5 603.6L1251.6 598.8L1251.7 602.3L1251.8 606.9L1251.8 574.8L1251.9 612.4L1252.0 601.6L1252.2 576.0L1252.3 640.5L1252.5 568.6L1252.5 633.6L1252.6 570.0L1252.7 588.6L1252.8 586.8L1252.9 567.8L1253.0 601.8L1253.1 628.5L1253.2 617.6L1253.2 633.3L1253.3 632.4L1253.4 564.2L1253.5 606.2L1253.6 611.1L1253.7 562.6L1253.8 596.0L1253.9 616.1L1253.9 577.3L1254.0 602.8L1254.1 569.2L1254.2 595.9L1254.3 585.6L1254.4 559.1L1254.5 593.0L1254.6 605.4L1254.6 634.3L1254.7 598.4L1254.8 572.5L1254.9 606.2L1255.0 555.9L1255.1 613.9L1255.2 609.2L1255.2 627.8L1255.3 601.5L1255.4 600.2L1255.5 608.4L1255.6 631.3L1255.7 604.2L1255.8 596.4L1255.8 618.7L1255.9 604.7L1256.0 551.3L1256.1 577.8L1256.2 573.7L1256.3 581.2L1256.4 615.1L1256.4 598.2L1256.5 564.4L1256.6 591.3L1256.7 572.7L1256.8 598.7L1256.9 602.1L1257.0 574.1L1257.0 577.3L1257.2 615.9L1257.3 584.9L1257.4 564.0L1257.5 613.4L1257.5 595.6L1257.6 574.2L1257.7 589.9L1257.8 632.4L1258.0 601.3L1258.1 630.7L1258.2 595.5L1258.3 583.0L1258.5 640.6L1258.6 614.1L1258.6 610.5L1258.7 612.0L1258.8 596.9L1258.9 613.3L1259.0 594.2L1259.1 632.4L1259.2 567.3L1259.3 584.9L1259.4 585.0L1259.5 572.6L1259.6 583.4L1259.7 609.0L1259.8 610.0L1259.9 593.9L1260.0 622.4L1260.1 599.8L1260.2 631.5L1260.3 576.7L1260.4 600.5L1260.5 590.2L1260.6 606.7L1260.7 621.9L1260.8 591.2L1260.9 577.2L1261.0 638.0L1261.1 594.3L1261.2 633.7L1261.2 611.2L1261.3 591.5L1261.4 574.1L1261.5 605.5L1261.6 612.6L1261.6 636.6L1261.7 590.4L1261.8 569.1L1261.9 552.9L1262.0 621.2L1262.1 585.6L1262.1 611.4L1262.2 574.1L1262.3 604.7L1262.4 564.1L1262.5 619.6L1262.6 573.4L1262.7 633.7L1262.8 590.5L1262.9 629.1L1263.0 558.8L1263.0 575.9L1263.2 586.2L1263.3 556.3L1263.5 587.6L1263.5 609.5L1263.6 580.4L1263.7 618.7L1263.8 581.8L1263.9 576.1L1263.9 594.7L1264.0 562.3L1264.2 623.2L1264.3 587.8L1264.3 617.8L1264.4 594.1L1264.5 594.7L1264.6 594.4L1264.7 603.5L1264.8 557.6L1265.0 619.3L1265.1 556.5L1265.2 619.7L1265.3 606.4L1265.5 570.3L1265.6 567.2L1265.6 589.5L1265.7 559.2L1265.8 604.0L1265.9 618.9L1266.0 609.7L1266.0 628.9L1266.1 550.5L1266.2 578.5L1266.3 613.3L1266.4 597.9L1266.4 604.4L1266.5 598.0L1266.6 550.0L1266.7 589.3L1266.8 620.8L1266.8 572.3L1266.9 594.1L1267.0 603.7L1267.2 572.0L1267.2 590.4L1267.3 570.3L1267.5 600.7L1267.6 614.0L1267.6 589.1L1267.7 618.7L1267.8 588.3L1267.9 612.8L1268.0 548.5L1268.0 604.9L1268.1 548.1L1268.2 591.1L1268.3 613.2L1268.4 621.3L1268.4 571.9L1268.5 580.2L1268.6 589.3L1268.7 570.3L1268.8 563.4L1268.9 589.9L1269.0 574.0L1269.1 563.2L1269.2 611.3L1269.3 608.2L1269.4 595.1L1269.5 638.7L1269.5 608.0L1269.6 597.4L1269.7 613.2L1269.8 575.1L1269.8 596.1L1269.9 583.4L1270.0 600.5L1270.2 564.4L1270.2 592.5L1270.3 576.5L1270.4 581.3L1270.5 570.0L1270.5 636.4L1270.6 554.5L1270.7 569.3L1270.8 602.0L1270.9 621.5L1270.9 584.4L1271.0 615.4L1271.1 634.7L1271.2 594.9L1271.2 606.1L1271.3 604.7L1271.4 570.7L1271.5 600.0L1271.6 582.9L1271.7 587.5L1271.8 616.2L1271.9 555.3L1272.0 612.8L1272.1 623.4L1272.2 606.4L1272.3 579.1L1272.3 612.3L1272.4 558.0L1272.5 584.3L1272.6 601.8L1272.7 573.5L1272.8 585.5L1272.9 601.2L1272.9 564.2L1273.0 571.8L1273.1 604.1L1273.2 585.4L1273.3 611.1L1273.3 603.8L1273.5 628.6L1273.6 607.7L1273.6 631.0L1273.7 608.1L1273.8 572.0L1273.9 632.7L1273.9 589.5L1274.0 625.9L1274.2 590.4L1274.2 619.1L1274.3 593.0L1274.4 609.3L1274.5 563.8L1274.5 603.3L1274.6 567.9L1274.7 587.1L1274.8 530.1L1274.9 601.9L1274.9 596.3L1275.0 609.7L1275.1 582.5L1275.2 585.6L1275.3 555.2L1275.5 629.4L1275.5 620.6L1275.6 627.5L1275.7 626.9L1275.8 607.0L1275.9 583.1L1276.0 613.4L1276.1 596.1L1276.1 564.0L1276.2 592.6L1276.3 595.1L1276.4 586.5L1276.5 617.0L1276.7 565.5L1276.7 602.6L1276.8 570.2L1277.0 580.0L1277.0 621.8L1277.1 599.2L1277.2 628.4L1277.3 554.8L1277.4 608.9L1277.5 571.7L1277.6 628.2L1277.6 599.8L1277.7 635.0L1277.8 599.8L1277.9 575.0L1277.9 633.3L1278.0 605.6L1278.1 615.0L1278.2 567.2L1278.3 596.2L1278.4 585.6L1278.4 611.8L1278.5 554.7L1278.6 630.7L1278.7 619.0L1278.8 613.2L1278.9 589.1L1279.0 594.7L1279.0 605.8L1279.2 556.6L1279.3 638.0L1279.4 578.4L1279.5 631.9L1279.5 604.3L1279.6 619.3L1279.7 604.8L1279.8 580.8L1279.8 624.7L1280.0 573.0L1280.1 612.0L1280.1 559.2L1280.2 618.7L1280.3 611.7L1280.4 629.6L1280.4 601.9L1280.5 533.8L1280.6 619.0L1280.7 592.7L1280.8 588.4L1280.9 610.2L1281.0 598.8L1281.1 598.4L1281.2 611.3L1281.3 624.3L1281.4 581.5L1281.5 593.3L1281.7 582.1L1281.7 600.7L1281.8 582.6L1281.9 608.2L1282.0 556.6L1282.0 607.3L1282.2 577.7L1282.2 625.3L1282.3 552.3L1282.5 603.0L1282.5 586.1L1282.7 629.7L1282.7 589.1L1282.8 613.1L1282.9 584.2L1283.0 603.1L1283.0 622.0L1283.2 558.6L1283.3 561.2L1283.5 609.3L1283.5 601.7L1283.6 572.2L1283.7 623.9L1283.8 596.6L1284.0 576.5L1284.0 603.1L1284.2 553.6L1284.3 596.0L1284.3 603.1L1284.4 575.9L1284.5 597.8L1284.5 593.0L1284.6 635.0L1284.7 592.6L1284.8 583.3L1285.0 626.7L1285.0 568.4L1285.1 610.6L1285.2 587.2L1285.3 571.9L1285.5 606.3L1285.5 562.6L1285.7 627.1L1285.8 554.8L1286.0 635.0L1286.0 581.8L1286.2 599.4L1286.2 573.8L1286.3 599.3L1286.4 637.3L1286.4 585.1L1286.5 595.2L1286.6 588.2L1286.7 615.1L1286.8 608.7L1286.9 580.9L1287.0 618.4L1287.1 590.5L1287.1 623.9L1287.2 597.2L1287.3 604.6L1287.4 615.6L1287.5 586.7L1287.6 610.3L1287.6 628.6L1287.7 619.0L1287.8 590.0L1287.8 556.7L1287.9 629.5L1288.0 566.2L1288.1 632.1L1288.1 569.5L1288.2 582.9L1288.3 582.3L1288.3 577.6L1288.5 634.0L1288.5 537.8L1288.6 627.8L1288.7 606.2L1288.8 571.6L1288.9 633.3L1289.0 590.5L1289.0 625.8L1289.1 573.5L1289.2 579.6L1289.3 537.8L1289.4 638.2L1289.5 583.6L1289.6 606.8L1289.6 572.8L1289.7 586.4L1289.8 603.2L1289.9 606.5L1290.0 579.6L1290.1 594.8L1290.1 600.0L1290.2 590.7L1290.3 623.1L1290.3 605.6L1290.5 627.6L1290.5 635.5L1290.7 571.1L1290.8 619.0L1290.9 598.9L1290.9 599.3L1291.0 594.1L1291.1 635.1L1291.2 557.4L1291.3 594.6L1291.4 554.1L1291.5 630.9L1291.6 603.4L1291.6 612.9L1291.7 575.7L1291.8 591.5L1291.8 607.4L1291.9 580.0L1292.0 581.2L1292.0 605.7L1292.2 592.9L1292.2 612.1L1292.3 612.2L1292.4 566.1L1292.5 577.0L1292.6 632.4L1292.7 553.4L1292.8 592.1L1292.8 570.2L1292.9 612.0L1293.0 590.8L1293.0 584.6L1293.1 579.3L1293.2 632.5L1293.3 609.0L1293.4 561.0L1293.4 629.9L1293.5 572.5L1293.6 599.3L1293.7 587.4L1293.8 612.3L1293.9 576.5L1294.0 619.5L1294.0 608.7L1294.2 557.6L1294.2 599.9L1294.3 635.2L1294.4 594.1L1294.4 615.7L1294.5 622.2L1294.6 625.8L1294.6 592.1L1294.7 621.7L1294.8 588.6L1294.9 617.8L1295.0 566.4L1295.0 628.2L1295.2 568.9L1295.3 584.9L1295.4 582.7L1295.4 600.9L1295.5 570.7L1295.7 611.2L1295.8 616.2L1295.9 543.3L1296.0 584.9L1296.0 612.5L1296.2 578.6L1296.2 610.3L1296.3 600.3L1296.4 573.3L1296.5 595.5L1296.6 620.6L1296.7 553.7L1296.8 618.5L1297.0 565.3L1297.0 627.7L1297.2 593.0L1297.2 605.5L1297.3 593.8L1297.4 582.8L1297.4 625.2L1297.5 593.2L1297.6 559.8L1297.7 642.1L1297.8 606.8L1297.9 575.6L1298.0 584.1L1298.1 633.8L1298.2 572.2L1298.3 600.8L1298.4 589.3L1298.5 598.8L1298.5 537.8L1298.6 594.5L1298.7 590.1L1298.8 603.5L1298.9 621.5L1299.0 581.6L1299.0 595.4L1299.2 589.6L1299.3 583.4L1299.4 635.7L1299.5 608.1L1299.6 561.2L1299.6 573.5L1299.7 559.5L1299.8 581.9L1299.9 624.2L1300.0 606.3L1300.1 559.2L1300.2 605.9L1300.3 595.8L1300.3 617.2L1300.5 580.7L1300.5 591.4L1300.6 592.5L1300.7 558.4L1300.8 617.8L1300.8 579.8L1301.0 629.9L1301.0 563.2L1301.1 619.0L1301.2 537.8L1301.2 558.0L1301.3 629.7L1301.5 567.3L1301.5 574.5L1301.6 560.3L1301.7 620.6L1301.8 600.0L1302.0 566.3L1302.1 587.0L1302.2 636.7L1302.2 633.9L1302.3 611.4L1302.4 561.5L1302.5 581.0L1302.6 614.8L1302.6 571.2L1302.7 600.4L1302.8 634.1L1302.9 580.5L1302.9 620.2L1303.0 585.9L1303.1 631.3L1303.2 560.4L1303.3 639.9L1303.3 558.8L1303.4 609.0L1303.5 602.4L1303.6 581.4L1303.7 642.7L1303.8 623.6L1303.9 585.9L1303.9 635.5L1304.0 609.2L1304.1 568.3L1304.2 595.8L1304.3 579.6L1304.3 616.5L1304.4 570.3L1304.5 605.1L1304.6 576.6L1304.6 622.7L1304.7 613.0L1304.8 600.3L1304.8 619.5L1304.9 596.3L1305.0 636.1L1305.1 597.8L1305.2 608.8L1305.3 598.0L1305.3 573.7L1305.4 599.2L1305.4 578.8L1305.5 577.0L1305.7 635.7L1305.8 627.9L1305.8 563.9L1305.9 633.7L1305.9 618.8L1306.0 583.9L1306.1 573.6L1306.2 602.8L1306.3 583.3L1306.4 581.9L1306.5 595.0L1306.6 578.4L1306.6 613.7L1306.7 584.3L1306.8 586.9L1307.0 618.6L1307.1 570.6L1307.2 547.1L1307.2 628.3L1307.3 607.9L1307.4 611.9L1307.5 604.1L1307.5 597.8L1307.6 618.3L1307.7 583.0L1307.8 624.9L1308.0 578.2L1308.0 589.6L1308.1 567.3L1308.2 615.3L1308.3 599.8L1308.3 604.7L1308.4 591.1L1308.5 597.7L1308.5 607.5L1308.6 618.8L1308.7 562.2L1308.8 597.5L1308.9 570.9L1308.9 608.2L1309.0 581.1L1309.1 568.8L1309.2 587.1L1309.2 578.6L1309.3 619.8L1309.4 625.7L1309.5 588.4L1309.5 548.2L1309.6 635.3L1309.7 589.3L1309.8 611.5L1310.0 581.8L1310.0 598.1L1310.2 607.2L1310.2 571.3L1310.3 592.3L1310.3 595.7L1310.4 568.8L1310.5 576.0L1310.5 594.7L1310.6 610.1L1310.7 558.4L1310.8 597.6L1310.9 581.2L1311.0 585.1L1311.1 578.3L1311.1 599.5L1311.2 558.8L1311.3 601.9L1311.5 566.6L1311.5 563.4L1311.6 611.8L1311.7 594.8L1311.8 580.9L1311.9 606.7L1311.9 574.0L1312.0 591.7L1312.1 597.2L1312.1 567.3L1312.2 586.0L1312.3 554.8L1312.5 619.4L1312.5 576.2L1312.6 619.5L1312.7 555.9L1312.8 601.1L1312.9 560.9L1313.0 563.0L1313.0 590.8L1313.1 620.4L1313.2 602.3L1313.3 582.0L1313.4 626.3L1313.5 624.5L1313.5 567.6L1313.7 610.2L1313.8 598.2L1313.8 625.9L1314.0 570.7L1314.0 572.2L1314.2 632.2L1314.2 558.7L1314.3 570.3L1314.4 589.5L1314.5 566.5L1314.5 557.5L1314.7 638.0L1314.8 634.6L1314.9 580.0L1315.0 582.8L1315.1 631.8L1315.2 612.6L1315.3 603.0L1315.4 559.7L1315.5 633.1L1315.5 632.8L1315.7 567.7L1315.8 580.9L1315.8 569.6L1315.9 613.7L1316.0 609.6L1316.1 590.1L1316.1 581.5L1316.2 632.3L1316.2 600.6L1316.3 604.8L1316.4 606.1L1316.5 594.5L1316.5 622.7L1316.6 568.0L1316.7 597.1L1316.8 595.4L1316.9 631.0L1317.0 561.6L1317.0 607.7L1317.1 589.0L1317.2 602.6L1317.3 592.2L1317.4 622.9L1317.5 560.5L1317.6 613.8L1317.6 569.4L1317.7 615.9L1317.8 583.9L1317.9 601.3L1318.0 567.6L1318.0 586.0L1318.1 621.8L1318.2 575.0L1318.3 608.3L1318.4 626.3L1318.5 601.2L1318.5 600.9L1318.7 568.5L1318.8 586.5L1318.8 623.4L1319.0 616.0L1319.0 626.2L1319.1 592.1L1319.2 609.8L1319.3 599.7L1319.4 572.9L1319.4 621.3L1319.5 618.1L1319.5 586.7L1319.7 606.0L1319.7 547.5L1319.8 601.7L1319.9 635.5L1320.0 588.3L1320.1 598.0L1320.1 621.4L1320.2 609.5L1320.3 620.1L1320.4 587.1L1320.4 599.9L1320.5 578.5L1320.6 611.4L1320.7 556.2L1320.7 587.4L1320.8 562.8L1320.8 637.1L1320.9 559.1L1321.0 617.8L1321.0 616.6L1321.1 593.9L1321.1 620.5L1321.2 610.5L1321.3 595.1L1321.3 586.2L1321.4 610.4L1321.5 608.7L1321.5 622.8L1321.6 625.6L1321.6 591.7L1321.7 603.7L1321.8 582.6L1321.8 625.0L1321.9 556.3L1322.0 568.1L1322.0 589.3L1322.2 570.5L1322.2 625.3L1322.3 616.2L1322.4 565.4L1322.5 606.0L1322.5 599.2L1322.6 624.7L1322.7 609.4L1322.8 646.8L1323.0 581.1L1323.0 611.0L1323.2 595.9L1323.2 649.2L1323.3 608.0L1323.5 648.9L1323.5 605.1L1323.6 650.3L1323.7 613.0L1323.8 617.3L1324.0 643.7L1324.0 649.3L1324.2 595.1L1324.2 619.8L1324.3 603.1L1324.3 655.9L1324.4 613.4L1324.5 629.8L1324.6 614.0L1324.6 633.6L1324.7 614.5L1324.8 602.1L1325.0 640.5L1325.0 607.4L1325.1 653.4L1325.2 628.0L1325.3 626.8L1325.3 647.7L1325.4 593.6L1325.5 646.6L1325.5 620.7L1325.6 637.8L1325.7 608.8L1325.8 651.2L1325.9 652.9L1325.9 609.9L1326.0 624.0L1326.0 622.3L1326.2 607.3L1326.2 623.5L1326.3 596.5L1326.5 635.2L1326.5 633.0L1326.7 590.1L1326.8 616.6L1326.9 623.3L1326.9 589.8L1327.0 605.0L1327.1 642.5L1327.2 597.5L1327.3 633.2L1327.3 634.7L1327.4 598.0L1327.5 609.1L1327.5 614.3L1327.6 645.4L1327.6 599.8L1327.7 629.4L1327.8 630.8L1327.9 603.6L1328.0 611.5L1328.0 598.2L1328.1 591.1L1328.2 633.8L1328.3 595.9L1328.4 639.2L1328.5 597.5L1328.5 614.5L1328.6 642.6L1328.7 597.2L1328.8 600.3L1328.9 644.6L1329.0 621.0L1329.0 630.9L1329.2 598.8L1329.3 643.9L1329.3 596.2L1329.5 649.5L1329.5 647.3L1329.6 609.6L1329.6 650.8L1329.7 633.2L1329.8 628.7L1329.9 639.8L1330.0 605.2L1330.0 617.0L1330.1 587.2L1330.2 646.2L1330.3 622.0L1330.4 611.1L1330.5 645.5L1330.5 590.7L1330.6 644.2L1330.7 643.8L1330.8 610.1L1330.9 634.3L1331.0 621.6L1331.0 593.2L1331.2 637.9L1331.2 612.7L1331.3 613.7L1331.3 588.7L1331.4 638.0L1331.5 608.4L1331.5 622.3L1331.6 587.0L1331.6 638.2L1331.7 615.6L1331.8 654.3L1331.8 600.2L1332.0 617.6L1332.0 624.3L1332.2 644.9L1332.2 607.8L1332.3 612.3L1332.4 633.0L1332.5 578.2L1332.5 597.4L1332.6 633.6L1332.7 622.9L1332.8 646.0L1332.9 592.4L1333.0 616.4L1333.0 624.5L1333.1 601.4L1333.2 642.3L1333.2 601.5L1333.3 611.4L1333.4 624.5L1333.5 603.1L1333.5 607.4L1333.6 643.6L1333.7 592.0L1333.8 638.4L1333.9 597.7L1334.0 656.4L1334.0 620.1L1334.1 595.6L1334.2 625.7L1334.2 601.8L1334.3 611.4L1334.4 638.5L1334.5 617.3L1334.5 638.4L1334.6 605.7L1334.7 617.9L1334.8 615.4L1334.9 663.5L1335.0 588.1L1335.0 614.0L1335.1 578.7L1335.1 633.2L1335.2 591.1L1335.3 619.1L1335.4 600.8L1335.5 638.4L1335.5 617.3L1335.6 605.3L1335.7 657.1L1335.8 616.7L1335.9 561.3L1336.0 650.6L1336.0 619.6L1336.1 607.6L1336.1 641.4L1336.2 616.5L1336.3 653.0L1336.4 624.4L1336.5 626.2L1336.5 640.1L1336.7 598.5L1336.7 632.8L1336.8 645.8L1336.8 629.1L1336.9 648.2L1337.0 647.8L1337.0 591.7L1337.1 616.6L1337.2 596.2L1337.3 629.1L1337.4 606.1L1337.5 637.0L1337.5 624.2L1337.6 629.7L1337.7 603.5L1337.7 615.5L1337.8 634.4L1338.0 606.6L1338.0 625.9L1338.1 656.5L1338.2 591.6L1338.2 627.0L1338.3 648.1L1338.3 593.4L1338.5 634.9L1338.5 614.2L1338.6 587.6L1338.7 652.8L1338.8 641.6L1338.8 589.4L1338.9 657.2L1339.0 604.3L1339.0 644.5L1339.2 586.9L1339.3 640.9L1339.4 609.4L1339.5 634.5L1339.5 646.6L1339.7 591.3L1339.7 617.3L1339.8 601.1L1339.8 591.6L1340.0 626.2L1340.0 596.9L1340.1 584.2L1340.1 634.4L1340.2 633.5L1340.3 611.9L1340.3 653.7L1340.5 589.9L1340.5 646.4L1340.6 589.6L1340.7 657.7L1340.8 619.2L1340.8 635.2L1341.0 622.6L1341.0 606.0L1341.1 589.8L1341.2 651.8L1341.3 601.7L1341.3 648.2L1341.5 642.1L1341.5 633.8L1341.6 589.5L1341.6 644.2L1341.7 638.6L1341.8 602.7L1341.9 626.5L1342.0 620.8L1342.0 594.2L1342.1 657.6L1342.2 616.3L1342.3 597.2L1342.4 656.8L1342.5 603.3L1342.5 636.2L1342.7 607.5L1342.7 627.8L1342.8 587.0L1343.0 657.6L1343.0 635.6L1343.1 642.7L1343.2 611.8L1343.3 572.1L1343.4 662.0L1343.5 618.9L1343.5 618.9L1343.6 596.9L1343.7 646.4L1343.7 644.1L1343.8 636.0L1343.8 638.1L1344.0 596.9L1344.0 638.4L1344.1 616.7L1344.2 628.3L1344.3 648.7L1344.4 609.6L1344.5 635.0L1344.5 609.6L1344.6 597.2L1344.7 657.6L1344.8 627.0L1344.9 651.0L1345.0 589.1L1345.0 610.3L1345.1 635.8L1345.2 612.1L1345.3 596.4L1345.4 589.4L1345.5 654.0L1345.5 627.4L1345.6 631.9L1345.7 587.0L1345.7 589.5L1345.8 595.2L1346.0 618.2L1346.0 582.7L1346.1 636.7L1346.2 615.8L1346.3 598.1L1346.4 647.1L1346.5 618.2L1346.5 614.7L1346.7 652.5L1346.8 590.0L1346.8 656.1L1347.0 632.3L1347.0 632.3L1347.1 633.8L1347.1 612.4L1347.2 624.4L1347.3 641.1L1347.5 585.9L1347.5 602.3L1347.7 581.7L1347.7 646.5L1347.7 614.5L1347.8 643.6L1348.0 610.7L1348.0 598.4L1348.1 591.0L1348.2 642.4L1348.2 605.8L1348.3 624.0L1348.3 602.8L1348.5 629.8L1348.5 621.0L1348.5 615.7L1348.6 582.9L1348.7 621.1L1348.7 605.4L1348.8 613.1L1348.8 657.8L1349.0 581.4L1349.0 632.1L1349.2 649.4L1349.2 585.3L1349.2 589.0L1349.3 654.4L1349.4 610.6L1349.5 634.9L1349.5 599.3L1349.7 645.7L1349.8 586.2L1349.9 645.5L1350.0 645.4L1350.0 593.6L1350.1 586.0L1350.1 642.4L1350.2 621.1L1350.3 591.0L1350.3 657.6L1350.5 603.3L1350.5 625.5L1350.5 648.1L1350.7 598.3L1350.7 603.9L1350.8 636.4L1350.9 593.2L1351.0 652.6L1351.0 620.2L1351.1 628.7L1351.2 597.9L1351.2 623.9L1351.3 634.3L1351.4 651.1L1351.5 608.7L1351.5 593.9L1351.6 645.1L1351.6 592.0L1351.7 643.2L1351.8 611.4L1351.9 645.3L1351.9 601.3L1352.0 637.8L1352.0 594.0L1352.2 633.3L1352.2 602.5L1352.3 643.8L1352.5 619.3L1352.5 653.3L1352.7 602.1L1352.7 619.3L1352.8 635.3L1352.9 655.3L1352.9 595.6L1353.0 599.1L1353.0 641.4L1353.1 585.3L1353.2 622.8L1353.3 641.9L1353.4 606.7L1353.5 638.2L1353.5 650.6L1353.6 584.3L1353.7 639.9L1353.8 638.0L1353.8 645.8L1353.9 593.5L1354.0 645.7L1354.0 612.8L1354.1 654.9L1354.2 592.6L1354.3 659.3L1354.4 600.2L1354.5 647.6L1354.5 642.0L1354.7 651.1L1354.7 584.3L1354.7 611.3L1354.8 627.0L1354.8 634.6L1354.9 595.3L1355.0 617.2L1355.0 596.5L1355.2 646.4L1355.3 661.4L1355.5 621.6L1355.5 619.7L1355.6 610.8L1355.6 640.6L1355.7 629.1L1355.8 648.0L1355.8 578.8L1356.0 641.6L1356.0 611.9L1356.1 591.1L1356.2 642.9L1356.2 629.0L1356.3 626.4L1356.4 656.5L1356.4 586.6L1356.5 654.8L1356.5 612.3L1356.7 652.4L1356.7 578.1L1356.8 628.0L1356.8 590.8L1356.9 649.4L1357.0 627.3L1357.0 624.4L1357.1 586.8L1357.2 647.4L1357.2 605.3L1357.3 650.3L1357.5 599.1L1357.5 585.5L1357.6 625.4L1357.7 599.2L1357.8 584.3L1357.9 656.4L1358.0 613.1L1358.0 616.4L1358.1 597.0L1358.2 631.1L1358.3 658.2L1358.3 567.5L1358.5 651.0L1358.5 627.2L1358.6 575.7L1358.7 623.9L1358.8 635.1L1358.9 601.4L1359.0 625.7L1359.0 631.7L1359.1 646.7L1359.1 599.1L1359.2 612.3L1359.3 600.0L1359.4 634.6L1359.5 589.0L1359.5 657.1L1359.6 576.8L1359.7 612.3L1359.8 640.5L1359.8 643.7L1359.9 608.3L1360.0 631.1L1360.0 630.7L1360.1 645.0L1360.2 600.8L1360.2 630.0L1360.3 637.6L1360.3 662.6L1360.4 589.2L1360.5 594.9L1360.5 577.1L1360.6 635.9L1360.7 619.2L1360.8 643.3L1360.8 578.7L1361.0 592.6L1361.0 651.8L1361.1 601.7L1361.2 601.9L1361.3 627.7L1361.3 613.3L1361.4 658.0L1361.5 617.6L1361.5 640.7L1361.6 653.7L1361.6 612.1L1361.7 617.0L1361.8 606.7L1361.8 639.0L1361.9 592.6L1362.0 594.9L1362.0 593.3L1362.1 644.9L1362.2 603.8L1362.3 609.2L1362.4 654.3L1362.5 630.6L1362.5 593.0L1362.6 652.6L1362.7 634.5L1362.8 616.9L1362.8 655.9L1362.9 582.0L1363.0 611.0L1363.0 595.0L1363.2 579.9L1363.2 653.5L1363.3 632.5L1363.3 604.5L1363.4 650.2L1363.5 650.1L1363.5 629.0L1363.6 655.5L1363.7 603.1L1363.7 642.1L1363.8 602.4L1363.9 656.0L1364.0 591.0L1364.0 606.6L1364.0 638.4L1364.2 579.9L1364.2 634.8L1364.3 645.4L1364.5 566.8L1364.5 624.7L1364.5 589.6L1364.6 657.9L1364.7 650.8L1364.8 617.7L1364.9 641.6L1364.9 581.5L1365.0 629.5L1365.0 652.8L1365.2 587.8L1365.2 634.6L1365.3 622.0L1365.3 575.2L1365.5 637.9L1365.5 613.7L1365.6 636.0L1365.6 582.5L1365.7 610.9L1365.8 602.9L1365.9 653.5L1366.0 651.8L1366.0 619.7L1366.1 578.2L1366.2 626.7L1366.2 583.8L1366.3 650.2L1366.5 590.6L1366.5 602.1L1366.6 640.7L1366.7 593.3L1366.8 625.3L1366.9 607.3L1366.9 640.3L1367.0 608.4L1367.0 603.5L1367.1 592.5L1367.2 628.6L1367.3 601.3L1367.3 579.6L1367.4 655.1L1367.5 635.1L1367.5 634.9L1367.6 602.2L1367.7 604.4L1367.8 646.0L1367.8 649.6L1367.9 587.7L1368.0 640.5L1368.0 603.8L1368.1 644.8L1368.2 585.5L1368.3 628.8L1368.3 579.1L1368.5 618.1L1368.5 637.2L1368.7 589.0L1368.8 613.6L1368.8 643.9L1369.0 593.2L1369.0 603.5L1369.2 644.3L1369.2 599.6L1369.3 584.7L1369.4 656.9L1369.5 600.7L1369.5 644.9L1369.6 598.7L1369.7 631.7L1369.8 636.2L1369.8 612.1L1369.9 648.6L1370.0 633.6L1370.0 636.4L1370.2 594.1L1370.3 632.1L1370.3 574.1L1370.5 614.7L1370.5 594.8L1370.6 660.1L1370.7 617.0L1370.8 607.8L1370.8 563.8L1371.0 653.7L1371.0 609.0L1371.0 656.6L1371.2 577.0L1371.2 616.5L1371.3 633.5L1371.4 639.9L1371.4 603.4L1371.5 616.0L1371.5 588.9L1371.6 657.8L1371.7 614.7L1371.8 581.8L1371.8 628.4L1371.9 580.8L1372.0 619.3L1372.0 583.0L1372.1 639.0L1372.2 578.2L1372.2 594.0L1372.3 597.7L1372.4 650.2L1372.5 631.6L1372.5 617.1L1372.6 615.7L1372.6 636.6L1372.7 630.9L1372.8 624.5L1372.8 608.8L1373.0 656.8L1373.0 599.9L1373.1 656.8L1373.2 585.3L1373.2 629.6L1373.3 602.0L1373.3 637.0L1373.4 554.9L1373.5 570.8L1373.5 652.0L1373.7 569.3L1373.7 627.4L1373.8 649.5L1373.9 582.5L1374.0 636.3L1374.0 621.6L1374.2 594.0L1374.2 643.3L1374.2 601.9L1374.3 608.3L1374.4 577.3L1374.4 663.6L1374.5 604.7L1374.5 653.6L1374.6 579.1L1374.7 600.1L1374.8 576.2L1374.8 630.3L1375.0 584.8L1375.0 585.2L1375.1 628.7L1375.2 620.4L1375.3 583.9L1375.4 652.6L1375.5 634.2L1375.5 622.4L1375.6 580.9L1375.7 658.2L1375.7 636.3L1375.8 626.7L1375.8 658.2L1375.9 574.6L1376.0 645.5L1376.0 584.2L1376.2 649.8L1376.2 634.1L1376.3 629.7L1376.4 579.2L1376.4 639.4L1376.5 637.3L1376.5 623.8L1376.6 597.8L1376.6 655.1L1376.7 606.9L1376.8 617.7L1376.8 588.3L1377.0 641.0L1377.0 624.6L1377.0 621.9L1377.1 635.1L1377.2 578.8L1377.3 645.5L1377.4 612.6L1377.5 652.6L1377.5 646.4L1377.7 590.6L1377.8 573.0L1378.0 635.8L1378.0 630.4L1378.1 652.1L1378.2 587.3L1378.2 606.0L1378.3 603.6L1378.3 643.7L1378.4 577.2L1378.5 589.6L1378.5 599.4L1378.6 579.5L1378.7 646.3L1378.8 639.2L1378.8 639.3L1378.9 596.5L1379.0 616.0L1379.0 630.1L1379.1 566.1L1379.2 658.9L1379.2 636.2L1379.3 649.9L1379.5 566.3L1379.5 602.5L1379.6 562.2L1379.7 638.8L1379.7 619.6L1379.8 638.8L1379.9 583.5L1380.0 599.1L1380.0 604.6L1380.1 584.4L1380.2 643.6L1380.3 614.6L1380.3 650.7L1380.3 593.9L1380.5 629.7L1380.5 614.3L1380.6 609.4L1380.7 642.3L1380.7 634.1L1380.8 582.1L1380.9 579.9L1380.9 662.6L1381.0 654.5L1381.0 597.3L1381.1 637.2L1381.2 591.5L1381.3 619.1L1381.4 657.0L1381.4 578.7L1381.5 602.7L1381.5 649.1L1381.7 605.2L1381.8 619.6L1381.8 660.7L1381.9 582.8L1382.0 602.1L1382.0 580.2L1382.2 649.6L1382.2 596.4L1382.3 590.9L1382.3 642.2L1382.5 624.8L1382.5 634.7L1382.7 582.9L1382.8 573.1L1382.9 632.5L1383.0 623.5L1383.0 647.1L1383.1 592.8L1383.2 602.7L1383.3 630.7L1383.3 664.7L1383.5 586.3L1383.5 627.9L1383.7 655.2L1383.7 589.1L1383.8 610.3L1383.8 640.8L1384.0 581.4L1384.0 652.4L1384.1 652.6L1384.2 579.3L1384.3 616.9L1384.3 599.7L1384.4 630.5L1384.5 617.9L1384.5 660.5L1384.6 553.2L1384.7 622.0L1384.8 637.3L1385.0 599.9L1385.0 631.3L1385.0 601.6L1385.1 575.9L1385.2 630.6L1385.2 603.9L1385.3 593.4L1385.4 633.9L1385.5 590.8L1385.5 578.6L1385.5 647.6L1385.7 574.8L1385.7 614.2L1385.8 589.3L1385.8 640.9L1386.0 633.0L1386.0 598.1L1386.1 634.0L1386.2 597.2L1386.3 634.8L1386.3 580.0L1386.4 653.3L1386.5 605.5L1386.5 650.7L1386.7 568.0L1386.8 612.6L1386.8 586.0L1386.9 650.5L1387.0 596.6L1387.0 548.8L1387.0 647.8L1387.2 575.0L1387.3 649.9L1387.3 580.4L1387.4 658.2L1387.5 630.9L1387.5 598.1L1387.7 634.0L1387.7 578.7L1387.7 615.7L1387.8 634.8L1387.9 571.7L1388.0 593.2L1388.0 610.4L1388.1 633.3L1388.2 576.8L1388.2 632.1L1388.3 648.0L1388.4 620.3L1388.5 656.6L1388.5 629.5L1388.5 657.0L1388.6 594.4L1388.7 612.3L1388.8 636.4L1388.9 648.9L1388.9 581.4L1389.0 596.0L1389.0 606.7L1389.1 661.4L1389.2 582.4L1389.3 608.5L1389.4 590.4L1389.4 655.9L1389.5 606.0L1389.5 609.1L1389.6 639.1L1389.7 587.6L1389.8 627.7L1389.8 588.0L1389.9 663.5L1390.0 609.0L1390.0 657.3L1390.1 581.8L1390.2 657.2L1390.3 640.2L1390.4 650.8L1390.4 585.8L1390.5 602.6L1390.5 579.0L1390.5 649.6L1390.7 617.6L1390.8 616.0L1390.8 639.2L1390.9 570.9L1391.0 624.7L1391.0 645.1L1391.1 576.3L1391.2 625.5L1391.3 639.1L1391.4 597.1L1391.4 649.2L1391.5 605.2L1391.5 624.4L1391.6 655.2L1391.7 579.8L1391.8 603.3L1391.9 586.0L1391.9 630.3L1392.0 588.5L1392.0 608.3L1392.2 600.7L1392.2 647.8L1392.3 620.6L1392.4 646.0L1392.5 586.6L1392.5 647.8L1392.7 593.3L1392.7 628.1L1392.8 638.9L1392.9 572.6L1392.9 640.2L1393.0 605.5L1393.0 587.1L1393.1 652.4L1393.2 641.5L1393.3 640.5L1393.5 575.7L1393.5 591.6L1393.6 567.9L1393.7 647.9L1393.8 648.7L1393.8 650.2L1393.9 584.8L1394.0 585.6L1394.0 603.4L1394.1 628.7L1394.2 583.1L1394.3 623.4L1394.3 570.2L1394.5 640.3L1394.5 622.4L1394.5 635.1L1394.6 601.3L1394.7 630.5L1394.8 615.7L1394.8 588.0L1395.0 650.1L1395.0 617.6L1395.2 588.2L1395.2 644.0L1395.3 605.9L1395.4 652.0L1395.4 596.9L1395.5 602.4L1395.5 603.7L1395.6 585.7L1395.6 641.4L1395.7 602.3L1395.8 605.1L1395.9 642.8L1395.9 576.3L1396.0 625.2L1396.0 611.8L1396.1 647.5L1396.1 591.1L1396.2 603.5L1396.3 611.9L1396.3 653.4L1396.4 598.1L1396.5 620.0L1396.5 592.2L1396.7 658.9L1396.7 624.3L1396.8 626.8L1396.9 654.1L1397.0 561.3L1397.0 582.5L1397.1 649.4L1397.2 632.8L1397.3 609.3L1397.3 597.0L1397.4 651.2L1397.5 598.6L1397.5 575.4L1397.7 638.8L1397.7 635.7L1397.8 597.5L1397.8 618.0L1397.8 582.4L1398.0 614.5L1398.0 600.2L1398.2 658.7L1398.2 603.5L1398.3 623.2L1398.3 599.0L1398.3 640.0L1398.5 638.1L1398.5 615.4L1398.6 662.8L1398.7 577.1L1398.8 598.0L1398.8 658.1L1398.8 570.4L1399.0 587.5L1399.0 654.4L1399.1 569.7L1399.2 624.7L1399.3 609.0L1399.4 583.3L1399.4 636.5L1399.5 628.9L1399.5 600.3L1399.6 579.2L1399.7 633.9L1399.7 622.7L1399.8 636.7L1399.8 589.7L1400.0 592.5L1400.0 583.6L1400.1 631.8L1400.2 609.7L1400.3 625.8L1400.4 646.0L1400.5 572.1L1400.5 644.7L1400.6 581.4L1400.7 589.6L1400.8 579.6L1400.9 651.4L1401.0 606.0L1401.0 588.9L1401.0 582.3L1401.1 641.7L1401.2 638.2L1401.3 629.3L1401.3 606.4L1401.5 658.6L1401.5 602.6L1401.6 652.7L1401.7 587.4L1401.7 646.3L1401.8 621.8L1401.8 655.7L1401.9 567.7L1402.0 631.8L1402.0 598.5L1402.1 639.5L1402.2 573.8L1402.2 603.8L1402.3 606.6L1402.3 581.5L1402.5 660.8L1402.5 650.0L1402.7 590.8L1402.8 653.8L1403.0 576.3L1403.0 654.1L1403.1 552.4L1403.2 636.2L1403.3 637.7L1403.5 586.6L1403.5 599.8L1403.5 594.5L1403.5 546.6L1403.7 637.0L1403.8 605.3L1403.9 642.2L1403.9 573.8L1404.0 581.3L1404.0 617.5L1404.1 637.6L1404.2 593.1L1404.2 603.4L1404.3 597.0L1404.3 630.8L1404.5 583.6L1404.5 567.5L1404.7 650.9L1404.8 587.7L1404.9 584.8L1405.0 653.2L1405.0 611.1L1405.1 584.4L1405.2 639.0L1405.2 638.8L1405.3 606.1L1405.4 628.8L1405.5 579.4L1405.5 602.0L1405.6 645.5L1405.7 588.3L1405.7 623.3L1405.8 605.1L1406.0 588.2L1406.0 617.3L1406.0 639.0L1406.1 592.5L1406.2 605.5L1406.3 608.2L1406.3 576.1L1406.4 621.6L1406.5 591.9L1406.5 572.6L1406.7 641.0L1406.8 582.5L1406.8 664.7L1407.0 606.6L1407.0 606.1L1407.1 646.1L1407.2 568.9L1407.2 629.0L1407.3 580.2L1407.4 639.9L1407.5 639.5L1407.5 579.5L1407.7 649.7L1407.7 570.7L1407.7 616.8L1407.8 580.1L1407.8 570.9L1408.0 632.9L1408.0 613.7L1408.1 573.7L1408.2 634.7L1408.3 633.8L1408.3 640.7L1408.3 589.8L1408.5 633.1L1408.5 592.4L1408.5 633.6L1408.7 605.5L1408.8 597.5L1408.8 580.0L1409.0 631.8L1409.0 608.8L1409.0 600.8L1409.0 548.9L1409.2 639.1L1409.2 615.2L1409.3 586.3L1409.5 651.1L1409.5 589.5L1409.5 618.1L1409.6 633.0L1409.6 568.1L1409.7 600.9L1409.8 636.0L1409.9 581.0L1410.0 651.8L1410.0 617.3L1410.1 658.5L1410.2 590.2L1410.2 606.2L1410.3 613.5L1410.4 645.0L1410.4 578.5L1410.5 593.5L1410.5 602.8L1410.6 642.0L1410.6 569.0L1410.7 604.4L1410.8 611.5L1410.8 645.0L1411.0 582.1L1411.0 591.5L1411.0 576.8L1411.1 635.3L1411.2 567.1L1411.2 613.6L1411.3 582.0L1411.5 637.2L1411.5 597.6L1411.7 628.4L1411.7 603.5L1411.8 589.2L1411.8 565.6L1411.8 650.1L1412.0 616.5L1412.0 635.7L1412.1 650.3L1412.2 610.5L1412.2 642.5L1412.3 649.4L1412.3 574.3L1412.5 597.6L1412.5 570.0L1412.6 568.6L1412.7 638.6L1412.8 572.9L1412.9 648.3L1413.0 590.4L1413.0 651.1L1413.1 571.1L1413.2 577.5L1413.3 644.5L1413.3 575.5L1413.5 589.9L1413.5 618.6L1413.6 568.4L1413.7 641.2L1413.7 584.6L1413.8 619.5L1413.9 637.4L1414.0 592.2L1414.0 615.1L1414.0 615.8L1414.0 577.8L1414.1 652.5L1414.2 647.0L1414.3 612.9L1414.3 637.1L1414.4 580.3L1414.5 624.9L1414.5 576.7L1414.5 544.2L1414.6 628.1L1414.7 623.7L1414.8 602.1L1414.8 641.4L1414.9 591.5L1415.0 608.6L1415.0 589.9L1415.2 631.8L1415.2 625.0L1415.3 612.3L1415.4 651.6L1415.4 576.6L1415.5 616.8L1415.5 626.7L1415.7 583.5L1415.8 629.6L1415.9 640.8L1415.9 576.1L1416.0 640.2L1416.0 579.8L1416.1 648.9L1416.2 625.0L1416.3 567.1L1416.4 639.6L1416.5 601.1L1416.5 575.0L1416.6 572.3L1416.7 627.8L1416.7 574.8L1416.8 633.3L1416.8 588.0L1416.8 638.5L1417.0 629.3L1417.0 608.8L1417.1 578.7L1417.2 637.6L1417.3 608.8L1417.3 628.5L1417.4 571.1L1417.5 616.5L1417.5 646.8L1417.6 583.6L1417.7 589.5L1417.8 581.5L1417.8 634.6L1418.0 566.8L1418.0 616.9L1418.1 577.0L1418.2 618.8L1418.2 588.2L1418.3 611.6L1418.3 577.3L1418.4 640.8L1418.5 615.6L1418.5 578.5L1418.7 650.1L1418.7 631.2L1418.8 594.1L1418.8 648.8L1419.0 577.1L1419.0 596.4L1419.1 621.7L1419.2 575.9L1419.2 602.7L1419.3 608.0L1419.4 565.9L1419.5 641.0L1419.5 571.9L1419.6 630.9L1419.7 570.8L1419.7 603.8L1419.8 613.5L1419.8 574.0L1420.0 645.6L1420.0 640.1L1420.0 601.6L1420.1 633.2L1420.2 590.4L1420.2 606.2L1420.3 616.5L1420.4 645.5L1420.5 571.7L1420.5 596.1L1420.5 580.5L1420.5 626.1L1420.7 583.6L1420.8 645.7L1420.9 575.3L1421.0 627.7L1421.0 628.5L1421.2 596.2L1421.2 646.9L1421.3 625.1L1421.3 566.0L1421.4 646.8L1421.5 597.6L1421.5 625.5L1421.6 647.5L1421.7 594.9L1421.7 601.4L1421.8 558.3L1421.9 644.2L1422.0 575.7L1422.0 626.0L1422.1 628.0L1422.2 570.3L1422.2 609.0L1422.3 578.7L1422.4 567.2L1422.4 644.1L1422.5 638.4L1422.5 620.3L1422.6 570.6L1422.7 630.5L1422.7 584.1L1422.8 644.4L1422.9 578.8L1423.0 614.7L1423.0 605.1L1423.1 635.6L1423.2 551.3L1423.2 588.0L1423.3 604.7L1423.3 647.6L1423.4 579.7L1423.5 617.6L1423.5 622.7L1423.6 574.0L1423.7 647.7L1423.7 607.5L1423.8 622.0L1423.8 659.9L1424.0 567.5L1424.0 583.1L1424.0 592.0L1424.0 645.8L1424.2 568.5L1424.2 635.6L1424.3 585.8L1424.3 568.7L1424.3 634.5L1424.5 587.4L1424.5 611.9L1424.7 636.3L1424.7 577.6L1424.8 604.9L1424.8 580.8L1424.9 632.5L1425.0 598.3L1425.0 587.8L1425.1 638.3L1425.1 574.5L1425.2 603.3L1425.3 602.4L1425.3 573.5L1425.4 617.5L1425.5 578.5L1425.5 618.3L1425.6 580.2L1425.7 651.2L1425.7 621.5L1425.8 603.3L1425.9 573.5L1425.9 636.0L1426.0 583.4L1426.0 580.4L1426.2 643.8L1426.3 616.7L1426.3 566.7L1426.4 628.4L1426.5 580.7L1426.5 567.8L1426.7 622.0L1426.7 614.0L1426.8 595.2L1426.9 568.8L1426.9 646.3L1427.0 607.4L1427.0 620.1L1427.1 565.0L1427.1 634.0L1427.2 632.0L1427.3 562.4L1427.3 553.3L1427.4 642.0L1427.5 641.5L1427.5 585.9L1427.6 582.3L1427.7 635.9L1427.7 611.7L1427.8 637.0L1427.9 641.9L1427.9 563.7L1428.0 587.3L1428.0 618.9L1428.1 573.8L1428.2 629.9L1428.2 595.6L1428.3 620.3L1428.3 653.1L1428.3 565.0L1428.5 573.5L1428.5 622.5L1428.7 572.5L1428.7 647.5L1428.8 578.0L1428.8 560.1L1428.9 625.4L1429.0 594.1L1429.0 614.0L1429.1 616.7L1429.2 558.5L1429.3 619.3L1429.3 644.6L1429.4 576.6L1429.5 626.8L1429.5 617.3L1429.6 631.3L1429.7 574.7L1429.7 594.9L1429.8 600.8L1429.9 617.0L1430.0 585.2L1430.0 581.8L1430.0 566.6L1430.1 637.0L1430.2 594.7L1430.3 619.4L1430.4 576.3L1430.5 632.1L1430.5 628.1L1430.7 566.9L1430.7 606.3L1430.8 600.3L1430.9 649.5L1431.0 587.0L1431.0 605.3L1431.1 574.5L1431.2 639.8L1431.2 626.6L1431.3 634.9L1431.3 583.2L1431.5 629.1L1431.5 581.8L1431.5 567.5L1431.6 641.6L1431.7 593.3L1431.8 614.5L1431.8 640.1L1431.9 553.8L1432.0 607.3L1432.0 612.6L1432.1 644.7L1432.2 566.4L1432.2 628.9L1432.3 635.4L1432.4 640.7L1432.4 587.5L1432.5 592.8L1432.5 586.4L1432.5 566.4L1432.6 649.6L1432.7 619.4L1432.8 565.2L1432.9 639.9L1433.0 616.0L1433.0 617.3L1433.1 583.9L1433.1 637.6L1433.2 591.6L1433.3 614.7L1433.3 639.6L1433.3 576.6L1433.5 611.7L1433.5 628.1L1433.5 645.6L1433.7 589.1L1433.7 592.9L1433.8 619.3L1433.8 640.3L1433.9 558.8L1434.0 577.6L1434.0 573.8L1434.1 631.1L1434.2 556.5L1434.3 623.3L1434.4 626.8L1434.5 569.8L1434.5 620.2L1434.6 639.6L1434.7 565.7L1434.7 606.4L1434.8 626.3L1434.9 633.5L1434.9 579.4L1435.0 631.8L1435.0 611.9L1435.0 641.6L1435.1 566.4L1435.2 610.4L1435.3 583.6L1435.4 570.2L1435.4 625.0L1435.5 589.2L1435.5 588.4L1435.6 579.9L1435.7 638.5L1435.7 632.0L1435.8 622.0L1435.8 564.6L1436.0 639.3L1436.0 605.1L1436.0 624.1L1436.1 583.9L1436.2 651.6L1436.2 596.2L1436.3 603.1L1436.3 576.4L1436.5 639.8L1436.5 643.7L1436.6 575.9L1436.7 618.4L1436.8 619.9L1436.8 631.8L1437.0 561.9L1437.0 603.2L1437.1 628.2L1437.1 575.8L1437.2 593.1L1437.3 590.1L1437.4 563.7L1437.4 616.9L1437.5 614.2L1437.5 577.7L1437.6 572.1L1437.6 643.4L1437.7 614.5L1437.8 633.1L1437.8 581.2L1437.9 640.7L1438.0 584.3L1438.0 596.7L1438.1 641.2L1438.2 568.6L1438.3 600.0L1438.4 562.3L1438.5 629.2L1438.5 604.5L1438.5 626.9L1438.6 587.5L1438.7 611.4L1438.8 618.5L1439.0 562.3L1439.0 591.5L1439.0 565.4L1439.1 641.8L1439.2 584.4L1439.3 616.9L1439.3 636.7L1439.4 592.5L1439.5 594.3L1439.5 579.3L1439.6 570.4L1439.7 643.6L1439.7 579.5L1439.8 589.1L1439.8 631.1L1440.0 603.8L1440.0 587.7L1440.1 538.8L1440.2 616.3L1440.2 565.0L1440.3 574.0L1440.4 639.1L1440.5 625.9L1440.5 573.0L1440.6 545.6L1440.7 634.6L1440.7 617.8L1440.8 572.7L1440.8 623.2L1441.0 610.0L1441.0 615.0L1441.1 561.5L1441.2 636.7L1441.2 611.0L1441.3 630.2L1441.3 644.9L1441.3 569.2L1441.5 598.2L1441.5 593.7L1441.5 613.4L1441.6 570.5L1441.7 593.5L1441.8 574.3L1441.8 617.3L1442.0 568.6L1442.0 599.1L1442.1 637.5L1442.2 573.9L1442.2 588.1L1442.3 571.1L1442.3 638.1L1442.5 601.2L1442.5 595.7L1442.6 626.1L1442.7 582.7L1442.7 619.0L1442.8 569.9L1442.8 626.5L1443.0 622.4L1443.0 579.8L1443.0 626.8L1443.2 579.3L1443.2 586.9L1443.3 594.0L1443.3 573.8L1443.4 616.3L1443.5 594.2L1443.5 627.5L1443.6 630.8L1443.7 572.2L1443.7 575.2L1443.8 594.9L1443.8 561.0L1443.9 643.3L1444.0 615.2L1444.0 612.1L1444.1 558.6L1444.2 636.7L1444.3 597.8L1444.4 572.4L1444.4 638.9L1444.5 579.9L1444.5 596.9L1444.5 573.1L1444.7 643.0L1444.8 642.6L1444.8 573.5L1445.0 598.0L1445.0 596.9L1445.1 576.6L1445.1 619.0L1445.2 611.1L1445.3 615.2L1445.3 638.8L1445.5 560.9L1445.5 608.8L1445.5 621.5L1445.7 637.5L1445.7 558.8L1445.7 591.2L1445.8 626.4L1445.9 563.8L1445.9 628.6L1446.0 625.5L1446.0 615.8L1446.1 628.9L1446.2 575.0L1446.2 609.7L1446.3 604.8L1446.4 634.7L1446.5 560.9L1446.5 583.0L1446.7 573.0L1446.7 635.9L1446.8 593.1L1446.9 638.3L1447.0 565.8L1447.0 596.3L1447.1 642.9L1447.2 574.3L1447.2 581.0L1447.3 593.0L1447.3 624.7L1447.4 553.3L1447.5 586.8L1447.5 588.8L1447.7 579.6L1447.7 636.4L1447.7 624.5L1447.8 601.1L1447.9 554.7L1448.0 633.1L1448.0 606.1L1448.1 549.5L1448.2 629.8L1448.3 588.6L1448.3 650.3L1448.5 572.5L1448.5 622.2L1448.5 615.1L1448.7 624.0L1448.7 568.6L1448.7 600.8L1448.8 630.4L1448.8 639.8L1449.0 558.8L1449.0 618.7L1449.0 620.8L1449.1 634.7L1449.2 596.7L1449.2 611.6L1449.3 620.0L1449.3 622.7L1449.4 568.3L1449.5 573.5L1449.5 624.4L1449.5 641.3L1449.6 567.7L1449.7 575.1L1449.8 596.1L1450.0 567.7L1450.0 640.7L1450.0 634.0L1450.1 559.8L1450.2 610.5L1450.3 566.2L1450.4 638.4L1450.5 622.6L1450.5 593.5L1450.7 629.0L1450.7 579.2L1450.7 586.7L1450.8 591.5L1450.9 643.5L1451.0 564.8L1451.0 625.5L1451.0 642.9L1451.1 568.1L1451.2 610.4L1451.3 627.7L1451.3 557.7L1451.5 584.4L1451.5 589.7L1451.6 619.1L1451.7 572.8L1451.7 603.4L1451.8 604.3L1451.9 625.3L1451.9 548.8L1452.0 592.9L1452.0 609.7L1452.1 570.0L1452.2 612.0L1452.3 611.3L1452.3 552.0L1452.5 633.4L1452.5 613.9L1452.5 561.5L1452.7 637.5L1452.8 637.8L1453.0 568.7L1453.0 604.9L1453.0 589.9L1453.1 629.7L1453.1 562.1L1453.2 583.8L1453.3 560.5L1453.4 641.0L1453.5 626.3L1453.5 595.0L1453.5 562.5L1453.6 629.3L1453.7 603.2L1453.8 582.0L1453.8 564.1L1453.9 630.3L1454.0 605.7L1454.0 552.9L1454.2 630.3L1454.2 618.4L1454.3 582.2L1454.3 613.5L1454.4 567.4L1454.5 607.6L1454.5 586.7L1454.6 576.8L1454.7 645.3L1454.8 626.7L1454.8 644.9L1455.0 573.0L1455.0 638.2L1455.1 638.3L1455.2 563.7L1455.2 608.6L1455.3 595.3L1455.3 562.7L1455.4 626.1L1455.5 587.0L1455.5 626.1L1455.6 640.5L1455.7 577.8L1455.7 592.0L1455.8 607.2L1455.8 562.6L1455.9 642.2L1456.0 605.9L1456.0 590.2L1456.0 577.3L1456.2 634.8L1456.2 599.5L1456.3 595.2L1456.3 578.8L1456.5 632.8L1456.5 613.1L1456.5 596.0L1456.6 633.9L1456.7 563.9L1456.7 569.8L1456.8 640.2L1456.9 561.6L1457.0 601.7L1457.0 624.2L1457.1 576.6L1457.2 636.0L1457.2 578.3L1457.3 618.4L1457.3 644.5L1457.4 572.7L1457.5 602.4L1457.5 594.4L1457.6 562.7L1457.7 623.3L1457.7 578.1L1457.8 571.0L1457.9 619.7L1458.0 568.5L1458.0 640.0L1458.0 569.5L1458.2 608.7L1458.3 556.2L1458.4 551.7L1458.4 630.0L1458.5 575.5L1458.5 595.5L1458.6 559.1L1458.7 628.9L1458.7 586.8L1458.8 598.5L1458.8 562.9L1459.0 639.5L1459.0 564.8L1459.0 589.7L1459.1 586.8L1459.2 643.8L1459.2 588.1L1459.3 644.0L1459.3 644.7L1459.5 561.3L1459.5 589.1L1459.6 641.9L1459.7 588.4L1459.7 602.9L1459.8 596.3L1459.8 564.8L1460.0 639.0L1460.0 595.5L1460.0 576.5L1460.1 639.9L1460.2 548.8L1460.2 592.1L1460.3 561.4L1460.4 640.4L1460.5 587.1L1460.5 591.2L1460.6 646.7L1460.6 566.0L1460.7 642.2L1460.8 610.4L1460.9 638.3L1460.9 580.3L1461.0 595.5L1461.0 642.1L1461.2 559.0L1461.3 612.5L1461.3 639.6L1461.3 571.7L1461.5 637.9L1461.5 632.3L1461.7 571.5L1461.7 572.9L1461.8 594.6L1461.9 568.8L1461.9 624.5L1462.0 611.6L1462.0 639.7L1462.1 568.7L1462.2 641.5L1462.2 607.9L1462.3 537.0L1462.3 633.6L1462.5 600.8L1462.5 562.3L1462.6 631.0L1462.7 561.5L1462.7 583.8L1462.8 602.5L1462.8 631.9L1462.9 572.6L1463.0 596.8L1463.0 572.9L1463.1 636.1L1463.2 602.9L1463.3 606.1L1463.3 563.3L1463.3 631.1L1463.5 603.8L1463.5 596.5L1463.6 635.1L1463.7 574.2L1463.7 608.2L1463.8 575.9L1463.9 633.9L1464.0 568.0L1464.0 619.0L1464.0 613.9L1464.1 567.6L1464.2 636.0L1464.2 577.4L1464.3 585.0L1464.3 558.8L1464.4 637.0L1464.5 628.7L1464.5 593.4L1464.6 624.5L1464.7 558.7L1464.7 621.3L1464.8 636.0L1464.9 559.2L1465.0 591.4L1465.0 575.2L1465.1 571.9L1465.2 647.0L1465.2 593.4L1465.3 615.1L1465.3 628.7L1465.4 568.4L1465.5 615.1L1465.5 598.4L1465.6 641.7L1465.7 574.3L1465.7 590.6L1465.8 569.6L1465.9 639.6L1466.0 624.6L1466.0 594.9L1466.1 638.7L1466.2 559.2L1466.2 622.2L1466.3 611.1L1466.4 589.1L1466.5 604.0L1466.5 613.9L1466.6 573.8L1466.7 634.5L1466.7 608.9L1466.8 616.0L1466.9 555.9L1467.0 637.6L1467.0 614.7L1467.2 585.8L1467.2 628.1L1467.2 616.4L1467.3 601.8L1467.3 565.2L1467.4 635.6L1467.5 623.1L1467.5 582.5L1467.7 558.3L1467.7 635.1L1467.7 618.1L1467.8 574.3L1467.8 645.1L1468.0 542.6L1468.0 580.6L1468.1 555.7L1468.2 626.9L1468.3 598.6L1468.3 635.6L1468.4 563.1L1468.5 629.4L1468.5 634.3L1468.6 585.4L1468.7 599.5L1468.8 622.4L1468.9 635.8L1469.0 562.1L1469.0 608.7L1469.0 607.6L1469.2 622.8L1469.2 569.6L1469.2 584.0L1469.3 634.0L1469.4 554.5L1469.5 638.4L1469.5 634.2L1469.5 593.2L1469.5 565.5L1469.7 636.7L1469.7 581.2L1469.8 603.9L1469.9 558.2L1469.9 639.6L1470.0 638.0L1470.0 584.8L1470.0 637.5L1470.1 562.4L1470.2 597.0L1470.3 616.0L1470.3 561.0L1470.5 625.9L1470.5 598.4L1470.5 568.8L1470.7 633.9L1470.7 604.4L1470.8 634.1L1470.8 637.5L1470.9 549.0L1471.0 619.3L1471.0 583.4L1471.1 565.3L1471.2 625.2L1471.2 587.1L1471.3 612.7L1471.3 554.6L1471.3 626.1L1471.5 588.3L1471.5 617.2L1471.7 556.8L1471.7 626.2L1471.7 606.0L1471.8 633.8L1471.9 569.2L1472.0 638.1L1472.0 594.6L1472.0 607.1L1472.1 616.9L1472.2 569.0L1472.3 617.1L1472.4 559.9L1472.4 632.6L1472.5 602.4L1472.5 605.4L1472.6 537.4L1472.7 633.4L1472.7 601.2L1472.8 581.4L1472.8 628.0L1472.9 563.8L1473.0 614.1L1473.0 578.8L1473.1 630.8L1473.1 561.5L1473.2 616.2L1473.3 624.6L1473.4 637.3L1473.5 568.5L1473.5 581.9L1473.6 609.2L1473.7 574.4L1473.7 606.7L1473.8 609.8L1473.8 565.8L1473.9 632.4L1474.0 586.0L1474.0 612.0L1474.0 629.9L1474.2 530.1L1474.2 601.6L1474.3 625.6L1474.4 557.2L1474.4 633.3L1474.5 610.3L1474.5 638.3L1474.7 566.0L1474.7 621.2L1474.8 579.5L1474.9 578.4L1475.0 630.3L1475.0 616.8L1475.0 606.4L1475.1 632.3L1475.2 544.0L1475.3 596.0L1475.4 561.2L1475.4 636.3L1475.5 618.7L1475.5 540.1L1475.7 618.9L1475.7 597.1L1475.8 600.8L1475.9 570.4L1476.0 630.3L1476.0 603.3L1476.1 573.4L1476.2 636.5L1476.2 586.5L1476.3 578.1L1476.4 552.9L1476.4 622.8L1476.5 567.5L1476.5 529.2L1476.5 634.2L1476.7 558.9L1476.8 567.6L1476.8 622.4L1477.0 558.1L1477.0 590.5L1477.0 567.8L1477.1 620.3L1477.1 538.0L1477.2 592.8L1477.3 543.9L1477.3 629.4L1477.5 617.6L1477.5 582.7L1477.5 573.4L1477.7 633.8L1477.7 603.6L1477.8 568.0L1477.8 626.8L1478.0 575.0L1478.0 585.3L1478.1 634.0L1478.1 557.7L1478.2 571.8L1478.3 583.6L1478.3 556.3L1478.4 628.2L1478.5 580.8L1478.5 614.7L1478.5 628.3L1478.6 561.9L1478.7 591.1L1478.8 637.3L1479.0 567.4L1479.0 579.0L1479.0 552.4L1479.2 627.9L1479.2 571.1L1479.3 606.9L1479.3 552.6L1479.4 624.9L1479.5 570.9L1479.5 570.6L1479.6 626.2L1479.6 555.2L1479.7 582.6L1479.8 623.2L1479.9 552.8L1480.0 593.0L1480.0 576.3L1480.1 538.0L1480.2 627.8L1480.2 605.0L1480.3 607.4L1480.3 540.4L1480.4 617.8L1480.5 612.0L1480.5 590.5L1480.6 560.0L1480.7 625.4L1480.7 597.4L1480.8 589.7L1480.8 610.9L1481.0 564.0L1481.0 603.5L1481.0 543.0L1481.1 610.4L1481.2 589.0L1481.3 621.9L1481.4 633.3L1481.4 573.9L1481.5 605.0L1481.5 619.2L1481.6 559.0L1481.6 624.8L1481.7 587.7L1481.8 590.2L1481.9 572.8L1481.9 623.9L1482.0 603.5L1482.0 616.7L1482.2 632.7L1482.2 579.4L1482.3 591.6L1482.4 630.1L1482.4 562.6L1482.5 600.9L1482.5 547.1L1482.7 615.5L1482.8 527.1L1482.8 632.6L1483.0 607.4L1483.0 537.1L1483.1 636.5L1483.2 613.3L1483.3 590.6L1483.4 631.2L1483.4 560.0L1483.5 568.6L1483.5 606.4L1483.5 537.0L1483.7 625.7L1483.8 599.1L1483.9 551.6L1484.0 620.6L1484.0 602.4L1484.2 610.7L1484.2 544.9L1484.2 575.3L1484.3 557.1L1484.4 621.8L1484.5 561.8L1484.5 565.5L1484.6 631.2L1484.7 549.2L1484.8 566.6L1484.8 549.7L1485.0 615.7L1485.0 600.4L1485.1 573.0L1485.2 632.4L1485.2 615.0L1485.3 594.4L1485.3 555.1L1485.3 630.8L1485.5 605.4L1485.5 576.0L1485.6 622.4L1485.7 557.5L1485.7 566.2L1485.8 629.5L1485.8 565.0L1486.0 575.4L1486.0 620.6L1486.1 564.8L1486.2 622.8L1486.2 610.0L1486.3 605.3L1486.4 631.3L1486.4 554.1L1486.5 590.6L1486.5 637.0L1486.7 551.3L1486.8 595.6L1486.8 603.6L1487.0 553.9L1487.0 596.3L1487.0 597.1L1487.1 555.6L1487.2 630.9L1487.2 606.7L1487.3 564.1L1487.3 556.1L1487.4 625.9L1487.5 582.8L1487.5 602.9L1487.6 628.0L1487.7 564.2L1487.7 620.8L1487.8 564.5L1487.8 553.7L1487.9 634.8L1488.0 566.1L1488.0 598.3L1488.1 563.8L1488.2 611.5L1488.2 596.0L1488.3 585.6L1488.4 626.7L1488.4 526.5L1488.5 576.7L1488.5 638.5L1488.6 536.9L1488.7 585.3L1488.8 585.9L1488.8 616.5L1488.9 547.3L1489.0 608.9L1489.0 580.5L1489.0 629.9L1489.2 559.0L1489.2 585.2L1489.3 578.4L1489.3 638.9L1489.4 567.0L1489.5 606.8L1489.5 585.8L1489.6 560.5L1489.6 615.8L1489.7 579.9L1489.8 608.8L1489.8 557.9L1489.9 631.5L1490.0 570.1L1490.0 599.0L1490.0 623.5L1490.2 577.1L1490.2 595.8L1490.3 594.7L1490.4 551.3L1490.4 619.6L1490.5 594.0L1490.5 622.8L1490.7 553.1L1490.7 601.6L1490.8 597.4L1490.8 632.0L1490.9 570.0L1491.0 598.6L1491.0 629.4L1491.1 547.4L1491.1 631.8L1491.2 613.6L1491.3 597.9L1491.3 564.1L1491.4 623.6L1491.5 604.8L1491.5 597.4L1491.5 549.6L1491.7 628.8L1491.8 586.1L1491.8 567.6L1492.0 632.1L1492.0 608.5L1492.0 556.3L1492.1 631.2L1492.2 588.9L1492.3 618.7L1492.3 584.1L1492.4 630.7L1492.5 603.6L1492.5 599.5L1492.6 547.0L1492.7 620.3L1492.7 606.9L1492.8 598.0L1492.9 524.4L1493.0 615.4L1493.0 566.6L1493.0 584.8L1493.0 565.4L1493.1 617.2L1493.2 609.3L1493.3 631.4L1493.4 636.8L1493.5 557.1L1493.5 578.2L1493.5 551.1L1493.6 628.7L1493.7 607.6L1493.8 577.5L1493.9 553.7L1493.9 615.1L1494.0 610.7L1494.0 630.5L1494.1 554.4L1494.2 592.4L1494.3 613.2L1494.3 558.4L1494.5 631.3L1494.5 591.3L1494.7 522.1L1494.7 628.4L1494.7 587.2L1494.8 617.0L1494.8 622.9L1494.9 558.3L1495.0 597.2L1495.0 600.3L1495.0 560.7L1495.1 630.5L1495.2 608.3L1495.3 599.4L1495.4 563.7L1495.4 630.4L1495.5 628.0L1495.5 617.3L1495.6 623.0L1495.7 565.4L1495.7 614.5L1495.8 578.5L1495.8 553.2L1495.8 632.6L1496.0 600.3L1496.0 597.2L1496.0 617.5L1496.1 567.3L1496.2 591.4L1496.3 603.5L1496.3 569.4L1496.4 615.8L1496.5 588.4L1496.5 633.0L1496.5 636.3L1496.6 554.0L1496.7 634.1L1496.8 582.3L1496.8 617.6L1496.9 563.7L1497.0 598.5L1497.0 572.2L1497.2 626.4L1497.2 532.4L1497.3 621.8L1497.3 549.8L1497.5 568.5L1497.5 588.8L1497.7 537.8L1497.7 623.6L1497.8 590.8L1497.8 630.4L1497.9 554.7L1498.0 609.2L1498.0 600.2L1498.1 634.0L1498.2 548.1L1498.2 617.6L1498.3 576.0L1498.4 562.4L1498.5 623.4L1498.5 594.4L1498.5 603.8L1498.5 623.3L1498.7 546.8L1498.7 574.6L1498.8 606.3L1498.8 635.2L1498.9 564.6L1499.0 589.6L1499.0 591.2L1499.1 632.4L1499.2 541.0L1499.2 607.0L1499.3 617.6L1499.3 554.6L1499.4 629.5L1499.5 587.1L1499.5 615.3L1499.6 562.5L1499.7 600.6L1499.8 597.1L1499.9 561.6L1500.0 605.2L1500.0 574.3L1500.0 589.5L1500.0 568.3L1500.2 626.2L1500.2 625.3L1500.3 604.0L1500.4 568.2L1500.4 619.8L1500.5 616.1L1500.5 559.6L1500.5 628.8L1500.7 558.4L1500.7 602.8L1500.8 585.7L1500.8 626.5L1500.9 528.1L1501.0 585.8L1501.0 590.8L1501.2 624.8L1501.2 553.2L1501.2 608.7L1501.3 579.3L1501.4 536.0L1501.4 632.7L1501.5 621.2L1501.5 608.2L1501.5 556.2L1501.7 627.8L1501.7 604.2L1501.8 555.5L1501.9 554.0L1502.0 612.9L1502.0 617.7L1502.1 626.9L1502.1 564.2L1502.2 568.7L1502.3 601.8L1502.4 554.6L1502.5 627.1L1502.5 594.6L1502.5 595.8L1502.6 611.2L1502.7 547.3L1502.7 588.5L1502.8 619.2L1503.0 535.8L1503.0 638.2L1503.0 561.8L1503.2 615.1L1503.2 569.5L1503.3 598.5L1503.4 551.0L1503.4 634.7L1503.5 594.7L1503.5 568.8L1503.6 633.1L1503.7 559.3L1503.7 564.1L1503.8 568.8L1503.8 564.7L1503.9 624.1L1504.0 569.0L1504.0 579.8L1504.1 621.6L1504.1 558.4L1504.2 602.6L1504.3 563.8L1504.3 546.6L1504.3 614.5L1504.5 588.0L1504.5 607.5L1504.5 630.5L1504.6 552.5L1504.7 583.7L1504.8 596.2L1504.8 559.8L1504.9 625.4L1505.0 597.0L1505.0 623.5L1505.2 551.6L1505.2 617.4L1505.3 571.9L1505.4 630.5L1505.5 554.1L1505.5 575.5L1505.5 618.2L1505.6 546.4L1505.7 560.0L1505.8 624.1L1505.8 548.8L1506.0 594.2L1506.0 596.1L1506.1 624.9L1506.1 565.5L1506.2 574.3L1506.3 579.6L1506.3 627.4L1506.5 546.8L1506.5 553.7L1506.7 632.4L1506.7 532.1L1506.7 554.1L1506.8 599.1L1506.8 617.3L1506.9 560.9L1507.0 586.1L1507.0 616.5L1507.0 631.7L1507.1 543.1L1507.2 626.3L1507.3 590.4L1507.3 624.0L1507.4 560.0L1507.5 594.6L1507.5 634.2L1507.6 564.2L1507.7 591.4L1507.8 609.5L1507.9 559.2L1508.0 627.8L1508.0 606.2L1508.0 627.9L1508.1 556.9L1508.2 599.3L1508.3 565.2L1508.4 627.8L1508.5 547.3L1508.5 623.2L1508.5 614.0L1508.5 555.5L1508.7 626.5L1508.7 564.3L1508.8 584.2L1508.8 613.8L1509.0 546.7L1509.0 583.8L1509.0 560.9L1509.1 626.1L1509.2 557.7L1509.2 598.6L1509.3 552.7L1509.4 625.6L1509.5 593.8L1509.5 571.2L1509.7 545.3L1509.7 626.0L1509.8 595.2L1509.9 618.1L1509.9 555.1L1510.0 613.3L1510.0 602.6L1510.0 623.4L1510.1 556.6L1510.2 579.4L1510.3 607.1L1510.4 547.9L1510.5 631.2L1510.5 574.3L1510.6 549.2L1510.7 603.1L1510.7 565.9L1510.8 574.3L1510.8 605.2L1510.9 555.6L1511.0 570.3L1511.0 573.4L1511.2 544.0L1511.2 619.2L1511.3 584.5L1511.3 622.8L1511.4 545.4L1511.5 593.1L1511.5 581.2L1511.7 616.3L1511.7 560.8L1511.7 600.8L1511.8 561.4L1511.8 608.6L1512.0 545.1L1512.0 606.4L1512.0 613.9L1512.0 541.8L1512.1 619.0L1512.2 597.0L1512.3 616.3L1512.5 546.1L1512.5 597.0L1512.5 578.1L1512.5 616.6L1512.7 550.8L1512.7 576.3L1512.8 565.3L1512.9 619.6L1513.0 569.0L1513.0 589.4L1513.1 614.2L1513.2 548.6L1513.2 571.2L1513.3 606.2L1513.4 562.8L1513.4 621.9L1513.5 591.3L1513.5 566.9L1513.7 614.8L1513.7 543.5L1513.7 563.7L1513.8 613.2L1513.8 613.7L1513.8 572.2L1514.0 588.1L1514.0 582.9L1514.1 619.9L1514.2 548.3L1514.2 617.8L1514.3 574.9L1514.3 541.9L1514.4 605.3L1514.5 584.5L1514.5 566.0L1514.5 616.5L1514.7 551.7L1514.7 601.1L1514.8 573.2L1514.8 607.2L1514.9 542.0L1515.0 590.7L1515.0 554.5L1515.2 601.8L1515.2 535.0L1515.3 567.4L1515.3 611.2L1515.3 556.4L1515.5 592.0L1515.5 586.3L1515.6 611.0L1515.6 552.1L1515.7 568.0L1515.8 552.8L1515.9 544.0L1515.9 613.8L1516.0 581.0L1516.0 608.5L1516.0 546.9L1516.2 612.0L1516.2 582.9L1516.3 581.3L1516.4 545.3L1516.5 602.7L1516.5 565.1L1516.5 591.3L1516.5 547.3L1516.6 594.8L1516.7 577.9L1516.8 609.0L1516.9 613.1L1517.0 538.4L1517.0 569.4L1517.1 561.7L1517.2 609.2L1517.2 567.8L1517.3 556.0L1517.3 550.4L1517.3 614.8L1517.5 588.3L1517.5 600.5L1517.7 614.6L1517.7 542.5L1517.7 594.6L1517.8 590.9L1517.8 553.5L1517.8 617.8L1518.0 585.5L1518.0 575.6L1518.2 612.4L1518.2 546.9L1518.3 592.8L1518.4 536.7L1518.5 614.6L1518.5 563.0L1518.5 585.0L1518.5 611.1L1518.7 532.4L1518.7 548.3L1518.8 601.1L1518.9 534.5L1518.9 607.6L1519.0 594.6L1519.0 541.2L1519.1 609.7L1519.2 502.3L1519.2 571.0L1519.3 613.3L1519.3 541.1L1519.5 581.3L1519.5 568.7L1519.6 618.4L1519.7 549.3L1519.7 558.0L1519.8 594.3L1519.9 613.4L1520.0 540.4L1520.0 607.3L1520.1 613.8L1520.2 538.3L1520.2 606.3L1520.3 570.3L1520.4 612.7L1520.4 544.2L1520.5 551.0L1520.5 554.1L1520.6 605.5L1520.6 537.0L1520.7 581.0L1520.8 551.3L1520.8 539.3L1521.0 612.2L1521.0 600.1L1521.0 601.0L1521.2 549.4L1521.2 567.4L1521.3 598.3L1521.3 601.3L1521.4 535.0L1521.5 575.7L1521.5 602.5L1521.6 538.1L1521.7 551.2L1521.8 612.6L1521.9 617.0L1522.0 552.4L1522.0 588.4L1522.0 561.7L1522.1 614.4L1522.2 535.1L1522.3 588.2L1522.3 556.8L1522.3 614.5L1522.5 573.8L1522.5 547.5L1522.7 535.8L1522.7 603.3L1522.7 583.7L1522.8 581.7L1522.8 538.0L1522.8 614.0L1523.0 567.2L1523.0 578.4L1523.2 613.6L1523.2 534.6L1523.3 576.0L1523.3 603.0L1523.5 533.1L1523.5 581.7L1523.5 576.0L1523.6 550.7L1523.7 610.9L1523.7 596.8L1523.8 565.3L1523.9 526.1L1524.0 617.5L1524.0 608.2L1524.0 581.1L1524.1 613.4L1524.2 542.1L1524.2 598.0L1524.3 540.9L1524.3 614.2L1524.3 521.4L1524.5 561.8L1524.5 611.5L1524.5 547.8L1524.7 582.8L1524.8 627.4L1524.8 534.2L1525.0 580.9L1525.0 539.2L1525.2 620.1L1525.2 563.2L1525.3 533.5L1525.3 610.1L1525.5 559.4L1525.5 556.0L1525.6 532.9L1525.6 587.2L1525.7 574.2L1525.8 581.3L1525.8 614.9L1526.0 506.0L1526.0 571.3L1526.0 600.1L1526.2 609.4L1526.2 532.3L1526.2 572.7L1526.3 602.3L1526.4 617.6L1526.4 544.4L1526.5 605.1L1526.5 574.7L1526.6 607.0L1526.6 536.9L1526.7 583.5L1526.8 567.1L1526.8 600.4L1527.0 547.6L1527.0 583.4L1527.0 541.8L1527.1 610.2L1527.2 532.3L1527.2 567.2L1527.3 539.8L1527.4 612.3L1527.5 587.1L1527.5 541.5L1527.6 532.6L1527.6 616.0L1527.7 601.5L1527.8 592.3L1527.8 611.1L1527.9 543.9L1528.0 547.7L1528.0 582.5L1528.1 613.9L1528.2 528.9L1528.2 576.2L1528.3 604.9L1528.3 530.6L1528.4 612.7L1528.5 566.0L1528.5 563.6L1528.5 607.3L1528.6 532.8L1528.7 566.0L1528.8 569.5L1528.9 530.2L1528.9 609.1L1529.0 541.3L1529.0 583.6L1529.0 603.1L1529.1 531.6L1529.2 554.7L1529.3 589.5L1529.3 534.2L1529.3 614.4L1529.5 571.9L1529.5 548.1L1529.5 609.6L1529.7 538.5L1529.8 561.3L1529.8 533.7L1530.0 602.3L1530.0 595.2L1530.0 551.5L1530.0 612.0L1530.2 536.4L1530.2 560.1L1530.3 577.8L1530.3 536.4L1530.4 613.1L1530.5 586.5L1530.5 560.3L1530.5 615.6L1530.6 545.2L1530.7 593.8L1530.8 602.1L1530.9 535.2L1530.9 612.9L1531.0 597.7L1531.0 612.4L1531.2 543.0L1531.2 608.4L1531.3 561.2L1531.4 542.4L1531.5 612.0L1531.5 549.1L1531.5 564.0L1531.7 603.1L1531.7 513.8L1531.7 564.6L1531.8 543.6L1531.8 625.8L1531.9 531.4L1532.0 617.7L1532.0 550.7L1532.1 533.2L1532.2 615.7L1532.2 559.7L1532.3 559.0L1532.3 611.8L1532.5 529.1L1532.5 611.7L1532.5 573.4L1532.6 611.0L1532.7 530.7L1532.7 589.2L1532.8 585.8L1532.8 531.3L1532.9 604.7L1533.0 533.9L1533.0 564.6L1533.0 543.1L1533.1 613.9L1533.2 589.5L1533.3 591.2L1533.4 614.2L1533.4 558.8L1533.5 567.8L1533.5 557.7L1533.5 614.2L1533.7 530.4L1533.7 552.6L1533.8 539.0L1534.0 609.4L1534.0 543.0L1534.0 598.7L1534.1 532.6L1534.2 613.1L1534.2 539.9L1534.3 600.5L1534.4 603.8L1534.5 532.0L1534.5 596.4L1534.5 548.3L1534.7 611.7L1534.7 529.1L1534.7 561.3L1534.8 575.5L1534.8 538.2L1535.0 603.3L1535.0 568.4L1535.1 535.0L1535.2 607.5L1535.2 572.8L1535.3 609.5L1535.3 533.6L1535.5 534.5L1535.5 595.8L1535.7 509.1L1535.7 616.7L1535.7 557.0L1535.8 615.4L1536.0 505.9L1536.0 538.5L1536.0 598.0L1536.1 528.2L1536.2 599.2L1536.2 586.9L1536.3 601.0L1536.4 544.6L1536.4 613.8L1536.5 578.3L1536.5 578.4L1536.5 534.9L1536.6 608.1L1536.7 556.1L1536.8 617.7L1536.9 520.1L1537.0 552.9L1537.0 603.7L1537.0 539.6L1537.2 606.2L1537.2 549.7L1537.3 560.0L1537.3 527.0L1537.4 614.4L1537.5 562.0L1537.5 581.8L1537.6 600.7L1537.7 526.6L1537.8 545.0L1537.8 615.7L1537.9 538.2L1538.0 598.5L1538.0 576.4L1538.1 527.2L1538.2 617.9L1538.2 610.2L1538.3 600.4L1538.3 607.0L1538.5 528.0L1538.5 597.4L1538.6 614.4L1538.6 527.4L1538.7 571.9L1538.8 597.1L1538.8 536.9L1538.9 605.6L1539.0 552.3L1539.0 577.1L1539.0 612.9L1539.0 529.5L1539.2 561.3L1539.3 606.2L1539.4 612.7L1539.5 533.5L1539.5 585.6L1539.6 615.7L1539.6 545.2L1539.7 564.1L1539.8 556.7L1539.9 612.5L1540.0 520.5L1540.0 522.3L1540.0 562.6L1540.0 603.2L1540.0 527.6L1540.2 598.7L1540.3 556.8L1540.3 525.2L1540.4 604.6L1540.5 549.5L1540.5 587.5L1540.6 603.2L1540.7 525.5L1540.7 586.8L1540.8 567.0L1540.9 536.6L1541.0 603.0L1541.0 537.5L1541.0 587.8L1541.2 607.3L1541.2 528.5L1541.3 570.7L1541.4 531.8L1541.5 608.0L1541.5 588.6L1541.5 532.6L1541.6 603.3L1541.6 506.4L1541.7 568.2L1541.8 548.3L1541.8 599.2L1542.0 569.7L1542.0 569.9L1542.1 536.4L1542.2 608.1L1542.2 603.9L1542.3 600.6L1542.3 500.1L1542.4 601.1L1542.5 571.6L1542.5 576.6L1542.7 585.7L1542.7 525.7L1542.7 526.2L1542.8 559.9L1542.8 603.3L1542.9 522.9L1543.0 584.3L1543.0 585.6L1543.1 623.5L1543.2 538.2L1543.2 581.4L1543.3 581.6L1543.3 603.4L1543.5 530.8L1543.5 543.8L1543.5 579.4L1543.6 605.0L1543.7 525.9L1543.8 569.1L1543.8 541.3L1543.9 606.4L1544.0 572.7L1544.0 541.7L1544.0 585.2L1544.1 529.7L1544.2 553.0L1544.3 551.7L1544.3 529.9L1544.5 596.1L1544.5 537.8L1544.5 531.4L1544.7 602.3L1544.7 544.2L1544.8 540.2L1544.8 539.6L1545.0 610.5L1545.0 568.8L1545.0 564.6L1545.0 595.4L1545.1 524.9L1545.2 554.5L1545.3 532.8L1545.4 588.0L1545.5 579.5L1545.5 606.4L1545.6 519.7L1545.7 558.8L1545.8 560.1L1545.8 597.0L1545.9 501.4L1546.0 548.1L1546.0 552.3L1546.1 517.6L1546.1 603.3L1546.2 602.4L1546.3 587.7L1546.4 536.1L1546.5 605.4L1546.5 546.3L1546.6 601.7L1546.6 531.3L1546.7 576.8L1546.8 530.7L1546.9 603.2L1547.0 524.1L1547.0 546.1L1547.0 594.8L1547.1 595.2L1547.1 541.1L1547.2 563.2L1547.3 596.4L1547.3 532.4L1547.5 547.2L1547.5 540.4L1547.6 602.4L1547.7 526.6L1547.7 590.8L1547.8 576.5L1547.8 595.8L1547.8 515.7L1548.0 578.7L1548.0 579.7L1548.1 603.1L1548.2 516.8L1548.2 570.4L1548.3 579.8L1548.3 535.7L1548.4 601.4L1548.5 574.2L1548.5 548.8L1548.7 599.3L1548.7 522.6L1548.7 583.4L1548.8 533.9L1548.8 518.3L1548.9 597.0L1549.0 581.4L1549.0 588.8L1549.1 528.3L1549.2 543.5L1549.3 530.6L1549.3 527.7L1549.4 597.8L1549.5 540.2L1549.5 563.9L1549.5 596.1L1549.6 534.3L1549.7 579.7L1549.8 567.8L1549.8 512.2L1549.9 593.6L1550.0 524.0L1550.0 563.4L1550.0 520.0L1550.1 594.8L1550.2 559.9L1550.3 579.6L1550.3 533.6L1550.4 588.1L1550.5 540.5L1550.5 554.7L1550.6 583.7L1550.6 521.7L1550.7 568.5L1550.8 541.2L1550.9 590.1L1550.9 511.5L1551.0 526.7L1551.0 578.8L1551.1 601.9L1551.2 519.2L1551.3 563.6L1551.3 573.5L1551.5 494.8L1551.5 544.0L1551.5 565.4L1551.6 502.3L1551.7 583.9L1551.7 526.5L1551.8 504.8L1551.8 581.1L1552.0 510.7L1552.0 561.8L1552.1 569.5L1552.2 498.7L1552.2 526.7L1552.3 563.9L1552.4 499.6L1552.5 575.8L1552.5 553.0L1552.5 538.0L1552.5 583.5L1552.6 504.7L1552.7 526.0L1552.8 569.5L1552.9 503.1L1553.0 571.0L1553.0 541.1L1553.0 502.8L1553.2 570.0L1553.2 513.1L1553.3 579.3L1553.3 585.8L1553.3 499.6L1553.5 517.0L1553.5 570.6L1553.7 580.2L1553.7 498.1L1553.8 499.1L1553.9 581.4L1553.9 497.7L1554.0 580.2L1554.0 523.1L1554.1 568.7L1554.1 505.6L1554.2 517.6L1554.3 575.6L1554.4 504.3L1554.5 581.4L1554.5 570.8L1554.5 538.2L1554.6 594.6L1554.6 499.5L1554.7 555.4L1554.8 521.3L1554.9 504.6L1555.0 571.9L1555.0 531.6L1555.0 552.7L1555.2 500.8L1555.2 574.6L1555.2 539.7L1555.3 557.1L1555.4 500.5L1555.4 573.4L1555.5 530.8L1555.5 544.9L1555.6 507.6L1555.7 576.9L1555.7 576.7L1555.8 557.8L1555.9 577.1L1556.0 509.3L1556.0 535.1L1556.1 570.1L1556.2 500.7L1556.2 529.7L1556.3 534.8L1556.3 486.6L1556.4 574.8L1556.5 525.3L1556.5 522.1L1556.7 504.0L1556.7 589.6L1556.8 508.4L1556.8 581.1L1557.0 500.3L1557.0 540.0L1557.0 580.3L1557.0 501.6L1557.2 502.9L1557.3 524.1L1557.3 578.7L1557.4 513.1L1557.5 533.0L1557.5 479.3L1557.6 408.2L1557.6 580.6L1557.7 542.0L1557.8 583.1L1558.0 512.3L1558.0 540.1L1558.0 533.0L1558.1 579.5L1558.2 504.6L1558.2 519.2L1558.3 536.3L1558.3 580.1L1558.3 513.7L1558.5 547.6L1558.5 560.6L1558.5 491.8L1558.7 573.3L1558.7 549.9L1558.8 529.4L1558.8 498.0L1558.8 582.3L1559.0 552.0L1559.0 503.8L1559.2 573.6L1559.2 501.6L1559.2 531.9L1559.3 546.8L1559.4 579.2L1559.4 502.2L1559.5 562.0L1559.5 536.7L1559.7 581.1L1559.7 502.1L1559.8 544.7L1559.9 517.9L1559.9 580.0L1560.0 533.8L1560.0 569.4L1560.0 512.7L1560.1 576.5L1560.2 567.6L1560.3 511.7L1560.3 495.0L1560.5 556.3L1560.5 530.4L1560.5 553.2L1560.6 574.4L1560.7 517.1L1560.7 561.4L1560.8 566.9L1560.8 576.4L1561.0 500.7L1561.0 545.3L1561.0 519.1L1561.1 513.3L1561.2 575.2L1561.2 522.3L1561.3 540.4L1561.4 504.8L1561.4 577.8L1561.5 538.3L1561.5 511.1L1561.6 578.3L1561.7 519.3L1561.8 547.6L1561.8 502.9L1562.0 580.6L1562.0 548.6L1562.0 542.9L1562.2 564.6L1562.2 518.4L1562.2 543.3L1562.3 521.2L1562.3 579.0L1562.5 507.3L1562.5 527.8L1562.5 558.3L1562.6 488.2L1562.6 575.5L1562.7 545.5L1562.8 529.1L1562.8 514.1L1562.9 577.7L1563.0 547.7L1563.0 534.4L1563.1 503.7L1563.2 566.1L1563.3 546.4L1563.4 507.9L1563.5 575.1L1563.5 524.6L1563.5 534.1L1563.7 520.5L1563.7 578.5L1563.7 572.4L1563.8 488.6L1563.9 571.6L1564.0 542.0L1564.0 567.0L1564.1 503.7L1564.2 523.3L1564.3 534.9L1564.3 576.0L1564.4 502.3L1564.5 547.2L1564.5 523.4L1564.7 501.3L1564.7 575.9L1564.7 569.8L1564.8 545.0L1564.8 578.7L1564.9 500.5L1565.0 576.9L1565.0 567.3L1565.2 568.6L1565.2 501.8L1565.2 514.0L1565.3 530.7L1565.4 572.3L1565.5 490.2L1565.5 520.0L1565.5 535.6L1565.6 483.1L1565.7 569.7L1565.7 517.9L1565.8 569.5L1565.8 571.6L1565.9 512.4L1566.0 537.1L1566.0 538.7L1566.0 502.4L1566.0 577.3L1566.2 516.6L1566.3 544.8L1566.4 573.5L1566.5 498.1L1566.5 526.7L1566.5 534.6L1566.5 575.3L1566.7 505.5L1566.8 536.6L1566.9 502.0L1567.0 573.4L1567.0 543.0L1567.0 543.5L1567.2 572.7L1567.2 472.5L1567.3 532.9L1567.3 506.5L1567.5 573.6L1567.5 533.6L1567.5 539.5L1567.5 561.4L1567.6 500.3L1567.7 521.1L1567.8 570.4L1567.8 504.9L1567.9 570.6L1568.0 509.0L1568.0 519.7L1568.1 470.6L1568.2 564.3L1568.3 549.0L1568.3 572.9L1568.3 499.8L1568.5 523.4L1568.5 502.5L1568.7 581.8L1568.8 519.1L1568.8 501.8L1568.8 575.9L1569.0 513.6L1569.0 563.4L1569.1 580.7L1569.1 507.0L1569.2 567.6L1569.3 539.0L1569.3 515.5L1569.4 575.3L1569.5 524.9L1569.5 548.7L1569.6 503.5L1569.7 572.6L1569.7 520.2L1569.8 496.6L1569.9 576.1L1570.0 539.6L1570.0 556.7L1570.2 511.1L1570.2 574.5L1570.2 553.7L1570.3 548.2L1570.3 574.7L1570.4 506.5L1570.5 539.1L1570.5 518.7L1570.6 495.7L1570.7 576.6L1570.7 546.1L1570.8 538.0L1570.8 579.1L1570.8 514.9L1571.0 575.9L1571.0 511.1L1571.2 577.7L1571.2 502.1L1571.3 573.6L1571.3 576.5L1571.4 513.7L1571.5 552.1L1571.5 550.8L1571.6 572.8L1571.7 502.3L1571.7 534.4L1571.8 512.3L1571.8 496.2L1571.9 567.4L1572.0 565.2L1572.0 567.7L1572.1 503.0L1572.1 575.9L1572.2 566.9L1572.3 503.9L1572.3 580.9L1572.4 496.5L1572.5 519.2L1572.5 539.1L1572.5 503.8L1572.7 562.8L1572.7 542.4L1572.8 502.6L1572.8 575.5L1572.8 493.7L1573.0 516.1L1573.0 545.7L1573.1 495.1L1573.1 577.3L1573.2 515.0L1573.3 544.5L1573.3 577.2L1573.4 499.9L1573.5 556.3L1573.5 534.4L1573.6 575.5L1573.7 492.8L1573.7 541.8L1573.8 561.2L1573.8 497.6L1574.0 572.7L1574.0 504.2L1574.0 538.0L1574.2 571.1L1574.2 493.3L1574.3 551.2L1574.4 492.6L1574.5 577.4L1574.5 523.8L1574.5 480.4L1574.7 573.2L1574.7 546.6L1574.8 557.4L1574.8 567.8L1574.9 494.3L1575.0 513.3L1575.0 519.5L1575.1 576.7L1575.2 505.8L1575.2 525.7L1575.3 537.3L1575.3 507.6L1575.5 583.7L1575.5 548.9L1575.5 540.5L1575.6 576.8L1575.6 499.4L1575.7 557.3L1575.8 550.3L1575.8 576.6L1575.9 493.2L1576.0 573.7L1576.0 532.7L1576.1 498.2L1576.2 561.7L1576.2 522.7L1576.3 548.2L1576.4 490.8L1576.5 569.9L1576.5 513.5L1576.5 561.6L1576.7 491.3L1576.7 572.4L1576.7 551.1L1576.8 529.4L1576.8 574.6L1576.8 506.4L1577.0 549.3L1577.0 545.5L1577.2 499.5L1577.2 577.8L1577.2 542.2L1577.3 571.5L1577.4 480.9L1577.5 552.5L1577.5 513.7L1577.7 576.2L1577.7 314.9L1577.7 545.1L1577.8 505.2L1577.9 573.0L1578.0 488.1L1578.0 568.7L1578.0 550.3L1578.0 494.6L1578.1 566.7L1578.2 559.9L1578.3 538.0L1578.4 489.3L1578.5 581.0L1578.5 569.6L1578.5 576.8L1578.7 491.4L1578.7 522.5L1578.8 546.9L1578.9 502.5L1579.0 578.4L1579.0 545.5L1579.1 493.8L1579.2 568.6L1579.2 527.0L1579.3 518.6L1579.4 575.9L1579.4 487.4L1579.5 545.0L1579.5 571.5L1579.5 486.6L1579.6 576.0L1579.7 515.8L1579.8 531.8L1580.0 487.7L1580.0 572.5L1580.0 528.1L1580.0 556.6L1580.2 576.1L1580.2 496.1L1580.3 532.3L1580.3 572.2L1580.4 492.9L1580.5 541.3L1580.5 538.2L1580.7 573.9L1580.7 486.3L1580.8 569.0L1580.9 484.7L1581.0 532.3L1581.0 486.5L1581.1 571.3L1581.2 558.1L1581.3 496.7L1581.4 572.9L1581.5 488.7L1581.5 501.4L1581.5 546.2L1581.5 567.2L1581.6 505.3L1581.7 513.9L1581.8 507.9L1581.9 575.3L1582.0 481.1L1582.0 499.8L1582.0 495.5L1582.0 469.7L1582.1 576.8L1582.2 550.6L1582.3 535.8L1582.3 563.8L1582.4 462.0L1582.5 524.2L1582.5 555.6L1582.6 492.7L1582.7 574.3L1582.7 511.3L1582.8 508.0L1583.0 571.1L1583.0 474.6L1583.0 549.4L1583.0 569.0L1583.1 486.2L1583.2 508.3L1583.3 496.9L1583.3 570.8L1583.5 485.9L1583.5 497.7L1583.5 508.4L1583.6 565.0L1583.7 456.9L1583.7 558.5L1583.8 514.5L1583.8 468.4L1584.0 564.8L1584.0 520.1L1584.0 552.7L1584.1 561.5L1584.1 478.4L1584.2 521.0L1584.3 526.0L1584.4 481.3L1584.4 569.5L1584.5 554.0L1584.5 549.3L1584.6 478.2L1584.6 568.4L1584.7 510.0L1584.8 522.1L1584.8 566.5L1584.9 486.4L1585.0 511.4L1585.0 506.7L1585.1 567.4L1585.2 481.0L1585.2 524.7L1585.3 538.3L1585.4 475.9L1585.4 567.9L1585.5 529.9L1585.5 505.7L1585.6 572.0L1585.7 460.5L1585.7 528.3L1585.8 492.2L1585.9 573.4L1585.9 476.2L1586.0 556.5L1586.0 495.1L1586.1 563.9L1586.2 461.5L1586.2 557.6L1586.3 561.6L1586.3 565.4L1586.4 476.9L1586.5 531.7L1586.5 530.8L1586.6 487.8L1586.6 559.6L1586.7 530.3L1586.8 549.9L1586.8 564.3L1586.8 474.7L1587.0 511.0L1587.0 537.3L1587.0 562.6L1587.2 478.5L1587.2 487.9L1587.3 499.4L1587.3 566.6L1587.3 476.8L1587.5 532.4L1587.5 543.0L1587.6 562.3L1587.6 450.6L1587.7 515.8L1587.8 530.0L1587.9 562.6L1587.9 472.5L1588.0 507.0L1588.0 475.9L1588.1 474.4L1588.2 557.9L1588.2 496.4L1588.3 507.3L1588.4 498.8L1588.5 552.7L1588.5 515.0L1588.5 555.3L1588.5 561.8L1588.6 474.1L1588.7 535.7L1588.8 481.1L1588.9 475.3L1588.9 552.9L1589.0 544.8L1589.0 536.2L1589.2 469.1L1589.2 558.0L1589.2 552.6L1589.3 517.7L1589.3 566.8L1589.3 432.8L1589.5 471.4L1589.5 508.2L1589.6 468.5L1589.7 567.4L1589.7 516.2L1589.8 507.7L1589.8 465.2L1590.0 549.5L1590.0 502.3L1590.0 544.1L1590.1 559.8L1590.2 465.4L1590.2 510.7L1590.3 544.9L1590.4 558.2L1590.5 477.6L1590.5 525.5L1590.5 544.5L1590.7 563.3L1590.7 460.1L1590.8 517.4L1590.8 562.3L1591.0 475.9L1591.0 521.8L1591.0 566.0L1591.1 475.5L1591.2 532.9L1591.3 499.1L1591.3 467.2L1591.4 557.4L1591.5 536.8L1591.5 479.3L1591.5 568.6L1591.6 477.7L1591.7 509.8L1591.8 532.9L1591.8 551.5L1591.9 480.2L1592.0 511.9L1592.0 477.9L1592.1 558.9L1592.2 477.6L1592.2 478.4L1592.3 552.8L1592.3 557.1L1592.4 470.5L1592.5 482.0L1592.5 500.5L1592.6 470.5L1592.6 558.1L1592.7 543.4L1592.8 552.2L1592.8 561.6L1592.9 468.8L1593.0 537.2L1593.0 539.8L1593.2 566.9L1593.2 470.5L1593.2 498.4L1593.3 515.5L1593.4 473.5L1593.5 554.4L1593.5 507.6L1593.5 523.6L1593.6 556.4L1593.7 469.4L1593.7 537.1L1593.8 490.6L1593.8 456.2L1594.0 551.0L1594.0 499.4L1594.1 461.4L1594.2 552.0L1594.2 474.5L1594.3 501.7L1594.3 466.5L1594.5 552.4L1594.5 525.7L1594.6 554.2L1594.6 467.2L1594.7 468.2L1594.8 536.1L1594.9 555.8L1594.9 489.7L1595.0 519.3L1595.0 482.8L1595.0 557.3L1595.1 465.9L1595.2 546.3L1595.3 506.4L1595.4 450.5L1595.5 563.5L1595.5 524.4L1595.5 495.1L1595.6 556.5L1595.6 453.6L1595.7 535.5L1595.8 520.5L1595.8 467.7L1595.9 551.4L1596.0 524.2L1596.0 524.1L1596.0 551.9L1596.2 465.2L1596.2 548.4L1596.3 471.6L1596.3 463.5L1596.3 557.7L1596.5 521.7L1596.5 538.2L1596.7 549.6L1596.7 469.5L1596.7 516.4L1596.8 484.6L1596.9 544.1L1596.9 469.4L1597.0 510.9L1597.0 538.1L1597.1 465.7L1597.2 551.8L1597.2 545.6L1597.3 508.3L1597.4 469.9L1597.4 556.0L1597.5 517.6L1597.5 496.0L1597.6 553.7L1597.7 480.3L1597.7 496.1L1597.8 520.6L1597.9 471.9L1597.9 550.0L1598.0 545.6L1598.0 513.7L1598.2 552.5L1598.2 475.3L1598.2 485.5L1598.3 503.9L1598.4 441.8L1598.4 536.8L1598.5 474.4L1598.5 525.7L1598.7 468.8L1598.7 553.4L1598.7 485.2L1598.8 546.6L1598.9 471.8L1599.0 552.0L1599.0 512.1L1599.0 500.4L1599.2 464.1L1599.2 554.5L1599.2 546.0L1599.3 493.3L1599.4 464.8L1599.5 548.9L1599.5 525.0L1599.5 521.0L1599.5 538.1L1599.5 465.9L1599.7 524.8L1599.8 537.2L1599.8 555.4L1599.9 468.7L1600.0 506.2L1600.0 491.4L1600.0 547.2L1600.1 464.0L1600.2 499.9L1600.3 532.8L1600.3 544.7L1600.4 443.6L1600.5 502.1L1600.5 550.2L1600.6 551.8L1600.7 466.9L1600.7 520.8L1600.8 515.8L1600.8 467.4L1600.9 539.5L1601.0 495.9L1601.0 544.8L1601.0 465.9L1601.1 557.5L1601.2 546.3L1601.3 496.0L1601.3 472.5L1601.4 535.0L1601.5 529.2L1601.5 519.6L1601.6 467.6L1601.6 545.0L1601.7 480.5L1601.8 500.8L1601.9 440.0L1602.0 547.7L1602.0 479.9L1602.0 536.5L1602.2 472.1L1602.2 544.7L1602.2 479.5L1602.3 463.7L1602.4 552.3L1602.5 512.2L1602.5 530.7L1602.6 553.5L1602.7 453.1L1602.7 519.9L1602.8 521.5L1602.9 460.3L1602.9 545.6L1603.0 534.9L1603.0 500.5L1603.0 551.9L1603.2 465.6L1603.2 488.3L1603.3 492.3L1603.4 549.0L1603.4 456.2L1603.5 532.8L1603.5 485.6L1603.6 544.7L1603.6 462.9L1603.7 521.4L1603.8 539.5L1603.8 464.9L1603.8 549.4L1604.0 517.4L1604.0 492.2L1604.1 464.2L1604.2 542.3L1604.2 535.9L1604.3 537.1L1604.3 543.2L1604.4 473.1L1604.5 490.4L1604.5 489.0L1604.5 465.8L1604.6 540.5L1604.7 520.5L1604.8 491.6L1604.8 463.4L1604.8 551.6L1605.0 499.2L1605.0 495.0L1605.1 541.8L1605.2 467.0L1605.2 519.5L1605.3 465.5L1605.4 454.6L1605.5 551.5L1605.5 496.3L1605.5 460.0L1605.6 458.4L1605.7 547.6L1605.7 476.5L1605.8 502.7L1605.8 539.3L1605.8 463.9L1606.0 497.4L1606.0 503.8L1606.1 455.9L1606.1 548.9L1606.2 508.7L1606.3 467.6L1606.4 546.2L1606.4 464.1L1606.5 520.3L1606.5 281.6L1606.6 529.9L1606.7 475.3L1606.8 477.3L1606.8 451.9L1607.0 553.2L1607.0 517.8L1607.0 507.4L1607.0 471.5L1607.1 542.6L1607.2 533.5L1607.3 498.3L1607.3 458.2L1607.4 540.9L1607.5 501.5L1607.5 536.5L1607.5 539.3L1607.7 439.5L1607.7 469.3L1607.8 510.7L1607.8 455.6L1607.9 546.4L1608.0 456.0L1608.0 527.5L1608.2 551.2L1608.2 457.9L1608.3 514.1L1608.4 454.0L1608.5 543.9L1608.5 482.5L1608.5 458.5L1608.5 541.9L1608.7 495.4L1608.8 539.6L1608.9 460.4L1609.0 494.2L1609.0 459.0L1609.0 532.7L1609.2 455.0L1609.2 518.1L1609.3 481.7L1609.4 460.7L1609.4 542.6L1609.5 511.5L1609.5 492.9L1609.5 467.6L1609.6 544.3L1609.7 513.2L1609.8 468.5L1609.9 453.6L1609.9 540.0L1610.0 476.9L1610.0 496.9L1610.1 453.0L1610.2 544.1L1610.2 491.0L1610.3 522.0L1610.3 538.9L1610.5 459.7L1610.5 460.5L1610.6 544.1L1610.7 444.0L1610.7 502.9L1610.8 520.8L1610.9 538.1L1611.0 452.9L1611.0 505.3L1611.0 522.0L1611.1 546.1L1611.2 455.6L1611.2 469.8L1611.3 463.9L1611.3 458.1L1611.3 542.1L1611.5 484.6L1611.5 499.2L1611.7 537.9L1611.7 444.5L1611.7 520.7L1611.8 482.1L1611.8 440.7L1611.8 541.8L1612.0 520.7L1612.0 491.3L1612.1 539.1L1612.1 459.2L1612.2 512.3L1612.3 492.3L1612.3 545.5L1612.5 454.7L1612.5 518.7L1612.5 487.0L1612.6 547.5L1612.7 438.1L1612.7 448.9L1612.8 471.8L1612.9 547.4L1613.0 442.2L1613.0 459.3L1613.0 522.1L1613.0 449.8L1613.0 540.4L1613.2 468.9L1613.3 475.0L1613.3 531.9L1613.4 448.7L1613.5 455.8L1613.5 502.5L1613.6 450.0L1613.7 532.1L1613.7 456.6L1613.8 507.5L1613.8 447.5L1613.8 537.1L1614.0 536.1L1614.0 537.1L1614.0 545.8L1614.1 426.4L1614.2 533.9L1614.3 501.9L1614.3 546.1L1614.4 417.6L1614.5 472.4L1614.5 425.7L1614.6 545.7L1614.7 405.4L1614.7 544.1L1614.8 536.9L1614.8 544.0L1614.9 410.8L1615.0 486.4L1615.0 400.7L1615.1 545.2L1615.2 430.5L1615.3 538.5L1615.3 543.8L1615.5 382.0L1615.5 541.8L1615.5 543.6L1615.6 387.4L1615.7 515.0L1615.8 374.6L1615.8 542.4L1616.0 525.7L1616.0 463.6L1616.0 543.9L1616.2 367.6L1616.2 529.0L1616.3 371.5L1616.5 541.3L1616.5 521.5L1616.5 469.0L1616.6 540.7L1616.7 356.5L1616.7 538.8L1616.8 494.6L1616.8 542.1L1617.0 334.8L1617.0 537.0L1617.0 541.9L1617.2 327.0L1617.2 411.5L1617.3 482.8L1617.4 541.1L1617.4 327.9L1617.5 334.5L1617.5 522.3L1617.6 539.4L1617.6 318.0L1617.7 365.1L1617.8 510.6L1617.8 317.7L1617.9 540.8L1618.0 431.0L1618.0 472.1L1618.0 537.8L1618.2 296.8L1618.2 503.5L1618.3 374.0L1618.4 297.6L1618.5 540.0L1618.5 514.4L1618.5 418.9L1618.6 312.2L1618.7 539.7L1618.7 498.2L1618.8 395.4L1618.9 285.2L1618.9 538.5L1619.0 412.1L1619.0 492.9L1619.1 538.1L1619.2 273.7L1619.2 483.3L1619.3 530.6L1619.3 534.7L1619.4 258.6L1619.5 371.8L1619.5 420.0L1619.7 538.4L1619.7 253.1L1619.7 364.1L1619.8 369.2L1619.8 247.6L1619.9 538.3L1620.0 530.6L1620.0 524.5L1620.0 256.9L1620.2 533.5L1620.2 515.3L1620.3 397.9L1620.4 540.7L1620.5 264.9L1620.5 351.2L1620.5 472.1L1620.6 541.2L1620.7 262.7L1620.7 429.1L1620.8 537.9L1620.8 267.1L1620.9 539.6L1621.0 459.8L1621.0 327.7L1621.0 542.6L1621.2 257.1L1621.2 404.0L1621.3 256.6L1621.5 541.6L1621.5 445.3L1621.5 421.8L1621.5 263.4L1621.6 545.1L1621.7 425.6L1621.8 543.3L1621.8 266.6L1622.0 485.5L1622.0 449.3L1622.1 281.9L1622.2 543.2L1622.3 405.7L1622.3 287.9L1622.5 547.6L1622.5 437.0L1622.5 456.8L1622.5 548.2L1622.6 260.8L1622.7 382.4L1622.8 376.3L1622.8 261.7L1623.0 549.4L1623.0 463.7L1623.0 373.9L1623.1 550.0L1623.1 259.4L1623.2 546.3L1623.3 550.3L1623.4 551.6L1623.5 268.2L1623.5 459.5L1623.5 525.4L1623.5 552.2L1623.6 267.0L1623.7 419.0L1623.8 427.6L1623.9 286.9L1624.0 551.8L1624.0 448.3L1624.0 422.4L1624.0 270.5L1624.2 550.3L1624.3 292.7L1624.3 267.5L1624.4 551.6L1624.5 486.6L1624.5 419.4L1624.7 261.4L1624.7 544.1L1624.7 310.3L1624.8 454.6L1624.8 291.0L1625.0 549.9L1625.0 329.8L1625.0 516.6L1625.1 271.7L1625.2 534.0L1625.2 355.0L1625.3 308.5L1625.3 550.8L1625.3 257.1L1625.5 370.5L1625.5 486.0L1625.7 298.9L1625.7 550.5L1625.7 350.2L1625.8 439.5L1625.9 550.4L1625.9 259.2L1626.0 433.5L1626.0 470.2L1626.1 287.3L1626.2 548.5L1626.2 474.1L1626.3 500.8L1626.3 550.1L1626.3 264.9L1626.5 493.7L1626.5 397.7L1626.5 256.8L1626.7 549.5L1626.7 362.9L1626.8 535.6L1626.8 265.7L1626.9 545.8L1627.0 544.5L1627.0 361.5L1627.1 255.8L1627.2 549.4L1627.2 516.5L1627.3 382.8L1627.4 254.5L1627.4 545.2L1627.5 484.8L1627.5 451.2L1627.6 262.1L1627.6 547.4L1627.7 399.5L1627.8 528.4L1627.9 264.9L1627.9 548.7L1628.0 540.5L1628.0 478.4L1628.2 253.7L1628.2 543.5L1628.2 480.7L1628.3 386.5L1628.3 261.1L1628.5 545.5L1628.5 506.0L1628.5 549.0L1628.6 265.9L1628.7 396.7L1628.8 400.3L1628.8 256.8L1628.9 548.6L1629.0 501.0L1629.0 364.6L1629.1 254.3L1629.2 547.8L1629.2 542.4L1629.3 539.5L1629.3 263.6L1629.5 546.6L1629.5 540.5L1629.5 439.2L1629.5 268.2L1629.7 547.9L1629.7 492.0L1629.8 516.7L1629.8 252.3L1629.9 543.4L1630.0 471.5L1630.0 462.8L1630.1 257.7L1630.2 548.4L1630.2 545.8L1630.3 349.1L1630.3 548.3L1630.3 252.0L1630.5 315.8L1630.5 544.3L1630.6 547.4L1630.6 258.5L1630.7 385.4L1630.8 329.0L1630.8 543.8L1631.0 258.5L1631.0 335.2L1631.0 478.0L1631.1 547.8L1631.1 253.4L1631.2 532.7L1631.3 254.6L1631.4 550.6L1631.5 325.7L1631.5 541.6L1631.7 259.5L1631.7 552.5L1631.8 524.0L1631.8 551.6L1631.9 250.0L1632.0 314.4L1632.0 481.8L1632.1 552.6L1632.2 260.6L1632.2 407.4L1632.3 540.1L1632.3 266.4L1632.4 556.1L1632.5 412.3L1632.5 438.9L1632.5 556.7L1632.7 256.3L1632.7 486.6L1632.8 513.6L1632.8 559.1L1632.8 250.0L1633.0 554.2L1633.0 476.8L1633.1 562.0L1633.2 258.4L1633.2 261.3L1633.3 357.8L1633.3 553.9L1633.3 241.8L1633.5 460.3L1633.5 311.3L1633.5 563.1L1633.6 248.2L1633.7 477.2L1633.8 397.4L1633.9 257.3L1633.9 566.9L1634.0 506.5L1634.0 446.3L1634.1 563.6L1634.1 160.2L1634.2 270.4L1634.3 485.8L1634.4 567.4L1634.4 242.7L1634.5 492.5L1634.5 367.4L1634.5 270.2L1634.7 568.9L1634.7 546.6L1634.8 419.0L1634.9 574.8L1634.9 246.9L1635.0 349.4L1635.0 418.0L1635.0 575.6L1635.2 278.0L1635.2 310.8L1635.3 381.4L1635.3 236.8L1635.5 579.1L1635.5 485.2L1635.5 286.1L1635.6 240.1L1635.6 579.0L1635.7 261.9L1635.8 530.6L1635.8 581.0L1635.8 258.0L1636.0 400.4L1636.0 534.7L1636.1 254.8L1636.2 576.8L1636.2 366.2L1636.3 544.4L1636.3 578.3L1636.5 300.1L1636.5 424.4L1636.5 308.5L1636.7 294.3L1636.7 562.9L1636.7 512.1L1636.8 319.2L1636.8 575.3L1636.9 271.6L1637.0 335.9L1637.0 318.2L1637.1 579.3L1637.2 272.7L1637.2 503.5L1637.3 351.4L1637.3 274.8L1637.5 577.5L1637.5 374.2L1637.5 274.3L1637.7 566.9L1637.8 525.9L1637.8 283.1L1637.9 575.3L1638.0 341.4L1638.0 561.5L1638.1 272.9L1638.2 577.4L1638.2 489.3L1638.3 463.0L1638.3 272.0L1638.3 572.4L1638.5 378.9L1638.5 367.2L1638.7 576.0L1638.7 282.7L1638.7 436.6L1638.8 572.7L1638.8 290.5L1639.0 573.5L1639.0 395.0L1639.0 573.8L1639.1 575.4L1639.1 290.2L1639.2 308.7L1639.3 564.7L1639.3 576.2L1639.5 351.3L1639.5 464.7L1639.5 314.6L1639.5 575.9L1639.6 287.6L1639.7 497.9L1639.8 408.7L1639.9 278.0L1639.9 574.9L1640.0 559.3L1640.0 461.9L1640.1 574.5L1640.2 275.4L1640.2 571.2L1640.3 500.8L1640.3 577.6L1640.4 294.6L1640.5 447.4L1640.5 527.8L1640.5 578.9L1640.6 284.6L1640.7 357.7L1640.8 463.0L1640.8 579.2L1641.0 303.7L1641.0 557.3L1641.0 520.8L1641.1 285.2L1641.1 577.0L1641.2 435.7L1641.3 318.7L1641.4 294.0L1641.5 584.0L1641.5 554.2L1641.5 486.6L1641.5 581.6L1641.7 292.6L1641.7 531.8L1641.8 288.1L1641.9 587.0L1642.0 480.6L1642.0 407.1L1642.2 308.5L1642.2 580.3L1642.2 559.9L1642.3 577.0L1642.3 314.3L1642.4 591.4L1642.5 349.1L1642.5 518.4L1642.6 592.6L1642.7 296.6L1642.7 438.6L1642.8 593.2L1642.9 298.7L1643.0 414.3L1643.0 355.6L1643.1 315.1L1643.2 595.6L1643.3 306.5L1643.4 593.2L1643.5 457.5L1643.5 305.5L1643.7 597.5L1643.7 588.6L1643.8 593.9L1643.8 595.2L1643.8 310.0L1644.0 517.4L1644.0 413.5L1644.0 316.2L1644.1 600.0L1644.2 386.1L1644.3 334.1L1644.5 599.2L1644.5 521.0L1644.5 600.0L1644.5 602.1L1644.7 327.1L1644.7 553.3L1644.8 326.1L1644.9 601.5L1645.0 591.1L1645.0 601.0L1645.1 602.2L1645.1 331.7L1645.2 416.2L1645.3 531.9L1645.3 365.2L1645.4 599.9L1645.5 543.8L1645.5 603.3L1645.7 330.2L1645.7 527.9L1645.8 546.3L1645.9 604.6L1645.9 327.6L1646.0 525.8L1646.0 442.7L1646.1 605.1L1646.1 334.8L1646.2 600.2L1646.3 574.2L1646.4 606.9L1646.5 342.0L1646.5 426.3L1646.5 575.4L1646.5 337.2L1646.6 606.1L1646.7 558.2L1646.8 539.5L1647.0 608.0L1647.0 380.5L1647.0 466.6L1647.0 353.5L1647.1 607.5L1647.2 469.8L1647.3 384.5L1647.5 599.8L1647.5 353.3L1647.5 556.2L1647.5 609.6L1647.7 375.9L1647.7 610.5L1647.7 504.7L1647.8 412.6L1647.8 372.0L1648.0 605.7L1648.0 397.8L1648.0 554.7L1648.1 362.0L1648.2 610.9L1648.2 601.8L1648.3 408.6L1648.4 610.7L1648.5 390.5L1648.5 568.5L1648.5 511.7L1648.5 611.8L1648.6 375.3L1648.7 540.4L1648.8 542.5L1648.8 379.4L1648.9 611.1L1649.0 476.2L1649.0 605.9L1649.1 384.0L1649.1 610.7L1649.2 415.6L1649.3 488.0L1649.4 399.6L1649.4 613.5L1649.5 557.5L1649.5 571.0L1649.5 409.7L1649.6 614.2L1649.7 505.0L1649.8 457.5L1649.8 614.6L1649.8 416.2L1650.0 555.6L1650.0 526.2L1650.0 614.8L1650.1 421.6L1650.2 510.4L1650.3 613.7L1650.4 421.8L1650.4 615.7L1650.5 576.2L1650.5 605.6L1650.5 428.1L1650.7 615.5L1650.7 609.7L1650.8 506.6L1650.8 616.8L1650.9 448.6L1651.0 589.1L1651.0 592.8L1651.2 454.1L1651.2 617.4L1651.2 543.2L1651.3 570.1L1651.3 451.5L1651.3 616.9L1651.5 507.8L1651.5 548.8L1651.7 616.0L1651.7 450.2L1651.7 511.9L1651.8 446.8L1651.9 618.3L1652.0 547.2L1652.0 505.1L1652.1 619.4L1652.2 455.0L1652.3 556.2L1652.4 618.5L1652.4 461.3L1652.5 601.6L1652.5 468.7L1652.6 620.3L1652.7 457.1L1652.7 577.0L1652.8 594.8L1652.8 466.4L1652.8 620.3L1653.0 605.1L1653.0 591.5L1653.1 621.3L1653.2 481.6L1653.2 492.7L1653.3 548.3L1653.3 621.8L1653.4 455.3L1653.5 484.8L1653.5 579.6L1653.5 618.5L1653.7 459.6L1653.8 595.6L1653.8 457.3L1653.9 622.7L1654.0 527.4L1654.0 615.2L1654.1 623.4L1654.2 458.8L1654.3 498.4L1654.4 474.7L1654.5 622.1L1654.5 507.3L1654.5 621.9L1654.5 624.2L1654.7 459.2L1654.7 459.5L1654.8 574.4L1654.8 459.5L1654.9 624.5L1655.0 618.0L1655.0 569.3L1655.1 624.9L1655.1 457.4L1655.2 535.8L1655.3 488.1L1655.4 458.1L1655.5 625.9L1655.5 506.0L1655.5 595.7L1655.6 469.8L1655.7 625.3L1655.8 537.7L1655.9 456.9L1656.0 625.1L1656.0 557.3L1656.0 561.1L1656.0 626.2L1656.1 457.9L1656.2 578.6L1656.3 457.9L1656.4 623.8L1656.5 483.4L1656.5 626.6L1656.5 627.8L1656.6 456.6L1656.7 561.7L1656.8 597.8L1656.9 457.3L1656.9 628.3L1657.0 558.9L1657.0 579.7L1657.1 627.1L1657.2 462.5L1657.2 511.7L1657.3 528.8L1657.3 627.1L1657.3 469.4L1657.5 614.3L1657.5 617.1L1657.5 629.6L1657.6 456.1L1657.7 610.2L1657.8 535.5L1658.0 456.4L1658.0 630.2L1658.0 624.2L1658.0 583.4L1658.2 630.8L1658.2 479.4L1658.2 562.3L1658.3 605.0L1658.3 456.3L1658.5 631.5L1658.5 503.2L1658.6 631.6L1658.7 458.7L1658.8 490.2L1658.9 457.8L1658.9 631.0L1659.0 625.7L1659.0 583.9L1659.0 459.9L1659.2 632.4L1659.2 520.2L1659.3 580.4L1659.3 456.9L1659.4 632.9L1659.5 561.4L1659.5 551.5L1659.6 455.0L1659.6 632.9L1659.7 624.2L1659.8 460.7L1659.9 632.2L1660.0 458.7L1660.0 609.3L1660.0 521.1L1660.1 466.0L1660.2 634.4L1660.2 477.5L1660.3 600.9L1660.3 446.3L1660.4 634.2L1660.5 633.0L1660.5 571.3L1660.7 467.4L1660.7 633.2L1660.7 578.9L1660.8 558.3L1660.9 464.3L1661.0 635.1L1661.0 589.0L1661.0 543.0L1661.0 459.7L1661.2 634.9L1661.2 567.8L1661.3 575.6L1661.3 457.0L1661.3 635.5L1661.5 576.7L1661.5 576.4L1661.6 455.8L1661.7 635.6L1661.7 498.8L1661.8 576.3L1661.9 454.2L1661.9 636.0L1662.0 566.6L1662.0 594.3L1662.0 636.2L1662.1 460.2L1662.2 570.9L1662.3 633.7L1662.3 455.0L1662.4 635.4L1662.5 627.3L1662.5 528.6L1662.6 466.4L1662.7 636.9L1662.7 509.1L1662.8 465.5L1662.9 634.8L1663.0 456.8L1663.0 543.4L1663.0 598.5L1663.0 637.2L1663.1 470.1L1663.2 524.3L1663.3 456.7L1663.4 637.5L1663.4 455.6L1663.5 616.9L1663.5 564.7L1663.7 635.1L1663.7 458.8L1663.7 485.2L1663.8 481.4L1663.8 460.1L1663.9 633.2L1664.0 504.6L1664.0 461.6L1664.0 614.3"/>
</g>
<path d="M285 875v10M639 875v10M992 875v10M1345 875v10M392 875v6M454 875v6M498 875v6M532 875v6M560 875v6M584 875v6M604 875v6M622 875v6M745 875v6M807 875v6M851 875v6M886 875v6M913 875v6M937 875v6M958 875v6M976 875v6M1098 875v6M1160 875v6M1204 875v6M1239 875v6M1267 875v6M1290 875v6M1311 875v6M1329 875v6M1451 875v6M1514 875v6M1558 875v6M1592 875v6M1620 875v6M1644 875v6M1664 875v6M285 875h-10M285 616h-10M285 358h-10M285 99h-10M285 797h-6M285 751h-6M285 719h-6M285 694h-6M285 674h-6M285 656h-6M285 641h-6M285 628h-6M285 538h-6M285 493h-6M285 461h-6M285 435h-6M285 415h-6M285 398h-6M285 383h-6M285 369h-6M285 280h-6M285 234h-6M285 202h-6M285 177h-6M285 156h-6M285 139h-6M285 124h-6M285 111h-6" stroke="#000" stroke-width="2.22" fill="none"/>
<rect x="285" y="99" width="1379" height="776" fill="none" stroke="#000" stroke-width="2.22"/>
<rect x="310.4" y="692.45" width="475.17" height="158" rx="9.8" ry="9.8" fill="#fff" fill-opacity="0.8" stroke="#ccc" stroke-opacity="0.8" stroke-width="2.78"/>
<path d="M327.1 731H432.84" stroke="#ffa500" stroke-opacity="0.7" stroke-width="5.56" fill="none"/>
<path d="M327.1 802H432.84" stroke="#dda0dd" stroke-opacity="0.7" stroke-width="5.56" fill="none"/>
<text x="470.4" y="747.4" font-size="50">span 10 MHz</text>
<text x="470.4" y="820" font-size="50">span 2 GHz</text>
<text x="974.7" y="82.4" font-size="86.67" text-anchor="middle">function max-hold</text>
<text x="974.7" y="1049.1" font-size="72.2" text-anchor="middle">frequency (Hz)</text>
<text transform="translate(71.8,486.7) rotate(-90)" font-size="72.2" text-anchor="middle">signal (V²/Hz)</text>
<text transform="translate(99.4,136.2) scale(1,1.04)" font-size="72.2">10<tspan font-size="50.5" dx="1.5" dy="-48.1">−12</tspan></text>
<text transform="translate(99.4,394.867) scale(1,1.04)" font-size="72.2">10<tspan font-size="50.5" dx="1.5" dy="-48.1">−13</tspan></text>
<text transform="translate(99.4,653.533) scale(1,1.04)" font-size="72.2">10<tspan font-size="50.5" dx="1.5" dy="-48.1">−14</tspan></text>
<text transform="translate(99.4,912.2) scale(1,1.04)" font-size="72.2">10<tspan font-size="50.5" dx="1.5" dy="-48.1">−15</tspan></text>
<text transform="translate(231.74,971.9) scale(1,1.04)" font-size="72.2">10<tspan font-size="50.5" dx="0.7" dy="-48.9">5</tspan></text>
<text transform="translate(584.94,971.9) scale(1,1.04)" font-size="72.2">10<tspan font-size="50.5" dx="0.7" dy="-48.9">6</tspan></text>
<text transform="translate(938.14,971.9) scale(1,1.04)" font-size="72.2">10<tspan font-size="50.5" dx="0.7" dy="-48.9">7</tspan></text>
<text transform="translate(1291.34,971.9) scale(1,1.04)" font-size="72.2">10<tspan font-size="50.5" dx="0.7" dy="-48.9">8</tspan></text>
</svg></body></html>
